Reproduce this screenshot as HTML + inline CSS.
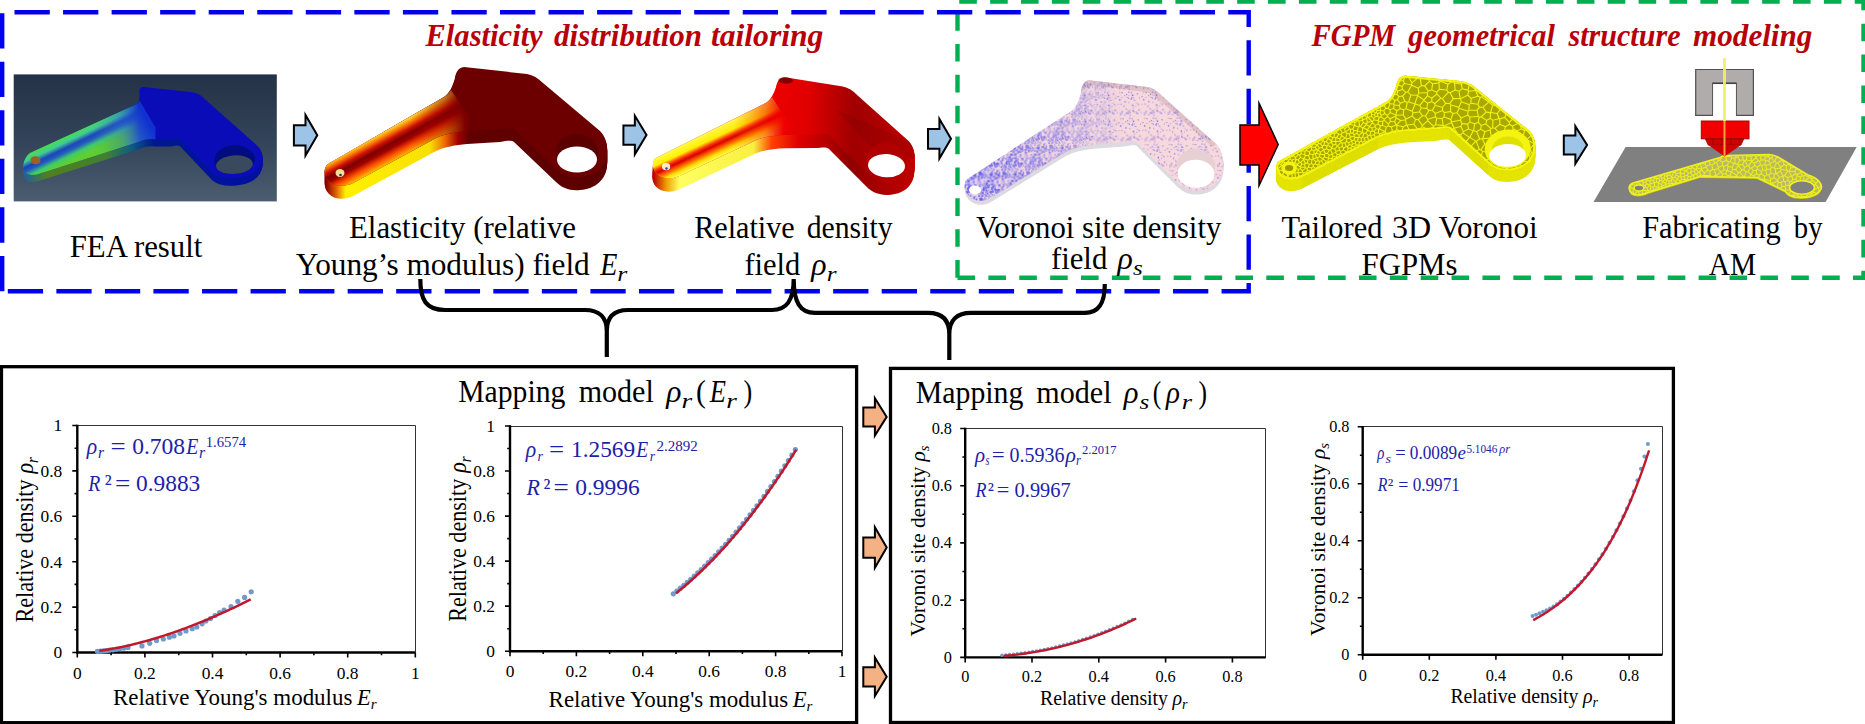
<!DOCTYPE html>
<html><head><meta charset="utf-8"><title>FGPM workflow</title>
<style>
html,body{margin:0;padding:0;background:#fff;}
body{width:1865px;height:724px;overflow:hidden;}
svg{display:block;font-family:'Liberation Serif','Times New Roman',serif;}
</style></head><body>
<svg width="1865" height="724" viewBox="0 0 1865 724">
<rect width="1865" height="724" fill="#fff"/>
<path d="M957.5,277.8 H1863.5 V1.5 H957.5 Z" fill="none" stroke="#00b050" stroke-width="4.4" stroke-dasharray="17.6 13.28"/>
<path d="M2.2,291.2 V12.2 H1248.7 V291.2 Z" fill="none" stroke="#0000f0" stroke-width="4.4" stroke-dasharray="35.3 13.25"/>
<text x="425.47" y="45.90" font-size="31.5" fill="#b80008" font-weight="bold" font-style="italic" textLength="117.24" lengthAdjust="spacingAndGlyphs">Elasticity</text>
<text x="554.10" y="45.90" font-size="31.5" fill="#b80008" font-weight="bold" font-style="italic" textLength="147.89" lengthAdjust="spacingAndGlyphs">distribution</text>
<text x="710.90" y="45.90" font-size="31.5" fill="#b80008" font-weight="bold" font-style="italic" textLength="112.55" lengthAdjust="spacingAndGlyphs">tailoring</text>
<text x="1311.52" y="46.20" font-size="31.5" fill="#b80008" font-weight="bold" font-style="italic" textLength="83.77" lengthAdjust="spacingAndGlyphs">FGPM</text>
<text x="1408.26" y="46.20" font-size="31.5" fill="#b80008" font-weight="bold" font-style="italic" textLength="146.60" lengthAdjust="spacingAndGlyphs">geometrical</text>
<text x="1568.55" y="46.20" font-size="31.5" fill="#b80008" font-weight="bold" font-style="italic" textLength="111.93" lengthAdjust="spacingAndGlyphs">structure</text>
<text x="1693.10" y="46.20" font-size="31.5" fill="#b80008" font-weight="bold" font-style="italic" textLength="119.24" lengthAdjust="spacingAndGlyphs">modeling</text>
<defs>
<path id="bkTop" d="M328,164 L444,97 C450,93 453,85 455,78 C456,72 458,68 464,67 L527,74 C533,75 538,78 543,83 L600,131 C606,137 608,146 607,153 C606,166 596,176 580,177 C570,178 562,175 556,169 L514,129 C511,127 507,128 500,129 L467,131 C455,132 445,134 436,138 L353,183 C345,187 335,187 329,181 C324,176 323,168 328,164 Z"/>
<path id="bkArm" d="M328,164 L444,97 C447,95 449,93 451,90 L470,118 L467,131 C455,132 445,134 436,138 L353,183 C345,187 335,187 329,181 C324,176 323,168 328,164 Z"/>
<path id="bkBlock" d="M451,90 C453,85 455,78 455,78 C456,72 458,68 464,67 L527,74 C533,75 538,78 543,83 L600,131 C606,137 608,146 607,153 C606,166 596,176 580,177 C570,178 562,175 556,169 L514,129 C511,127 507,128 500,129 L467,131 L470,118 Z"/>
<clipPath id="clipTop"><use href="#bkTop"/></clipPath>
<clipPath id="clipSee"><ellipse cx="577" cy="159.5" rx="20" ry="13"/></clipPath>
<linearGradient id="r1side" gradientUnits="userSpaceOnUse" x1="326" y1="0" x2="607" y2="0"><stop offset="0" stop-color="#8a0000"/><stop offset="0.036" stop-color="#e06000"/><stop offset="0.07" stop-color="#fff000"/><stop offset="0.37" stop-color="#f8e000"/><stop offset="0.42" stop-color="#f07000"/><stop offset="0.47" stop-color="#a00000"/><stop offset="0.51" stop-color="#620000"/><stop offset="1" stop-color="#5a0000"/></linearGradient>
<linearGradient id="r1arm" gradientUnits="userSpaceOnUse" x1="330" y1="178" x2="470" y2="105"><stop offset="0" stop-color="#d84000"/><stop offset="0.15" stop-color="#e86000"/><stop offset="0.5" stop-color="#c01000"/><stop offset="0.8" stop-color="#900000"/><stop offset="1" stop-color="#700000"/></linearGradient>
<linearGradient id="r1cross" gradientUnits="userSpaceOnUse" x1="386" y1="130.5" x2="400.5" y2="157.2"><stop offset="0" stop-color="#ffe040"/><stop offset="0.12" stop-color="#ff9000"/><stop offset="0.3" stop-color="#d01000"/><stop offset="0.45" stop-color="#780000"/><stop offset="0.6" stop-color="#a00000"/><stop offset="0.8" stop-color="#ff5000"/><stop offset="1" stop-color="#ffc000"/></linearGradient>
<linearGradient id="r1fade" gradientUnits="userSpaceOnUse" x1="330" y1="0" x2="465" y2="0"><stop offset="0" stop-color="#fff" stop-opacity="1"/><stop offset="0.6" stop-color="#fff" stop-opacity="0.95"/><stop offset="0.85" stop-color="#fff" stop-opacity="0.5"/><stop offset="1" stop-color="#fff" stop-opacity="0"/></linearGradient>
<mask id="r1mask"><rect x="300" y="50" width="200" height="160" fill="url(#r1fade)"/></mask>
<linearGradient id="r2side" gradientUnits="userSpaceOnUse" x1="326" y1="0" x2="607" y2="0"><stop offset="0" stop-color="#c00000"/><stop offset="0.05" stop-color="#f0a000"/><stop offset="0.1" stop-color="#ffff60"/><stop offset="0.38" stop-color="#f8f040"/><stop offset="0.45" stop-color="#ff4000"/><stop offset="0.55" stop-color="#e00000"/><stop offset="0.75" stop-color="#900000"/><stop offset="1" stop-color="#c00000"/></linearGradient>
<linearGradient id="r2top" gradientUnits="userSpaceOnUse" x1="440" y1="0" x2="607" y2="0"><stop offset="0" stop-color="#f00000"/><stop offset="0.3" stop-color="#e00000"/><stop offset="0.6" stop-color="#a00000"/><stop offset="1" stop-color="#c00000"/></linearGradient>
<linearGradient id="r2arm" gradientUnits="userSpaceOnUse" x1="330" y1="178" x2="470" y2="105"><stop offset="0" stop-color="#ffe000"/><stop offset="0.5" stop-color="#ff8000"/><stop offset="0.85" stop-color="#f00000"/><stop offset="1" stop-color="#f00000"/></linearGradient>
<linearGradient id="r2cross" gradientUnits="userSpaceOnUse" x1="386" y1="130.5" x2="400.5" y2="157.2"><stop offset="0" stop-color="#ffff50" stop-opacity="1"/><stop offset="0.3" stop-color="#fff000" stop-opacity="1"/><stop offset="0.45" stop-color="#ff3000" stop-opacity="1"/><stop offset="0.55" stop-color="#d00000" stop-opacity="1"/><stop offset="0.68" stop-color="#ff5000" stop-opacity="1"/><stop offset="0.85" stop-color="#ffe000" stop-opacity="1"/><stop offset="1" stop-color="#ffff60" stop-opacity="1"/></linearGradient>
<linearGradient id="feabg" x1="0" y1="0" x2="0" y2="1"><stop offset="0" stop-color="#233246"/><stop offset="0.55" stop-color="#34445a"/><stop offset="1" stop-color="#4d5d70"/></linearGradient>
<linearGradient id="feaarm" gradientUnits="userSpaceOnUse" x1="330" y1="178" x2="470" y2="105"><stop offset="0" stop-color="#30a040"/><stop offset="0.5" stop-color="#40b050"/><stop offset="0.8" stop-color="#3070c0"/><stop offset="1" stop-color="#1030d0"/></linearGradient>
<linearGradient id="feacross" gradientUnits="userSpaceOnUse" x1="386" y1="130.5" x2="400.5" y2="157.2"><stop offset="0" stop-color="#50e040" stop-opacity="1"/><stop offset="0.25" stop-color="#40d0a0" stop-opacity="0.9"/><stop offset="0.45" stop-color="#1838c8" stop-opacity="0.9"/><stop offset="0.6" stop-color="#2050d0" stop-opacity="0.9"/><stop offset="0.8" stop-color="#40d070" stop-opacity="0.9"/><stop offset="1" stop-color="#60d030" stop-opacity="1"/></linearGradient>
<linearGradient id="feaside" gradientUnits="userSpaceOnUse" x1="326" y1="0" x2="607" y2="0"><stop offset="0" stop-color="#2060a0"/><stop offset="0.1" stop-color="#508020"/><stop offset="0.35" stop-color="#408030"/><stop offset="0.45" stop-color="#106080"/><stop offset="0.55" stop-color="#001890"/><stop offset="1" stop-color="#0010a0"/></linearGradient>
<linearGradient id="vtop" gradientUnits="userSpaceOnUse" x1="330" y1="0" x2="607" y2="0"><stop offset="0" stop-color="#b8b0f0"/><stop offset="0.3" stop-color="#e8d0e8"/><stop offset="1" stop-color="#f6dcdc"/></linearGradient>
<pattern id="vdA" patternUnits="userSpaceOnUse" width="26" height="26"><rect x="11.8" y="14.6" width="2.4" height="2.4" fill="#7070f0" fill-opacity="0.57"/><rect x="4.9" y="20.9" width="2.4" height="2.4" fill="#3838e0" fill-opacity="0.68"/><rect x="2.4" y="7.9" width="1.3" height="1.3" fill="#7070f0" fill-opacity="0.62"/><rect x="16.5" y="15.5" width="2.4" height="2.4" fill="#7070f0" fill-opacity="0.88"/><rect x="19.2" y="16.9" width="1.3" height="1.3" fill="#3838e0" fill-opacity="0.80"/><rect x="1.5" y="4.9" width="1.6" height="1.6" fill="#5050e8" fill-opacity="0.66"/><rect x="8.5" y="15.4" width="1.6" height="1.6" fill="#7070f0" fill-opacity="0.61"/><rect x="7.6" y="0.1" width="1.3" height="1.3" fill="#5050e8" fill-opacity="0.57"/><rect x="10.6" y="14.3" width="1.3" height="1.3" fill="#5050e8" fill-opacity="0.72"/><rect x="19.7" y="13.3" width="1.3" height="1.3" fill="#3838e0" fill-opacity="0.34"/><rect x="10.4" y="22.0" width="2.4" height="2.4" fill="#3838e0" fill-opacity="0.34"/><rect x="22.0" y="0.0" width="1.6" height="1.6" fill="#3838e0" fill-opacity="0.86"/><rect x="12.2" y="25.5" width="2.4" height="2.4" fill="#7070f0" fill-opacity="0.55"/><rect x="16.4" y="20.2" width="2.0" height="2.0" fill="#5050e8" fill-opacity="0.50"/><rect x="8.6" y="25.1" width="1.3" height="1.3" fill="#7070f0" fill-opacity="0.38"/><rect x="2.6" y="1.6" width="2.4" height="2.4" fill="#7070f0" fill-opacity="0.41"/><rect x="4.9" y="13.2" width="1.6" height="1.6" fill="#5050e8" fill-opacity="0.55"/><rect x="3.0" y="10.9" width="1.6" height="1.6" fill="#7070f0" fill-opacity="0.30"/><rect x="7.9" y="23.0" width="1.6" height="1.6" fill="#7070f0" fill-opacity="0.41"/><rect x="16.7" y="2.6" width="1.6" height="1.6" fill="#5050e8" fill-opacity="0.43"/><rect x="0.2" y="15.9" width="2.0" height="2.0" fill="#3838e0" fill-opacity="0.53"/><rect x="2.3" y="15.2" width="1.6" height="1.6" fill="#5050e8" fill-opacity="0.31"/><rect x="9.7" y="11.8" width="2.4" height="2.4" fill="#3838e0" fill-opacity="0.80"/><rect x="22.5" y="4.8" width="1.6" height="1.6" fill="#3838e0" fill-opacity="0.49"/><rect x="21.3" y="6.5" width="1.6" height="1.6" fill="#7070f0" fill-opacity="0.40"/><rect x="24.5" y="5.1" width="2.4" height="2.4" fill="#7070f0" fill-opacity="0.83"/><rect x="2.0" y="1.2" width="1.3" height="1.3" fill="#5050e8" fill-opacity="0.32"/><rect x="6.2" y="18.3" width="2.0" height="2.0" fill="#7070f0" fill-opacity="0.55"/><rect x="12.8" y="13.5" width="1.3" height="1.3" fill="#5050e8" fill-opacity="0.38"/><rect x="14.5" y="22.2" width="1.3" height="1.3" fill="#3838e0" fill-opacity="0.47"/><rect x="19.5" y="1.8" width="2.4" height="2.4" fill="#3838e0" fill-opacity="0.57"/><rect x="1.2" y="7.3" width="1.6" height="1.6" fill="#3838e0" fill-opacity="0.36"/><rect x="23.2" y="25.5" width="1.6" height="1.6" fill="#3838e0" fill-opacity="0.65"/><rect x="12.3" y="9.3" width="2.0" height="2.0" fill="#3838e0" fill-opacity="0.88"/><rect x="15.6" y="1.9" width="1.3" height="1.3" fill="#5050e8" fill-opacity="0.74"/><rect x="3.6" y="1.9" width="2.4" height="2.4" fill="#7070f0" fill-opacity="0.63"/><rect x="1.2" y="24.3" width="1.6" height="1.6" fill="#5050e8" fill-opacity="0.78"/><rect x="9.1" y="17.8" width="1.3" height="1.3" fill="#5050e8" fill-opacity="0.82"/><rect x="24.6" y="0.8" width="2.4" height="2.4" fill="#7070f0" fill-opacity="0.64"/><rect x="17.2" y="9.9" width="1.3" height="1.3" fill="#3838e0" fill-opacity="0.67"/><rect x="2.4" y="3.0" width="2.0" height="2.0" fill="#7070f0" fill-opacity="0.83"/><rect x="8.6" y="24.3" width="2.4" height="2.4" fill="#7070f0" fill-opacity="0.56"/><rect x="2.2" y="19.5" width="1.3" height="1.3" fill="#3838e0" fill-opacity="0.49"/><rect x="12.5" y="6.0" width="1.3" height="1.3" fill="#7070f0" fill-opacity="0.60"/><rect x="17.2" y="12.6" width="1.3" height="1.3" fill="#3838e0" fill-opacity="0.52"/><rect x="17.6" y="5.3" width="1.6" height="1.6" fill="#5050e8" fill-opacity="0.75"/><rect x="17.2" y="11.5" width="1.6" height="1.6" fill="#7070f0" fill-opacity="0.50"/><rect x="6.5" y="16.5" width="1.6" height="1.6" fill="#5050e8" fill-opacity="0.83"/><rect x="5.7" y="23.9" width="1.6" height="1.6" fill="#5050e8" fill-opacity="0.38"/><rect x="9.1" y="23.3" width="1.3" height="1.3" fill="#5050e8" fill-opacity="0.73"/><rect x="21.4" y="2.9" width="2.4" height="2.4" fill="#3838e0" fill-opacity="0.47"/><rect x="21.6" y="9.9" width="2.4" height="2.4" fill="#7070f0" fill-opacity="0.70"/><rect x="21.8" y="25.5" width="2.4" height="2.4" fill="#3838e0" fill-opacity="0.49"/><rect x="7.2" y="15.8" width="2.0" height="2.0" fill="#5050e8" fill-opacity="0.64"/><rect x="16.9" y="14.7" width="1.6" height="1.6" fill="#3838e0" fill-opacity="0.54"/><rect x="0.6" y="21.6" width="1.6" height="1.6" fill="#3838e0" fill-opacity="0.77"/><rect x="25.6" y="3.0" width="1.3" height="1.3" fill="#7070f0" fill-opacity="0.68"/><rect x="16.6" y="9.6" width="1.3" height="1.3" fill="#3838e0" fill-opacity="0.71"/><rect x="21.4" y="6.7" width="1.3" height="1.3" fill="#7070f0" fill-opacity="0.75"/><rect x="18.6" y="4.7" width="2.0" height="2.0" fill="#7070f0" fill-opacity="0.77"/><rect x="18.1" y="13.5" width="1.6" height="1.6" fill="#7070f0" fill-opacity="0.54"/><rect x="23.6" y="2.3" width="2.4" height="2.4" fill="#5050e8" fill-opacity="0.38"/><rect x="5.1" y="23.1" width="1.3" height="1.3" fill="#7070f0" fill-opacity="0.53"/><rect x="17.0" y="13.1" width="2.0" height="2.0" fill="#7070f0" fill-opacity="0.58"/><rect x="25.5" y="2.6" width="1.3" height="1.3" fill="#5050e8" fill-opacity="0.43"/><rect x="25.5" y="25.4" width="2.0" height="2.0" fill="#7070f0" fill-opacity="0.46"/><rect x="22.3" y="9.1" width="1.3" height="1.3" fill="#5050e8" fill-opacity="0.32"/><rect x="14.3" y="20.0" width="2.4" height="2.4" fill="#3838e0" fill-opacity="0.85"/><rect x="21.0" y="1.7" width="1.3" height="1.3" fill="#5050e8" fill-opacity="0.40"/><rect x="17.9" y="23.8" width="2.4" height="2.4" fill="#7070f0" fill-opacity="0.39"/><rect x="23.4" y="13.5" width="2.4" height="2.4" fill="#5050e8" fill-opacity="0.87"/><rect x="15.1" y="17.9" width="1.6" height="1.6" fill="#7070f0" fill-opacity="0.56"/><rect x="7.5" y="18.9" width="1.6" height="1.6" fill="#7070f0" fill-opacity="0.61"/><rect x="6.7" y="17.5" width="1.6" height="1.6" fill="#3838e0" fill-opacity="0.48"/><rect x="25.2" y="13.6" width="2.4" height="2.4" fill="#7070f0" fill-opacity="0.42"/><rect x="3.0" y="0.1" width="2.4" height="2.4" fill="#3838e0" fill-opacity="0.32"/><rect x="13.4" y="10.4" width="1.3" height="1.3" fill="#7070f0" fill-opacity="0.59"/><rect x="4.3" y="24.2" width="2.4" height="2.4" fill="#5050e8" fill-opacity="0.55"/><rect x="7.0" y="12.3" width="1.6" height="1.6" fill="#5050e8" fill-opacity="0.50"/><rect x="13.6" y="2.8" width="2.4" height="2.4" fill="#5050e8" fill-opacity="0.67"/><rect x="3.4" y="20.3" width="1.3" height="1.3" fill="#3838e0" fill-opacity="0.32"/><rect x="5.9" y="17.9" width="2.0" height="2.0" fill="#3838e0" fill-opacity="0.73"/><rect x="16.1" y="2.7" width="1.3" height="1.3" fill="#7070f0" fill-opacity="0.81"/><rect x="6.5" y="5.1" width="2.4" height="2.4" fill="#7070f0" fill-opacity="0.31"/><rect x="10.7" y="13.8" width="1.6" height="1.6" fill="#7070f0" fill-opacity="0.62"/><rect x="13.9" y="5.7" width="1.6" height="1.6" fill="#7070f0" fill-opacity="0.81"/><rect x="15.3" y="3.5" width="2.0" height="2.0" fill="#5050e8" fill-opacity="0.84"/><rect x="15.7" y="23.2" width="1.6" height="1.6" fill="#3838e0" fill-opacity="0.43"/><rect x="23.1" y="3.5" width="1.6" height="1.6" fill="#3838e0" fill-opacity="0.38"/><rect x="6.7" y="2.5" width="2.4" height="2.4" fill="#7070f0" fill-opacity="0.63"/><rect x="3.3" y="10.5" width="1.3" height="1.3" fill="#7070f0" fill-opacity="0.36"/><rect x="17.7" y="23.7" width="2.0" height="2.0" fill="#7070f0" fill-opacity="0.37"/><rect x="16.5" y="8.9" width="1.6" height="1.6" fill="#5050e8" fill-opacity="0.78"/><rect x="2.8" y="1.0" width="2.4" height="2.4" fill="#3838e0" fill-opacity="0.39"/><rect x="3.0" y="4.5" width="1.6" height="1.6" fill="#7070f0" fill-opacity="0.89"/><rect x="2.5" y="1.6" width="2.4" height="2.4" fill="#3838e0" fill-opacity="0.35"/><rect x="8.5" y="12.1" width="2.0" height="2.0" fill="#7070f0" fill-opacity="0.56"/><rect x="9.7" y="16.5" width="1.3" height="1.3" fill="#3838e0" fill-opacity="0.81"/><rect x="10.6" y="9.3" width="2.0" height="2.0" fill="#3838e0" fill-opacity="0.54"/><rect x="15.7" y="2.5" width="1.3" height="1.3" fill="#3838e0" fill-opacity="0.49"/><rect x="20.8" y="18.3" width="2.4" height="2.4" fill="#3838e0" fill-opacity="0.64"/><rect x="13.1" y="25.5" width="2.0" height="2.0" fill="#3838e0" fill-opacity="0.47"/><rect x="19.4" y="20.2" width="2.4" height="2.4" fill="#5050e8" fill-opacity="0.38"/><rect x="22.9" y="18.1" width="2.4" height="2.4" fill="#5050e8" fill-opacity="0.76"/><rect x="5.4" y="4.8" width="2.0" height="2.0" fill="#3838e0" fill-opacity="0.48"/><rect x="0.3" y="9.2" width="1.3" height="1.3" fill="#7070f0" fill-opacity="0.44"/><rect x="7.8" y="5.6" width="2.4" height="2.4" fill="#7070f0" fill-opacity="0.64"/><rect x="2.0" y="13.4" width="2.4" height="2.4" fill="#7070f0" fill-opacity="0.69"/><rect x="3.1" y="10.3" width="1.3" height="1.3" fill="#3838e0" fill-opacity="0.37"/><rect x="19.2" y="6.7" width="2.4" height="2.4" fill="#3838e0" fill-opacity="0.60"/><rect x="16.8" y="0.3" width="2.0" height="2.0" fill="#5050e8" fill-opacity="0.45"/><rect x="14.3" y="13.2" width="1.3" height="1.3" fill="#7070f0" fill-opacity="0.68"/><rect x="2.0" y="15.5" width="1.3" height="1.3" fill="#3838e0" fill-opacity="0.53"/><rect x="10.0" y="25.2" width="2.4" height="2.4" fill="#7070f0" fill-opacity="0.63"/><rect x="1.5" y="24.6" width="2.4" height="2.4" fill="#5050e8" fill-opacity="0.47"/><rect x="15.5" y="9.5" width="2.0" height="2.0" fill="#5050e8" fill-opacity="0.59"/><rect x="14.6" y="7.4" width="2.0" height="2.0" fill="#3838e0" fill-opacity="0.32"/><rect x="15.2" y="16.5" width="2.4" height="2.4" fill="#5050e8" fill-opacity="0.75"/><rect x="1.4" y="8.2" width="2.4" height="2.4" fill="#7070f0" fill-opacity="0.33"/><rect x="24.6" y="1.9" width="1.6" height="1.6" fill="#5050e8" fill-opacity="0.56"/><rect x="6.5" y="19.6" width="1.3" height="1.3" fill="#7070f0" fill-opacity="0.61"/><rect x="23.6" y="3.8" width="1.6" height="1.6" fill="#3838e0" fill-opacity="0.66"/><rect x="1.3" y="10.8" width="1.3" height="1.3" fill="#3838e0" fill-opacity="0.42"/><rect x="9.3" y="4.0" width="2.0" height="2.0" fill="#7070f0" fill-opacity="0.57"/><rect x="10.8" y="15.6" width="2.4" height="2.4" fill="#7070f0" fill-opacity="0.52"/><rect x="13.8" y="25.9" width="2.0" height="2.0" fill="#3838e0" fill-opacity="0.74"/><rect x="12.5" y="13.1" width="2.0" height="2.0" fill="#7070f0" fill-opacity="0.77"/><rect x="22.0" y="7.1" width="1.6" height="1.6" fill="#3838e0" fill-opacity="0.68"/><rect x="4.9" y="6.5" width="1.6" height="1.6" fill="#3838e0" fill-opacity="0.83"/><rect x="16.3" y="0.2" width="2.0" height="2.0" fill="#7070f0" fill-opacity="0.56"/><rect x="1.0" y="5.8" width="2.0" height="2.0" fill="#3838e0" fill-opacity="0.34"/><rect x="23.7" y="4.2" width="1.6" height="1.6" fill="#5050e8" fill-opacity="0.68"/><rect x="12.6" y="9.2" width="2.0" height="2.0" fill="#7070f0" fill-opacity="0.51"/><rect x="3.5" y="22.6" width="1.3" height="1.3" fill="#7070f0" fill-opacity="0.57"/><rect x="21.8" y="20.0" width="2.4" height="2.4" fill="#5050e8" fill-opacity="0.55"/><rect x="10.1" y="3.9" width="1.6" height="1.6" fill="#7070f0" fill-opacity="0.69"/><rect x="8.5" y="14.3" width="1.6" height="1.6" fill="#5050e8" fill-opacity="0.56"/><rect x="15.1" y="12.0" width="2.0" height="2.0" fill="#3838e0" fill-opacity="0.35"/><rect x="11.2" y="14.8" width="2.4" height="2.4" fill="#3838e0" fill-opacity="0.48"/><rect x="2.0" y="5.5" width="1.3" height="1.3" fill="#5050e8" fill-opacity="0.72"/><rect x="18.8" y="18.0" width="2.0" height="2.0" fill="#3838e0" fill-opacity="0.83"/><rect x="9.3" y="18.9" width="2.0" height="2.0" fill="#5050e8" fill-opacity="0.84"/><rect x="18.4" y="14.8" width="2.0" height="2.0" fill="#5050e8" fill-opacity="0.56"/><rect x="11.9" y="5.8" width="1.6" height="1.6" fill="#5050e8" fill-opacity="0.35"/><rect x="0.6" y="17.6" width="2.4" height="2.4" fill="#7070f0" fill-opacity="0.78"/><rect x="14.7" y="20.7" width="1.6" height="1.6" fill="#7070f0" fill-opacity="0.80"/><rect x="4.6" y="2.3" width="2.4" height="2.4" fill="#5050e8" fill-opacity="0.83"/><rect x="21.1" y="5.8" width="1.3" height="1.3" fill="#7070f0" fill-opacity="0.63"/><rect x="7.7" y="0.6" width="2.4" height="2.4" fill="#7070f0" fill-opacity="0.34"/><rect x="7.9" y="14.2" width="2.0" height="2.0" fill="#7070f0" fill-opacity="0.35"/></pattern>
<pattern id="vdB" patternUnits="userSpaceOnUse" width="26" height="26"><rect x="2.7" y="8.2" width="1.0" height="1.0" fill="#5050e0" fill-opacity="0.68"/><rect x="2.5" y="21.2" width="1.2" height="1.2" fill="#5050e0" fill-opacity="0.45"/><rect x="12.7" y="23.6" width="1.2" height="1.2" fill="#7070f0" fill-opacity="0.76"/><rect x="9.1" y="21.0" width="1.2" height="1.2" fill="#7070f0" fill-opacity="0.70"/><rect x="12.7" y="20.9" width="1.0" height="1.0" fill="#5050e0" fill-opacity="0.72"/><rect x="10.7" y="21.5" width="1.5" height="1.5" fill="#5050e0" fill-opacity="0.51"/><rect x="21.0" y="21.7" width="1.2" height="1.2" fill="#5050e0" fill-opacity="0.87"/><rect x="13.6" y="18.5" width="1.0" height="1.0" fill="#7070f0" fill-opacity="0.55"/><rect x="23.8" y="6.4" width="1.0" height="1.0" fill="#7070f0" fill-opacity="0.89"/><rect x="17.8" y="8.3" width="1.2" height="1.2" fill="#7070f0" fill-opacity="0.55"/><rect x="7.1" y="23.0" width="1.2" height="1.2" fill="#5050e0" fill-opacity="0.49"/><rect x="7.9" y="4.0" width="1.0" height="1.0" fill="#7070f0" fill-opacity="0.85"/><rect x="0.4" y="12.5" width="1.0" height="1.0" fill="#5050e0" fill-opacity="0.49"/><rect x="4.8" y="5.7" width="1.0" height="1.0" fill="#7070f0" fill-opacity="0.66"/><rect x="15.5" y="5.8" width="1.0" height="1.0" fill="#7070f0" fill-opacity="0.84"/><rect x="4.5" y="19.7" width="1.2" height="1.2" fill="#7070f0" fill-opacity="0.68"/><rect x="22.2" y="12.6" width="1.2" height="1.2" fill="#7070f0" fill-opacity="0.85"/><rect x="17.2" y="20.1" width="1.0" height="1.0" fill="#5050e0" fill-opacity="0.59"/><rect x="10.4" y="5.7" width="1.0" height="1.0" fill="#7070f0" fill-opacity="0.78"/><rect x="25.4" y="20.7" width="1.2" height="1.2" fill="#5050e0" fill-opacity="0.77"/><rect x="17.1" y="6.2" width="1.0" height="1.0" fill="#7070f0" fill-opacity="0.82"/><rect x="11.7" y="6.4" width="1.2" height="1.2" fill="#5050e0" fill-opacity="0.66"/><rect x="10.8" y="20.1" width="1.0" height="1.0" fill="#5050e0" fill-opacity="0.46"/><rect x="16.6" y="25.8" width="1.2" height="1.2" fill="#5050e0" fill-opacity="0.61"/><rect x="3.9" y="20.0" width="1.0" height="1.0" fill="#5050e0" fill-opacity="0.42"/><rect x="21.4" y="2.1" width="1.2" height="1.2" fill="#5050e0" fill-opacity="0.67"/><rect x="23.1" y="18.0" width="1.0" height="1.0" fill="#7070f0" fill-opacity="0.87"/><rect x="0.5" y="4.9" width="1.0" height="1.0" fill="#5050e0" fill-opacity="0.85"/><rect x="20.3" y="11.4" width="1.0" height="1.0" fill="#7070f0" fill-opacity="0.63"/><rect x="4.1" y="21.6" width="1.2" height="1.2" fill="#7070f0" fill-opacity="0.49"/><rect x="2.0" y="7.9" width="1.2" height="1.2" fill="#5050e0" fill-opacity="0.70"/><rect x="9.4" y="17.9" width="1.0" height="1.0" fill="#7070f0" fill-opacity="0.70"/><rect x="19.4" y="20.4" width="1.0" height="1.0" fill="#5050e0" fill-opacity="0.69"/><rect x="22.5" y="18.5" width="1.2" height="1.2" fill="#5050e0" fill-opacity="0.44"/><rect x="11.9" y="0.3" width="1.5" height="1.5" fill="#5050e0" fill-opacity="0.42"/><rect x="7.6" y="9.8" width="1.5" height="1.5" fill="#7070f0" fill-opacity="0.75"/><rect x="19.6" y="14.4" width="1.0" height="1.0" fill="#5050e0" fill-opacity="0.45"/><rect x="9.8" y="2.8" width="1.2" height="1.2" fill="#7070f0" fill-opacity="0.87"/><rect x="18.8" y="8.6" width="1.2" height="1.2" fill="#5050e0" fill-opacity="0.36"/><rect x="16.2" y="3.4" width="1.5" height="1.5" fill="#5050e0" fill-opacity="0.72"/><rect x="5.0" y="0.9" width="1.2" height="1.2" fill="#5050e0" fill-opacity="0.66"/><rect x="2.6" y="0.8" width="1.0" height="1.0" fill="#5050e0" fill-opacity="0.56"/><rect x="8.9" y="21.4" width="1.5" height="1.5" fill="#5050e0" fill-opacity="0.38"/><rect x="19.9" y="21.3" width="1.2" height="1.2" fill="#7070f0" fill-opacity="0.59"/><rect x="16.2" y="18.9" width="1.5" height="1.5" fill="#5050e0" fill-opacity="0.72"/><rect x="17.2" y="15.8" width="1.0" height="1.0" fill="#5050e0" fill-opacity="0.46"/><rect x="8.9" y="16.9" width="1.0" height="1.0" fill="#5050e0" fill-opacity="0.63"/><rect x="13.2" y="20.5" width="1.0" height="1.0" fill="#5050e0" fill-opacity="0.67"/><rect x="6.6" y="14.0" width="1.2" height="1.2" fill="#7070f0" fill-opacity="0.63"/><rect x="15.9" y="13.3" width="1.5" height="1.5" fill="#5050e0" fill-opacity="0.73"/><rect x="14.8" y="0.7" width="1.5" height="1.5" fill="#5050e0" fill-opacity="0.42"/><rect x="3.5" y="12.4" width="1.2" height="1.2" fill="#7070f0" fill-opacity="0.72"/><rect x="2.4" y="22.7" width="1.2" height="1.2" fill="#5050e0" fill-opacity="0.58"/><rect x="11.8" y="19.0" width="1.0" height="1.0" fill="#5050e0" fill-opacity="0.84"/><rect x="14.6" y="6.9" width="1.5" height="1.5" fill="#7070f0" fill-opacity="0.90"/><rect x="15.6" y="3.2" width="1.0" height="1.0" fill="#7070f0" fill-opacity="0.47"/><rect x="6.3" y="14.9" width="1.0" height="1.0" fill="#5050e0" fill-opacity="0.41"/><rect x="11.8" y="10.5" width="1.5" height="1.5" fill="#7070f0" fill-opacity="0.38"/><rect x="16.0" y="16.6" width="1.0" height="1.0" fill="#7070f0" fill-opacity="0.40"/><rect x="12.2" y="3.7" width="1.2" height="1.2" fill="#7070f0" fill-opacity="0.37"/></pattern>
<linearGradient id="vfade" gradientUnits="userSpaceOnUse" x1="330" y1="0" x2="500" y2="0"><stop offset="0" stop-color="#fff" stop-opacity="1"/><stop offset="0.6" stop-color="#fff" stop-opacity="0.55"/><stop offset="1" stop-color="#fff" stop-opacity="0"/></linearGradient>
<mask id="vmask"><rect x="300" y="50" width="330" height="160" fill="url(#vfade)"/></mask>
<linearGradient id="vtop2" gradientUnits="userSpaceOnUse" x1="330" y1="0" x2="520" y2="0"><stop offset="0" stop-color="#e4d0ec"/><stop offset="0.45" stop-color="#f2d6e0"/><stop offset="1" stop-color="#f7d8dc"/></linearGradient>
</defs>
<rect x="13.7" y="74.4" width="263.1" height="127" fill="url(#feabg)"/><g transform="matrix(0.8463,0.0338,0.0256,0.8009,-256.8,14.13)"><defs><path id="bkTopF" d="M 334.07,159.29 L 462.28,92.70 C 465.49,90.38 465.79,84.24 465.84,78.99 C 465.60,74.29 466.59,71.26 471.21,71.13 L 528.12,75.20 C 534.06,75.81 538.95,78.63 543.73,83.83 L 601.89,137.63 C 607.92,142.62 609.82,150.00 608.64,155.95 C 606.64,168.12 595.07,178.39 577.33,180.54 C 564.78,182.71 555.12,180.65 548.52,175.21 L 512.17,134.80 C 509.95,132.69 506.90,133.89 502.00,135.11 L 482.95,136.03 C 476.72,135.35 471.07,136.06 464.64,139.42 L 347.04,183.59 C 337.56,188.01 328.67,187.77 326.35,180.50 C 324.29,174.87 327.29,164.99 334.07,159.29 Z"/></defs><use href="#bkTopF" y="9" fill="url(#feaside)"/><use href="#bkTopF" y="8" fill="url(#feaside)"/><use href="#bkTopF" y="7" fill="url(#feaside)"/><use href="#bkTopF" y="6" fill="url(#feaside)"/><use href="#bkTopF" y="5" fill="url(#feaside)"/><use href="#bkTopF" y="4" fill="url(#feaside)"/><use href="#bkTopF" y="3" fill="url(#feaside)"/><use href="#bkTopF" y="2" fill="url(#feaside)"/><use href="#bkTopF" y="1" fill="url(#feaside)"/><use href="#bkTopF" fill="#0a0cb8"/><path d="M 334.07,159.29 L 462.28,92.70 C 463.88,91.46 464.79,90.12 465.48,87.97 L 483.58,121.35 L 482.95,136.03 C 476.72,135.35 471.07,136.06 464.64,139.42 L 347.04,183.59 C 337.56,188.01 328.67,187.77 326.35,180.50 C 324.29,174.87 327.29,164.99 334.07,159.29 Z" fill="url(#feaarm)"/><g mask="url(#r1mask)"><path d="M 334.07,159.29 L 462.28,92.70 C 463.88,91.46 464.79,90.12 465.48,87.97 L 483.58,121.35 L 482.95,136.03 C 476.72,135.35 471.07,136.06 464.64,139.42 L 347.04,183.59 C 337.56,188.01 328.67,187.77 326.35,180.50 C 324.29,174.87 327.29,164.99 334.07,159.29 Z" fill="url(#feacross)"/></g><path d="M 600.16,155.35 C 599.46,164.41 588.72,172.69 575.64,173.59 C 560.60,175.02 550.15,167.83 552.21,157.51 C 553.56,147.31 565.16,139.00 578.32,139.25 C 590.59,139.81 600.19,146.98 600.16,155.35 Z" fill="#000c80"/><path d="M 597.32,162.20 C 596.46,168.53 586.91,174.29 575.23,175.14 C 562.10,176.38 552.31,171.92 553.87,165.02 C 555.18,158.20 566.29,152.21 578.65,151.76 C 589.67,151.63 597.75,156.19 597.32,162.20 Z" fill="#3a4a5e"/><ellipse cx="340.3" cy="168.1" rx="6" ry="5" fill="#a06020"/></g>
<g><use href="#bkTop" y="13" fill="url(#r1side)"/><use href="#bkTop" y="12" fill="url(#r1side)"/><use href="#bkTop" y="11" fill="url(#r1side)"/><use href="#bkTop" y="10" fill="url(#r1side)"/><use href="#bkTop" y="9" fill="url(#r1side)"/><use href="#bkTop" y="8" fill="url(#r1side)"/><use href="#bkTop" y="7" fill="url(#r1side)"/><use href="#bkTop" y="6" fill="url(#r1side)"/><use href="#bkTop" y="5" fill="url(#r1side)"/><use href="#bkTop" y="4" fill="url(#r1side)"/><use href="#bkTop" y="3" fill="url(#r1side)"/><use href="#bkTop" y="2" fill="url(#r1side)"/><use href="#bkTop" y="1" fill="url(#r1side)"/><use href="#bkTop" fill="#6c0000"/><use href="#bkArm" fill="url(#r1arm)"/><g mask="url(#r1mask)"><use href="#bkArm" fill="url(#r1cross)"/></g><ellipse cx="577" cy="152" rx="21" ry="18" fill="#5a0000"/><ellipse cx="577" cy="159.5" rx="20" ry="13" fill="#fff"/><ellipse cx="340" cy="173" rx="4.5" ry="4" fill="#fff8a0" opacity="0.9"/><circle cx="340.5" cy="175" r="1.3" fill="#203080"/></g>
<g transform="matrix(0.9245,0.0465,-0.0298,0.8979,357.83,-4.45)"><g><use href="#bkTop" y="15" fill="url(#r2side)"/><use href="#bkTop" y="14" fill="url(#r2side)"/><use href="#bkTop" y="13" fill="url(#r2side)"/><use href="#bkTop" y="12" fill="url(#r2side)"/><use href="#bkTop" y="11" fill="url(#r2side)"/><use href="#bkTop" y="10" fill="url(#r2side)"/><use href="#bkTop" y="9" fill="url(#r2side)"/><use href="#bkTop" y="8" fill="url(#r2side)"/><use href="#bkTop" y="7" fill="url(#r2side)"/><use href="#bkTop" y="6" fill="url(#r2side)"/><use href="#bkTop" y="5" fill="url(#r2side)"/><use href="#bkTop" y="4" fill="url(#r2side)"/><use href="#bkTop" y="3" fill="url(#r2side)"/><use href="#bkTop" y="2" fill="url(#r2side)"/><use href="#bkTop" y="1" fill="url(#r2side)"/><use href="#bkTop" fill="url(#r2top)"/><use href="#bkArm" fill="url(#r2arm)"/><g mask="url(#r1mask)"><use href="#bkArm" fill="url(#r2cross)"/></g><ellipse cx="465" cy="70.5" rx="8" ry="3.5" fill="#300000" opacity="0.55"/><path d="M520,100 L600,131 C606,137 607,146 606,150 L560,140 Z" fill="#700000" opacity="0.2"/><ellipse cx="577" cy="152" rx="21" ry="18" fill="#b00000"/><ellipse cx="577" cy="159.5" rx="20" ry="13" fill="#fff"/><ellipse cx="339" cy="173" rx="4.5" ry="4" fill="#fffff0" opacity="0.9"/><circle cx="339.5" cy="175" r="1.4" fill="#2040c0"/></g></g>
<g transform="matrix(0.9186,-0.0065,0.0333,1.0069,660.62,15.90)"><use href="#bkTop" y="4" fill="#dcdae0"/><use href="#bkTop" y="3" fill="#dcdae0"/><use href="#bkTop" y="2" fill="#dcdae0"/><use href="#bkTop" y="1" fill="#dcdae0"/><use href="#bkTop" fill="url(#vtop2)"/><path d="M455,78 C456,72 458,68 464,67 L527,74 C533,75 538,78 543,83 L600,131 L596,134 L540,87 C535,83 530,80 525,79 L466,72 Z" fill="#e2c2c4"/><use href="#bkTop" fill="url(#vdB)"/><g mask="url(#vmask)"><use href="#bkTop" fill="url(#vdA)"/></g><ellipse cx="577" cy="153" rx="21" ry="17" fill="#e6d0d4"/><ellipse cx="577" cy="160.5" rx="20" ry="14" fill="#fff"/><ellipse cx="336" cy="175" rx="6.5" ry="4.5" fill="#fff"/></g>
<g transform="matrix(0.9176,-0.0073,-0.0092,0.8712,979.60,20.58)"><use href="#bkTop" y="13" fill="#e4e400"/><use href="#bkTop" y="12" fill="#e4e400"/><use href="#bkTop" y="11" fill="#e4e400"/><use href="#bkTop" y="10" fill="#e4e400"/><use href="#bkTop" y="9" fill="#e4e400"/><use href="#bkTop" y="8" fill="#e4e400"/><use href="#bkTop" y="7" fill="#e4e400"/><use href="#bkTop" y="6" fill="#e4e400"/><use href="#bkTop" y="5" fill="#e4e400"/><use href="#bkTop" y="4" fill="#e4e400"/><use href="#bkTop" y="3" fill="#e4e400"/><use href="#bkTop" y="2" fill="#e4e400"/><use href="#bkTop" y="1" fill="#e4e400"/><path d="M436,151 L353,196 L353,183 L436,138 Z M514,142 L556,182 L556,169 L514,129 Z" fill="#d8d800" opacity="0.5"/><use href="#bkTop" fill="#f4f410"/><g clip-path="url(#clipTop)"><path d="M386.1,131.6 387.9,132.7 390.0,131.6 390.0,130.3 387.4,129.3ZM426.7,135.8 425.1,136.2 424.8,136.9 425.8,140.4 428.2,139.9 428.4,139.5ZM499.6,64.9 498.0,67.8 502.2,74.0 503.2,73.7 506.9,66.0ZM324.0,170.3 324.1,167.8 323.3,167.0 320.2,168.2 321.0,170.4ZM394.2,92.7 396.8,91.0 394.7,88.1 393.1,88.4 392.0,91.2ZM608.3,116.2 605.6,121.7 611.4,126.3 611.4,115.0ZM561.2,119.5 561.0,127.4 562.7,127.6 567.7,123.6 567.4,118.0ZM509.5,83.3 510.5,77.7 503.6,74.8 502.3,75.2 501.9,75.8 502.5,82.6ZM509.1,170.7 506.0,168.5 498.5,173.3 498.4,173.8 501.5,176.3 507.6,175.4ZM465.5,158.6 466.2,160.3 470.2,161.8 475.3,160.0 477.3,156.3 469.9,151.7ZM515.2,74.2 516.5,74.2 519.8,68.9 519.6,68.0 515.0,64.7 510.6,66.0ZM539.7,131.6 536.4,138.4 542.5,142.4 545.7,140.2 542.5,132.3ZM406.1,66.3 407.9,64.0 407.5,62.7 406.8,62.5 404.5,64.1 404.4,65.5ZM568.9,123.5 574.2,125.9 578.0,123.5 577.9,121.8 573.3,116.8 568.6,118.1ZM525.0,178.2 525.4,178.8 532.6,178.3 535.1,175.2 531.3,169.8 526.4,172.2ZM431.5,164.2 434.4,166.8 435.0,166.2 435.6,162.7 433.6,161.7 432.3,162.1ZM450.4,180.1 447.7,179.6 446.4,181.8 448.1,185.1 451.6,182.6ZM574.2,77.5 580.2,77.2 580.1,68.6 572.3,70.6ZM355.3,89.0 356.8,90.1 359.9,88.6 357.8,85.9ZM600.7,122.6 604.4,121.4 607.1,116.0 599.7,111.3 596.9,114.3 596.2,118.9ZM503.8,93.9 497.7,99.6 498.0,101.1 505.3,103.1 508.2,99.3 504.9,94.2ZM463.8,106.8 463.5,112.1 465.9,116.1 472.0,113.1 472.8,109.9 472.1,108.5 465.7,105.8ZM420.7,137.7 423.7,136.4 424.0,135.7 422.0,133.5 420.5,133.5 419.5,137.3ZM484.8,178.7 491.1,183.4 491.5,183.2 494.9,175.4 487.3,173.1ZM512.6,182.2 517.7,186.1 524.2,180.4 524.5,179.6 524.0,178.8 517.9,176.5ZM571.9,183.6 567.8,183.4 564.8,186.7 564.6,189.4 573.0,189.4ZM512.1,86.1 513.4,86.6 518.5,83.8 517.8,76.6 516.6,75.4 515.1,75.4 511.7,77.6 510.6,83.8ZM586.8,131.9 583.1,129.9 580.7,133.8 582.5,137.0 586.9,137.2ZM525.2,93.2 532.4,89.7 533.1,85.7 532.6,85.0 526.8,83.3 523.9,85.7ZM559.8,138.6 565.4,137.2 567.0,133.7 562.6,128.8 560.5,128.5 559.0,129.1 558.3,130.2ZM402.3,69.9 403.7,66.5 403.6,66.4 401.0,66.7 400.1,68.8ZM345.8,162.2 342.6,163.3 343.5,165.9 344.8,165.6ZM442.6,80.3 440.5,77.3 437.3,79.1 438.4,81.7 442.2,81.4ZM403.9,162.2 405.6,161.6 406.1,158.7 404.9,157.7 402.5,159.8 403.0,161.6ZM570.5,68.7 571.7,69.6 580.4,67.3 580.7,66.7 578.4,60.6 573.5,60.6ZM526.3,98.4 523.9,103.8 524.2,104.8 533.2,107.6 533.6,107.1 534.0,101.3ZM580.2,184.5 573.2,183.9 574.2,189.4 583.3,189.4ZM469.5,187.6 463.6,185.6 461.7,189.4 469.9,189.4ZM407.4,72.1 410.3,70.9 410.8,68.7 407.8,68.6ZM498.7,64.2 497.4,60.6 491.7,60.6 490.8,68.6 496.9,67.3ZM376.3,110.8 373.8,113.4 376.3,115.5 376.9,115.4 378.6,111.6ZM501.3,83.0 500.8,76.3 495.0,77.3 494.2,83.5 498.8,85.6ZM328.7,173.9 332.3,174.4 332.8,173.2 332.0,170.9 330.7,170.4 327.8,172.6ZM411.9,182.3 410.3,182.4 408.4,185.7 410.2,186.5 412.3,185.3 413.0,183.6ZM586.9,109.4 586.8,107.4 580.0,104.5 576.7,110.2 584.3,113.4ZM453.3,130.2 455.4,128.6 455.3,124.3 450.5,126.2 451.7,129.7ZM504.2,141.0 512.2,139.3 513.0,138.2 511.3,133.8 507.3,131.6 505.4,132.7 503.7,140.3ZM476.7,139.8 477.6,143.8 481.7,146.7 485.0,143.9 485.4,137.1 484.6,136.7ZM600.0,123.5 595.4,119.9 591.1,121.5 590.8,122.1 592.1,128.9 595.2,130.3 599.0,128.9ZM442.4,153.8 444.3,156.5 448.0,155.4 448.3,154.3 446.6,151.4 445.2,150.9ZM390.1,97.9 387.4,97.6 386.0,98.9 388.2,100.8 390.2,98.8ZM604.7,122.5 601.1,123.7 600.2,129.2 602.3,131.3 611.4,130.1 611.4,127.8ZM483.0,60.6 476.5,60.6 476.4,65.0 480.0,68.0 481.5,67.6ZM437.8,134.3 437.8,135.2 442.7,138.7 445.1,134.9 443.0,132.1ZM322.0,140.0 324.9,141.9 325.1,138.7 323.9,138.2ZM504.7,117.3 499.8,117.0 498.8,123.2 505.7,123.9ZM517.3,110.5 520.9,109.6 523.0,105.2 522.8,104.3 515.0,101.8 514.9,108.5ZM519.9,156.9 525.5,160.8 530.2,157.2 530.0,153.8 525.5,151.9ZM323.3,66.0 322.0,67.8 322.8,69.1 326.7,68.8 325.7,66.4ZM392.2,122.0 393.1,118.9 391.3,117.2 390.0,117.8 389.2,120.0ZM489.1,104.7 490.9,106.6 494.1,106.4 496.9,101.5 496.5,99.8 493.9,97.8 489.7,99.3ZM425.9,98.6 424.1,98.0 422.8,99.7 422.9,100.7 424.1,102.0 426.8,101.2ZM405.9,106.8 405.1,109.6 407.6,111.3 408.3,109.8ZM541.9,66.7 547.4,67.9 549.8,65.7 550.9,60.6 542.4,60.6ZM482.5,150.5 479.9,155.4 485.2,159.1 489.6,156.2 489.3,153.3ZM406.9,88.6 408.8,91.3 410.6,89.4 410.1,87.3ZM548.8,92.2 555.4,96.8 559.4,91.1 558.0,88.8 552.1,86.9ZM372.7,114.0 371.8,116.7 373.2,118.7 375.3,116.2ZM527.6,74.3 526.9,71.3 520.7,69.8 517.6,74.7 518.7,75.8 525.6,76.7ZM414.5,104.9 413.3,102.3 411.8,102.1 410.8,104.4 412.6,106.3ZM564.5,80.0 568.2,86.1 571.9,86.3 573.3,78.4 564.9,79.5ZM416.0,143.3 415.6,145.7 418.7,146.3 418.4,143.3 417.4,142.7ZM382.7,77.9 385.7,77.3 384.9,73.8 382.3,75.1 381.9,76.6ZM471.1,88.7 477.8,89.1 478.8,87.1 478.3,81.9 471.9,79.0 468.2,85.8ZM552.9,171.5 556.3,172.1 561.0,165.8 560.2,164.6 557.1,163.9 551.5,166.0ZM370.0,96.3 371.5,98.2 372.0,98.3 373.2,97.2 373.0,94.1 370.3,95.5ZM550.1,140.7 552.4,145.8 558.8,147.4 559.8,146.3 558.9,140.0ZM557.5,109.7 559.5,102.2 555.7,99.0 550.4,104.3 553.5,109.1ZM358.0,98.7 357.2,95.4 354.4,96.3 353.5,98.0 357.4,99.5ZM422.5,115.4 422.8,115.0 419.1,112.0 418.1,114.1 419.1,116.6ZM439.1,113.9 442.1,116.1 445.0,113.7 445.0,112.9 442.6,111.2 439.4,113.0ZM593.8,81.7 593.7,77.7 590.9,75.3 582.7,79.0 582.8,79.5 588.7,84.2 592.6,83.3ZM321.7,184.7 322.2,183.5 321.8,181.1 319.3,179.8 318.6,179.8 318.6,184.4ZM593.7,93.0 594.6,91.5 592.5,84.5 589.0,85.3 586.8,90.2 589.7,93.6ZM537.8,162.8 532.2,168.5 536.2,174.7 538.2,174.5 541.8,171.9ZM507.9,130.5 511.7,132.7 517.7,127.7 515.1,122.1 507.9,125.7ZM405.2,105.6 405.9,104.2 405.2,103.1 401.1,103.5 400.6,104.0 400.5,104.9 401.3,105.8ZM387.6,69.9 386.1,67.6 383.8,67.9 383.5,69.7 385.8,71.4 387.1,70.9ZM551.0,65.8 557.3,70.1 558.2,69.7 559.4,64.6 554.7,60.6 552.1,60.6ZM583.2,155.9 584.6,156.1 587.6,148.9 586.6,146.3 579.8,146.4 578.4,150.3ZM589.1,180.0 592.4,178.7 592.9,173.9 590.8,171.2 588.2,171.3 585.4,177.1ZM318.7,156.2 320.9,158.3 323.1,157.7 323.3,156.2 320.3,155.3ZM367.0,97.6 366.6,99.9 368.9,100.3 370.4,98.7 369.1,97.1ZM436.8,183.8 440.7,184.0 441.9,181.5 440.3,179.0 439.8,179.1ZM394.7,173.5 393.1,170.2 391.3,169.6 390.1,172.0 391.2,174.7 393.4,174.8ZM455.2,159.8 457.1,164.5 461.3,166.2 465.1,160.7 464.5,159.1 457.2,158.0ZM420.1,87.6 422.4,87.8 423.5,85.7 422.8,83.6 420.2,83.9ZM472.5,169.1 477.6,169.7 478.5,168.9 479.1,165.8 475.5,161.2 471.0,162.8ZM365.8,162.3 368.1,164.2 369.9,163.5 369.4,161.0ZM588.0,170.1 590.8,170.0 593.0,167.0 591.4,159.7 587.4,159.2 585.0,167.6ZM330.4,94.7 332.3,97.3 333.5,97.1 334.9,94.7 332.5,93.0ZM394.8,128.1 396.9,131.4 399.1,130.7 398.6,127.7 397.6,127.0ZM444.5,125.2 446.0,124.2 446.1,122.7 442.0,118.7 441.2,119.5 440.9,123.7ZM335.8,77.1 335.7,76.1 332.8,74.6 332.1,75.9 333.2,77.9ZM353.4,66.8 352.1,68.6 354.9,70.3 356.6,68.0 356.1,66.6ZM601.4,174.2 602.4,175.5 606.1,175.9 610.6,172.5 606.6,167.4 601.9,166.7ZM345.3,126.0 345.4,124.3 344.9,123.4 343.0,123.5 341.5,126.1 341.7,126.7ZM420.0,146.7 423.8,143.6 423.7,143.1 421.6,142.4 419.6,143.3ZM375.7,101.9 373.6,101.5 372.4,104.1 374.9,104.4ZM353.3,129.8 352.8,134.0 355.0,134.3 356.1,133.5 356.7,132.2ZM339.6,82.3 340.0,85.9 341.0,85.9 343.6,84.4 343.6,83.6 342.1,81.7ZM552.4,109.6 549.3,104.8 546.1,104.5 543.9,107.7 545.2,114.3 545.8,114.8 547.5,114.5ZM445.5,111.8 447.9,109.2 447.7,106.4 446.2,105.1 444.1,105.1 442.2,107.2 443.2,110.1ZM464.9,157.4 469.1,150.8 469.0,149.4 465.5,146.5 460.4,148.9ZM444.3,150.1 443.1,148.0 440.8,147.8 439.7,150.6 441.8,152.4ZM455.5,89.1 450.9,89.3 449.9,92.0 453.9,94.8 455.7,94.2 457.1,91.0ZM478.1,155.4 478.6,155.1 481.6,149.6 481.2,147.8 477.0,144.9 470.2,149.4 470.3,150.5ZM341.0,115.7 341.2,114.3 337.8,114.1 337.3,115.5 338.2,116.7ZM443.3,171.4 441.6,173.3 442.0,176.5 445.8,175.6 445.9,175.2ZM599.1,110.2 599.2,108.5 596.6,104.1 590.1,104.8 588.0,107.2 588.1,109.2 596.2,113.2ZM575.9,163.0 578.3,167.3 583.9,167.3 586.3,158.8 584.7,157.4 583.0,157.1ZM393.3,122.4 395.2,122.2 397.1,119.1 396.6,118.6 394.3,119.2ZM355.6,167.3 356.0,166.9 354.4,163.7 352.3,165.8 353.1,167.0ZM510.7,170.9 510.3,171.0 508.8,175.8 512.1,180.9 517.1,175.6 516.5,173.8ZM534.2,129.6 529.0,132.3 528.8,133.1 535.3,137.8 538.5,131.4ZM346.7,134.7 347.0,138.4 347.9,139.3 350.1,138.5 350.6,135.5 347.7,134.2ZM318.6,77.4 318.6,80.2 320.5,80.7 321.3,79.3 320.6,77.6ZM344.3,71.5 343.4,73.3 346.2,75.5 346.6,75.3 345.8,72.0ZM573.1,86.4 579.1,86.8 581.6,79.8 581.4,79.0 580.6,78.4 574.5,78.7ZM352.0,170.8 355.7,170.7 355.4,168.5 353.2,168.2ZM519.7,168.3 515.4,164.5 511.7,170.0 516.8,172.6ZM601.7,136.9 601.5,132.2 599.4,130.1 595.7,131.4 594.0,139.8 597.3,141.2ZM546.8,128.9 547.3,125.0 544.4,122.1 541.3,123.5 540.3,130.5 542.8,131.2ZM538.1,175.7 536.2,175.9 533.6,179.0 535.5,185.2 542.6,183.9ZM333.9,103.4 335.7,104.6 338.4,102.3 338.3,101.2 337.7,100.6 335.9,100.4ZM480.2,166.1 479.8,168.9 486.6,171.8 487.9,166.5 485.1,164.2ZM391.5,81.6 388.7,80.8 387.2,82.8 388.3,85.6 390.0,85.4ZM390.1,141.5 393.9,141.3 393.4,139.6 390.4,138.2 390.1,138.2ZM544.0,114.1 542.8,108.1 534.5,107.9 534.0,108.6 533.7,112.7 535.5,114.6ZM427.8,111.5 427.3,110.0 425.9,109.3 424.8,109.9 424.5,114.2 427.3,112.9ZM537.5,75.3 535.4,76.5 533.7,84.4 534.0,84.9 541.0,84.2 542.7,81.3 542.0,78.1ZM465.0,145.4 464.9,143.4 462.4,140.7 456.9,142.0 459.1,148.0ZM346.6,155.0 345.7,154.9 344.6,155.9 344.5,158.1 345.7,159.2 348.1,156.9ZM587.4,130.8 590.9,129.0 589.7,122.9 582.6,126.3 583.4,128.7ZM376.2,137.8 377.6,137.0 377.5,134.1 375.6,133.1 374.7,133.3 374.2,135.0ZM403.0,153.4 404.6,154.3 407.0,152.7 405.7,150.4 403.7,150.4ZM441.9,168.5 437.2,170.8 437.5,172.2 440.7,172.4 442.8,170.2ZM493.3,96.8 493.1,93.5 489.3,91.2 485.7,95.4 489.3,98.1ZM381.7,65.0 383.7,62.9 381.7,61.2 380.1,63.4 380.4,64.9ZM455.3,111.8 462.4,111.6 462.6,106.9 459.5,105.7 456.4,107.6ZM370.3,108.4 370.6,105.2 366.9,105.6 366.6,107.9 366.9,108.5ZM413.4,163.9 414.2,163.8 415.1,162.1 413.2,158.9 411.1,160.0 411.2,162.5ZM361.3,186.8 359.8,186.7 357.7,188.8 357.7,189.4 362.2,189.4ZM462.1,134.7 461.3,134.0 457.2,135.7 457.2,140.6 462.0,139.6ZM453.7,167.2 453.9,170.4 456.6,171.5 461.1,170.2 461.0,167.3 456.7,165.6ZM459.2,149.2 456.1,151.0 455.9,151.5 457.5,156.9 463.8,157.8ZM569.0,107.3 565.8,111.5 568.1,117.0 573.0,115.6 574.9,110.8ZM386.3,155.5 389.0,154.2 389.3,153.3 388.0,151.1 385.5,150.6 384.7,151.6ZM571.9,87.5 568.1,87.3 564.5,91.4 567.1,95.1 572.2,94.7ZM374.5,149.5 372.0,150.0 370.8,151.5 373.0,153.3 375.9,151.5ZM565.5,176.6 568.0,182.2 571.8,182.4 575.2,173.9 567.0,172.9ZM408.2,112.9 407.9,113.6 408.3,116.2 412.3,115.9 412.5,114.2ZM537.0,74.3 537.3,69.3 535.4,67.9 529.3,68.9 528.1,70.9 528.8,74.0 534.7,75.5ZM347.3,168.6 345.2,166.7 343.5,167.2 342.8,168.2 346.0,170.2ZM493.0,145.3 485.7,144.8 482.4,147.7 482.7,149.3 489.7,152.2 494.2,148.1ZM322.4,104.0 321.3,102.1 318.6,101.7 318.6,105.3ZM381.8,136.0 379.9,134.1 378.7,134.2 378.8,136.9 380.8,137.8ZM478.7,80.8 481.6,78.5 480.1,69.2 472.5,75.7 472.1,77.6ZM398.3,148.7 400.4,147.7 399.2,144.3 397.2,144.5 397.4,147.8ZM349.4,177.1 352.9,176.4 352.9,175.7 351.0,173.5 349.7,174.2ZM588.3,67.8 581.7,67.4 581.3,68.0 581.4,77.5 582.1,78.0 590.4,74.2 589.9,69.5ZM547.7,153.6 546.2,153.3 541.5,155.2 539.7,160.7 547.1,162.1 549.0,155.0ZM402.8,148.3 403.5,149.2 405.8,149.2 406.7,147.6 406.5,147.0 404.5,146.4ZM510.4,169.7 514.7,163.5 514.5,161.6 508.3,160.0 505.5,162.6 506.5,167.4 509.9,169.8ZM398.5,158.2 395.1,156.3 394.6,156.9 395.7,160.4 396.5,160.5ZM597.6,142.4 597.0,149.6 601.3,151.3 605.2,146.8ZM525.9,150.7 530.4,152.7 533.9,149.6 530.8,144.2 527.7,143.9 524.8,146.1ZM482.5,79.4 479.5,81.8 480.0,86.6 488.3,86.3 489.1,84.9 485.5,79.6ZM368.7,174.5 369.9,178.5 370.4,178.9 372.9,177.6 373.0,176.0 372.0,174.2 369.6,173.5 369.0,173.8ZM417.1,151.8 414.4,151.4 414.0,151.7 414.6,155.7 416.4,155.5 417.8,153.5ZM497.8,131.4 495.5,127.2 491.1,129.3 490.5,135.5 494.5,137.5ZM410.9,85.1 411.3,84.9 411.5,82.2 409.9,81.0 408.1,82.3 408.0,83.0ZM338.1,155.8 339.7,154.4 339.9,151.1 337.7,151.1 336.4,154.4ZM397.9,110.8 396.3,107.8 394.0,109.6 395.3,111.4 397.7,111.2ZM462.6,90.7 465.0,96.3 467.0,97.2 468.1,96.9 470.2,89.5 467.2,86.5 465.8,86.6ZM413.7,113.5 417.1,113.5 418.2,111.1 414.5,110.8ZM420.8,171.9 421.3,171.9 423.7,169.6 423.6,168.4 422.0,168.1 420.2,169.5ZM353.3,95.8 351.7,93.5 351.0,93.4 349.1,95.3 349.3,96.0 351.5,97.5 352.4,97.5ZM370.7,85.1 371.2,85.9 374.5,85.7 372.5,82.6 371.1,82.9ZM438.8,156.2 438.6,157.3 439.7,158.7 443.0,158.1 443.4,157.3 441.6,154.7ZM557.4,162.8 560.2,163.4 562.7,157.1 558.5,152.8 554.0,155.6ZM436.4,83.7 434.4,83.5 433.6,84.4 434.3,87.1 436.6,87.6ZM475.7,138.9 476.0,130.6 470.4,130.9 469.1,133.7 471.5,137.8ZM379.2,95.0 379.6,91.6 379.2,90.9 374.4,92.0 374.4,92.5ZM549.5,176.1 555.7,180.2 557.9,177.2 556.2,173.3 552.6,172.7ZM499.3,186.9 500.0,189.4 507.3,189.4 508.7,184.8 502.4,183.5ZM524.5,94.4 517.5,94.5 514.1,99.5 514.8,100.5 523.0,103.1 525.4,97.6ZM497.7,157.6 498.7,153.7 495.7,149.2 495.0,148.9 490.5,153.1 490.8,156.2 493.1,158.1ZM320.1,162.0 320.2,159.2 318.6,157.7 318.6,162.6ZM467.0,123.2 473.9,122.4 475.7,117.7 472.4,114.3 466.2,117.4 465.9,118.0ZM376.9,128.7 375.0,127.2 373.5,127.7 373.7,131.5 374.4,132.2 375.3,132.0ZM329.4,122.2 328.0,122.3 327.0,125.3 329.0,128.1 329.7,128.1 331.1,124.4 330.3,122.6ZM490.2,184.2 484.0,179.5 482.4,180.0 479.7,185.7 481.0,189.4 487.3,189.4ZM329.9,107.5 332.8,109.2 335.4,106.3 335.2,105.7 333.1,104.3ZM473.7,183.4 478.7,184.9 481.2,179.7 477.6,177.2 472.5,178.8ZM413.8,171.1 410.7,171.6 410.7,172.9 413.4,174.9 415.2,173.1 414.6,171.6ZM574.0,141.0 573.2,134.1 572.7,133.6 568.1,134.2 566.5,137.6 569.7,142.5ZM585.6,156.6 587.2,158.0 591.7,158.6 592.6,158.1 594.1,151.4 588.6,149.6ZM350.2,68.6 350.8,68.3 352.4,66.1 351.7,64.8 348.8,64.3 348.2,65.1 348.4,67.0ZM364.3,127.1 366.2,126.3 366.8,124.6 364.7,122.8 363.2,125.5ZM519.3,128.2 523.1,134.5 525.4,134.5 527.5,133.0 527.9,132.0 525.4,126.5ZM439.5,145.3 440.7,146.6 443.1,146.8 445.1,143.6 442.7,140.3 440.0,142.1ZM409.6,121.1 407.4,118.2 405.3,119.4 405.3,122.0 409.3,122.9ZM424.6,129.0 427.6,130.5 428.7,129.8 428.3,127.3 426.4,126.3ZM493.5,84.5 490.2,85.4 489.3,87.0 489.7,90.0 493.6,92.5 498.6,88.3 498.4,86.8ZM320.2,88.6 320.6,88.1 320.2,85.5 318.6,85.7 318.6,89.1ZM543.9,80.9 550.9,82.6 553.7,77.8 547.9,74.5 543.2,78.0ZM455.9,84.9 452.5,81.1 452.0,81.1 450.0,86.4 450.8,88.1 455.3,88.0ZM381.6,80.9 378.0,81.3 378.3,84.4 381.8,83.2 382.1,82.6ZM326.5,76.7 327.5,76.5 327.0,72.7 323.9,74.0ZM335.9,66.3 337.5,65.0 335.8,60.6 334.5,60.6 333.6,62.4 335.2,66.2ZM448.6,115.6 454.0,113.1 454.1,112.5 448.7,110.2 446.2,112.8 446.2,113.6ZM520.8,67.8 520.9,68.6 527.2,70.1 528.2,68.3 525.8,60.6ZM436.8,114.1 437.9,113.7 438.3,112.6 437.1,110.2 435.5,110.8 435.6,113.2ZM322.7,185.3 326.4,189.4 327.9,189.4 327.7,184.1 323.2,184.2ZM380.4,71.2 382.1,73.9 385.0,72.3 382.7,70.6ZM460.5,79.9 456.8,78.4 453.6,80.6 456.8,84.0 461.0,82.5ZM535.8,99.0 536.0,94.1 532.8,90.8 525.7,94.3 526.5,97.2 534.5,100.2ZM547.7,115.7 546.1,116.0 545.1,121.1 548.1,124.1 552.5,122.8 553.1,119.3ZM590.3,103.5 596.4,102.9 597.3,100.4 593.7,94.2 589.9,94.8 588.4,97.5ZM393.7,96.3 393.6,93.7 391.2,92.1 390.1,92.5 390.9,97.0ZM417.8,71.0 418.9,75.1 421.3,72.6 421.2,71.8 420.0,70.8ZM366.4,62.9 366.3,65.2 368.6,67.1 369.8,66.6 370.2,64.2 369.6,63.3ZM334.9,147.0 335.7,145.8 334.7,143.5 333.8,143.5 332.3,145.3ZM599.0,66.3 595.1,60.6 591.5,60.6 589.3,67.1 590.6,68.6ZM408.9,140.2 409.6,137.6 409.0,136.9 406.0,137.6 405.4,138.4 407.2,140.8ZM591.6,74.3 594.4,76.7 598.6,74.9 600.4,68.0 599.9,67.3 591.1,69.7ZM402.5,170.2 403.0,171.8 404.5,172.3 407.2,169.2 406.0,168.5ZM351.6,112.8 354.4,111.4 354.6,110.5 353.4,108.8 350.2,109.2 349.4,111.2 349.7,111.8ZM417.2,150.6 419.2,147.7 415.0,146.8 414.7,146.9 414.8,150.3ZM535.5,150.4 534.9,150.4 531.2,153.6 531.4,157.2 537.9,161.2 538.4,160.8 540.3,155.0ZM437.7,88.3 440.2,92.4 441.5,92.7 442.7,91.1 442.2,87.5ZM398.1,79.7 394.6,81.6 396.6,84.4 398.7,84.1 400.2,81.2ZM526.3,135.4 528.0,142.8 530.9,143.0 534.6,138.7 528.0,134.1ZM532.5,112.5 532.8,108.8 524.0,106.0 522.0,110.1 526.2,115.4ZM389.0,171.3 390.2,168.6 386.3,168.7 385.5,170.4 385.9,171.2ZM417.7,109.8 417.5,105.6 415.4,105.7 413.1,107.4 414.4,109.6ZM339.3,109.5 337.4,112.2 337.7,112.9 341.6,113.1ZM482.1,68.6 481.3,69.0 482.8,78.2 485.6,78.4 490.2,73.7 489.5,69.9ZM344.6,144.9 344.9,144.2 340.9,141.9 340.6,142.1 340.0,145.3 341.3,146.7ZM389.0,69.0 390.6,64.5 387.3,65.7 387.1,66.9 388.5,69.2ZM361.7,141.6 360.1,144.5 362.7,146.9 364.9,144.1 364.8,142.9ZM388.0,186.3 388.3,185.3 386.6,183.9 384.3,185.1 384.2,187.0ZM380.8,133.3 382.8,135.3 384.5,132.1 382.4,131.0ZM443.0,159.3 439.9,159.9 439.2,161.8 441.7,164.8 444.0,162.5ZM500.1,161.6 497.9,158.8 493.4,159.3 492.5,164.7 496.0,166.4ZM369.0,68.2 368.1,70.1 370.1,72.3 372.8,72.0 372.9,69.4 370.3,67.7ZM555.7,77.1 561.6,79.8 563.4,79.4 564.0,78.7 564.1,72.3 558.8,70.7 557.8,71.3ZM374.2,176.3 374.2,177.7 378.0,177.3 378.5,175.2 377.4,174.5ZM342.9,122.3 344.8,122.2 345.5,120.2 345.3,119.1 343.0,118.6 341.5,120.9ZM384.5,169.7 385.3,168.1 384.6,166.2 382.7,165.9 382.1,169.1ZM495.3,139.4 494.0,144.7 495.3,147.7 496.1,148.0 503.2,144.6 503.4,141.8 502.7,140.9ZM446.9,73.6 448.0,78.1 449.6,78.5 451.3,72.8 449.4,71.3 448.6,71.4ZM418.9,126.0 422.3,122.6 422.3,122.4 419.6,121.3 417.0,124.9ZM340.6,129.9 336.8,130.4 336.5,132.3 337.8,134.0 339.3,133.8 341.2,130.9ZM381.2,108.4 382.9,104.1 382.1,103.1 380.8,103.2 379.4,105.7ZM608.1,98.6 607.3,105.2 611.4,108.1 611.4,97.2ZM443.9,67.7 442.8,67.9 442.1,72.5 446.0,72.8 447.5,70.9ZM496.2,175.4 492.8,183.4 498.5,186.0 501.6,182.7 500.8,177.3 497.6,174.7ZM593.6,178.8 597.7,182.0 601.3,176.1 600.4,174.9 594.1,174.4ZM608.1,181.8 611.4,182.6 611.4,173.4 607.0,176.8ZM404.8,182.6 405.8,180.3 404.6,179.8 401.5,181.1 401.5,181.6 402.9,182.8ZM476.4,143.9 475.6,140.1 471.3,139.0 466.1,143.4 466.2,145.5 469.6,148.4ZM331.6,157.7 331.8,155.1 330.1,154.6 328.4,156.6 328.7,158.9 329.0,159.1ZM401.5,116.8 401.5,115.5 399.1,114.6 397.3,116.6 397.4,117.7 398.8,118.6ZM421.2,154.9 418.7,154.3 417.4,156.1 418.7,158.0 421.7,157.1ZM348.8,97.1 347.1,98.6 347.9,100.1 349.1,100.1 350.5,98.3ZM440.3,73.3 440.8,72.7 441.6,67.7 437.7,68.7 437.2,70.0ZM361.6,156.8 360.6,157.9 362.0,161.6 363.7,162.1 364.4,161.8 364.1,157.3ZM524.5,181.7 518.4,187.1 518.9,189.4 528.2,189.4ZM425.9,81.5 428.8,82.6 429.6,79.4 426.9,79.4ZM401.0,122.0 403.1,123.0 404.1,122.2 404.1,119.3 402.1,117.8 399.7,119.5ZM404.3,88.6 403.5,91.8 407.3,93.7 408.1,92.4 405.6,88.9ZM353.8,128.7 357.4,131.2 358.7,130.5 357.7,127.6 356.5,126.9ZM334.3,85.4 331.9,85.5 331.3,88.1 332.5,88.9 335.6,87.3ZM601.6,159.6 602.3,165.5 606.6,166.2 609.6,161.3 605.8,157.8 603.3,157.7ZM607.7,69.1 611.4,67.1 611.4,60.6 604.9,60.6 600.9,66.7 601.4,67.4ZM374.0,62.8 374.8,60.6 371.3,60.6 370.6,62.7 371.1,63.4ZM332.2,132.9 335.4,132.0 335.6,130.0 335.4,129.7 331.0,129.3ZM343.9,99.4 344.8,102.2 345.5,102.6 346.9,100.7 345.9,99.0 344.7,98.9ZM389.0,164.1 390.7,166.5 392.3,164.7 392.1,162.5 391.0,162.0ZM332.9,116.2 331.9,114.0 328.4,114.6 330.5,117.1ZM391.4,75.6 390.5,75.6 388.2,78.3 388.9,79.6 391.9,80.4 392.2,76.4ZM462.2,167.1 462.4,170.5 468.8,172.4 471.3,169.5 469.7,162.8 466.0,161.5ZM476.0,99.3 480.4,100.6 484.5,95.6 478.6,91.2ZM579.1,121.7 579.2,123.5 581.9,125.3 589.7,121.6 589.9,121.2 584.6,115.9ZM437.8,127.8 442.8,130.3 443.9,126.3 440.2,124.7 438.6,125.0ZM367.3,84.9 369.6,84.7 370.0,82.7 368.5,81.6 366.4,82.2ZM473.9,110.4 473.2,113.4 476.7,116.9 479.1,117.1 483.1,113.3 480.2,109.5ZM419.8,120.1 422.5,121.2 423.2,120.1 422.4,116.7 419.1,117.8ZM604.3,84.8 604.8,84.5 605.6,79.3 599.1,76.0 594.9,77.8 595.0,81.4ZM408.6,127.9 409.6,129.1 412.5,129.2 413.4,125.7 410.2,124.7ZM556.5,181.2 556.6,182.6 564.0,185.7 566.8,182.6 564.4,177.3 558.9,177.8ZM489.9,129.3 483.7,126.6 482.2,128.0 485.1,135.6 486.1,136.1 489.3,135.3ZM346.8,143.9 346.1,144.3 345.8,145.3 347.1,148.5 348.2,148.7 350.3,145.8ZM428.7,167.3 430.0,169.7 430.9,169.7 433.1,167.4 430.6,165.0ZM408.1,94.7 408.0,95.8 409.9,97.8 413.0,96.5 413.6,95.1 413.5,94.6 409.0,93.3ZM412.3,108.4 409.4,110.1 408.7,111.8 412.6,112.9 413.4,110.2ZM400.2,75.0 399.0,78.8 400.4,79.9 402.8,76.1 400.7,74.9ZM393.2,186.0 391.6,184.5 389.5,185.5 389.1,186.8 389.9,189.4 393.0,189.4ZM342.9,90.1 340.8,87.1 339.6,87.1 338.3,88.0 339.0,91.1 341.0,92.3ZM374.1,71.6 377.3,72.0 379.1,70.8 378.5,69.5 374.9,68.8 374.1,69.4ZM568.7,143.2 565.5,138.4 560.0,139.8 561.0,145.9 567.1,146.3ZM399.1,186.3 401.3,187.1 402.0,186.7 402.1,183.7 400.8,182.7 398.7,184.5 398.5,185.2ZM338.3,96.0 340.1,95.2 340.7,93.6 338.5,92.2 336.1,94.4ZM456.8,94.6 459.7,97.8 463.7,96.4 461.6,91.2 458.2,91.5ZM359.4,175.5 358.8,176.7 359.7,179.7 362.8,177.3 362.8,177.0ZM371.7,188.0 370.6,187.3 368.0,188.5 367.8,189.4 371.4,189.4ZM517.7,139.4 513.9,138.9 513.1,140.0 513.1,148.8 514.5,149.2 520.6,144.9ZM357.8,67.8 359.6,69.0 362.0,67.3 360.2,64.9 357.4,65.8 357.2,66.1ZM376.3,168.7 374.0,164.9 372.6,165.3 372.0,168.0 375.3,169.3 375.9,169.2ZM428.5,71.6 427.9,73.3 430.2,75.7 432.0,73.7ZM434.3,187.2 431.7,187.3 430.5,189.4 433.6,189.4ZM358.3,76.7 359.1,78.1 360.6,78.6 363.5,76.7 363.8,75.8 363.1,74.5 360.0,73.7 359.4,74.1ZM423.6,180.5 424.1,177.2 419.2,178.1 421.4,180.7ZM597.6,185.7 588.3,188.5 587.6,189.4 597.8,189.4ZM605.4,85.6 604.7,85.9 602.1,90.1 605.0,96.8 607.5,97.5 611.4,95.9 611.4,89.0ZM421.5,181.9 420.7,183.1 421.2,184.9 423.4,184.8 424.2,183.8 424.1,182.1 423.8,181.6ZM411.7,62.8 410.3,61.1 408.6,62.4 409.1,63.6 410.7,64.1ZM549.2,139.8 551.4,132.4 547.4,130.0 543.7,132.1 546.9,139.8ZM443.9,131.2 446.1,134.2 450.6,130.0 449.3,126.3 446.6,125.2 445.1,126.3ZM561.9,80.9 559.1,88.2 560.4,90.5 563.4,90.7 567.1,86.6 563.4,80.6ZM366.7,96.5 368.8,95.9 369.1,95.1 366.9,91.9 365.6,95.4ZM379.4,65.5 376.1,66.0 375.5,67.7 378.5,68.3ZM324.3,171.4 320.9,171.6 320.0,172.8 321.4,174.6 323.4,174.5 324.9,172.3ZM554.0,185.5 546.1,186.5 546.1,189.4 554.4,189.4ZM547.2,73.5 547.0,69.0 541.4,67.8 538.5,69.4 538.2,74.3 542.5,77.0ZM361.5,136.2 360.0,136.8 359.3,138.6 361.4,140.5 362.6,138.2ZM567.0,171.7 575.3,172.7 577.3,168.0 574.8,163.4 573.8,163.0 565.4,167.7ZM397.4,73.6 396.0,75.9 397.9,78.4 399.0,74.7ZM454.5,123.3 453.0,120.6 449.1,120.1 447.3,122.7 447.2,124.1 449.8,125.2ZM471.8,177.8 477.1,176.1 477.1,170.9 472.2,170.3 469.7,173.2 470.9,177.2ZM446.2,135.5 443.6,139.5 446.2,143.0 449.8,143.6 451.4,141.7 449.8,137.6ZM564.7,166.8 572.9,162.1 569.5,155.5 563.8,157.5 561.2,164.0 562.1,165.4ZM335.2,169.2 333.2,170.7 333.8,172.5 337.3,172.1 337.2,170.2ZM426.5,89.4 427.7,86.8 424.5,86.4 423.6,88.1ZM404.8,123.2 403.7,124.4 405.0,127.4 405.5,127.7 407.5,127.4 409.2,124.1ZM434.9,109.8 437.0,108.9 437.7,107.2 434.6,107.3 433.9,109.1ZM343.5,102.3 342.7,99.7 339.5,101.2 339.6,102.3 341.2,103.4ZM400.8,60.7 398.7,63.2 400.8,65.5 403.2,65.2 403.3,64.0ZM458.5,179.8 460.4,179.9 461.4,171.3 457.1,172.6 455.6,176.4ZM399.8,84.6 401.4,86.9 404.0,87.4 404.4,85.6 401.7,82.1 401.2,81.9ZM340.6,64.6 342.3,65.7 344.4,63.8 343.4,60.6 342.4,60.6ZM419.2,61.9 422.6,62.4 422.9,60.6 418.8,60.6ZM544.9,186.2 544.3,185.3 543.5,185.0 535.5,186.4 534.0,189.4 544.9,189.4ZM455.2,113.0 455.7,115.1 460.2,117.9 464.9,117.4 465.0,117.0 462.6,112.8ZM323.0,181.0 323.3,183.0 328.0,182.9 328.7,182.0 328.8,180.7 327.3,179.4 325.1,179.3ZM404.5,176.7 405.1,178.7 406.5,179.3 407.8,176.7 407.6,176.1 405.5,175.3ZM497.9,110.1 505.1,107.3 504.9,104.3 497.8,102.3 495.2,107.0ZM539.2,175.2 544.0,183.9 544.4,184.1 548.3,176.4 542.5,172.9ZM446.5,98.0 443.6,97.8 442.8,101.5 444.2,103.9 446.0,103.9 447.7,99.4ZM375.8,170.4 373.1,173.8 373.9,175.1 376.7,173.5ZM564.6,71.2 567.5,68.9 563.7,64.0 560.6,64.8 559.5,69.7ZM373.2,92.7 373.2,92.1 369.9,90.3 367.7,91.0 370.0,94.3ZM395.1,152.6 397.4,151.5 397.6,149.6 396.6,148.7 393.9,149.4 394.2,152.0ZM384.0,116.4 383.1,115.6 380.8,117.8 382.7,119.8 384.1,118.7ZM368.6,156.2 368.0,156.5 369.4,159.7 369.8,159.9 371.4,158.9 371.7,157.2ZM433.7,128.5 431.9,130.9 432.6,132.1 435.2,132.0 435.6,129.0ZM449.2,70.2 450.4,67.2 448.0,63.3 444.9,67.0 448.5,70.3ZM395.5,178.8 398.9,178.1 399.4,176.1 399.1,175.3 396.9,174.0 395.7,174.2 394.3,175.5ZM517.5,93.3 524.0,93.2 522.7,85.9 519.2,84.8 514.3,87.5ZM563.5,186.8 556.2,183.7 555.1,185.0 555.6,189.4 563.4,189.4ZM417.4,189.4 421.1,189.4 419.6,187.5 418.4,187.8ZM347.4,128.4 348.5,130.0 352.1,129.4 352.6,128.6 351.2,127.0ZM581.3,126.4 578.6,124.6 574.8,126.9 573.6,132.8 574.0,133.2 579.7,133.2 582.2,129.1ZM319.6,149.2 321.3,150.0 322.9,147.7 321.0,146.0ZM392.7,149.2 391.5,148.3 389.2,150.7 390.2,152.5 393.0,151.9ZM351.2,134.4 351.6,134.2 351.8,130.6 348.7,131.2 348.3,133.2ZM411.2,152.0 409.8,153.2 410.4,154.8 413.4,155.9 412.8,152.0ZM370.7,112.4 370.2,109.6 367.0,109.7 366.6,111.2 367.6,113.1ZM331.5,122.5 332.2,123.9 335.9,124.5 336.5,124.0 336.8,121.5 334.4,120.8ZM377.7,127.7 379.9,124.5 376.4,123.0 375.8,126.3ZM365.5,71.5 364.2,73.9 364.8,75.2 367.5,75.4 369.1,73.0 367.2,70.9ZM434.6,70.2 436.1,69.6 436.5,68.4 434.9,66.6 433.1,68.6ZM400.0,102.9 400.4,99.8 397.6,98.5 397.2,98.6 397.0,100.6ZM443.0,96.1 443.4,96.6 446.5,96.8 448.7,92.4 443.6,91.9 442.4,93.5ZM375.6,86.5 374.9,90.6 378.9,89.7 377.3,86.2ZM349.0,151.4 348.1,149.9 346.8,149.6 345.0,151.4 346.0,153.7 346.7,153.8ZM534.3,86.1 533.6,89.9 536.8,93.2 543.2,90.9 540.9,85.4ZM449.2,185.9 451.5,189.4 455.4,189.4 453.5,183.6 452.5,183.5ZM363.6,147.6 367.0,148.0 368.3,146.1 365.7,145.0ZM428.5,171.8 426.5,172.1 426.0,174.7 428.6,174.1ZM533.7,123.5 534.7,128.5 539.1,130.3 540.1,123.5 535.8,121.6ZM516.0,119.9 524.7,118.1 525.3,116.3 521.1,110.8 517.6,111.6 515.3,117.9ZM432.0,68.0 434.3,65.5 434.3,64.8 433.0,63.9 430.5,65.0 430.2,68.0ZM365.9,142.7 366.1,143.9 369.2,145.1 370.2,144.0 369.7,142.1 367.6,141.3ZM378.6,156.4 378.0,157.3 378.0,159.2 381.2,160.3 382.0,157.8 380.3,156.4ZM429.3,64.9 427.7,63.7 426.8,64.1 426.0,68.0 428.0,69.1 429.0,68.3ZM364.3,184.5 362.5,186.4 363.4,189.4 366.5,189.4 366.8,188.2 364.9,184.6ZM358.5,139.4 356.7,139.8 356.9,143.3 358.1,144.1 359.0,144.0 360.6,141.3ZM321.9,69.8 321.0,68.4 318.6,68.5 318.6,72.3 321.7,72.5ZM494.3,93.5 494.5,96.9 497.0,98.6 502.8,93.2 499.2,89.3ZM401.7,148.8 401.2,148.7 398.8,149.8 398.6,151.6 400.9,153.4 401.9,153.2 402.5,150.0ZM472.2,107.2 474.8,100.0 468.6,97.9 467.6,98.3 466.4,104.7ZM599.8,75.1 606.1,78.2 607.2,70.2 601.4,68.6ZM383.4,113.1 383.6,114.5 384.8,115.5 386.9,114.8 387.0,112.8ZM323.1,63.4 323.5,64.8 325.8,65.2 327.8,62.7 326.8,60.6 325.5,60.6ZM419.0,83.7 417.6,83.0 415.6,86.2 415.8,86.6 418.9,87.3ZM514.9,160.5 518.7,156.8 514.3,150.4 512.5,149.9 508.9,151.1 508.1,152.6 508.7,158.8ZM346.2,178.4 346.5,182.7 347.2,183.2 349.2,180.6 348.5,178.2ZM494.3,138.7 489.8,136.5 486.6,137.2 486.2,143.6 492.9,144.1ZM607.1,79.0 606.0,84.6 611.4,87.6 611.4,78.6ZM424.6,188.9 424.2,189.4 427.8,189.4 427.3,188.8ZM355.8,125.9 355.8,123.9 351.8,123.5 351.9,126.0 353.3,127.6ZM321.8,118.8 319.3,120.5 321.3,123.7 323.8,120.3ZM319.8,154.3 321.1,151.3 318.6,150.2 318.6,154.9ZM334.5,148.4 331.3,146.1 330.9,146.1 330.1,148.0 330.5,148.8 333.3,149.2ZM407.2,96.8 404.3,98.4 406.0,102.2 408.8,98.4ZM345.6,187.2 346.6,184.2 345.7,183.6 342.4,183.8 343.3,186.6ZM333.4,185.8 329.4,183.0 328.9,183.7 329.1,189.4 329.7,189.4ZM340.6,147.7 339.1,146.2 336.7,146.5 335.7,148.4 337.5,149.9 340.3,149.8ZM595.7,114.3 587.7,110.4 585.1,114.3 585.2,114.8 590.8,120.3 595.0,118.7ZM434.9,122.2 435.1,119.0 431.1,118.4 429.8,119.7 430.0,120.6 432.8,123.1ZM408.2,157.7 409.3,155.3 408.6,153.6 407.9,153.5 405.3,155.3 405.5,156.6 407.0,157.9ZM393.6,104.0 391.6,105.2 391.2,106.7 392.1,108.7 393.0,108.8 395.7,106.7ZM376.3,105.2 378.4,105.1 379.6,102.8 377.7,101.4 377.0,101.9 376.0,104.9ZM337.8,91.3 337.2,88.2 336.6,88.1 333.1,90.0 333.0,92.0 335.4,93.4ZM344.8,83.6 344.8,84.4 346.3,85.3 348.4,83.3 348.4,82.1 346.9,81.8ZM383.4,90.8 384.7,88.5 383.6,87.9 380.2,89.6 380.5,90.9ZM349.1,157.6 346.3,160.3 347.0,161.7 348.4,162.0 350.6,160.0 349.9,157.8ZM355.7,161.1 359.5,162.6 360.8,161.8 359.5,158.4 357.1,158.5ZM558.4,110.9 558.3,116.7 560.7,118.4 566.5,116.8 564.7,111.9ZM340.3,174.7 341.7,177.4 342.3,177.7 344.7,177.3 344.3,174.2 341.5,173.9ZM389.4,91.4 390.8,91.0 391.9,88.1 390.3,86.6 388.2,86.8 387.0,88.2ZM435.4,123.3 433.2,124.2 432.9,125.3 433.9,127.3 436.2,127.9 437.4,124.8ZM588.8,94.4 585.8,90.9 581.7,90.8 580.3,94.1 582.1,97.7 587.4,96.9ZM376.5,181.6 377.7,181.6 378.7,179.3 378.1,178.5 375.1,178.8ZM408.2,145.6 407.6,146.5 407.8,147.2 409.7,147.8 411.3,146.0 410.8,145.2ZM433.3,104.6 434.5,106.1 437.2,106.0 436.8,104.0 434.7,102.9 433.4,103.8ZM489.5,68.7 490.5,60.6 484.2,60.6 482.7,67.5ZM575.5,109.7 579.1,103.7 574.0,101.1 569.2,105.3 569.4,106.1ZM364.7,102.2 366.6,104.4 369.5,103.9 368.6,101.5 366.0,101.0ZM351.6,98.7 350.1,100.8 351.2,103.0 352.7,103.1 352.6,98.9ZM414.1,96.9 415.7,99.3 417.0,99.5 417.8,98.6 417.5,96.4 414.6,95.8ZM444.5,157.7 444.0,158.7 445.1,162.2 448.7,162.7 450.5,159.8 448.3,156.6ZM463.1,76.1 462.2,73.6 457.3,73.9 457.3,77.3 460.9,78.8ZM369.0,172.4 369.8,169.2 367.6,168.3 365.9,169.0 365.9,170.4 368.6,172.6ZM426.6,108.3 427.8,108.9 429.6,107.6 429.7,106.6 428.0,105.5 426.7,106.5ZM423.9,62.2 426.3,63.0 427.2,62.6 427.5,60.6 424.1,60.6ZM483.0,125.6 483.2,124.7 479.0,118.3 476.8,118.2 475.0,122.8 478.7,127.7 481.2,127.3ZM397.0,69.8 395.1,67.9 392.8,70.1 393.6,71.5 396.6,71.7ZM540.7,122.4 544.0,120.9 545.0,115.6 544.5,115.2 535.9,115.8 536.2,120.5ZM611.4,141.6 607.0,146.6 610.8,151.7 611.4,151.7ZM563.4,91.9 560.4,91.7 556.2,97.8 560.4,101.4 564.0,101.0 566.2,95.8ZM377.3,151.9 378.7,155.2 380.1,155.2 381.9,152.1 379.4,151.1ZM357.6,152.7 356.8,153.3 356.6,156.7 357.1,157.3 359.6,157.2 360.7,155.9 360.5,154.4ZM398.2,91.1 400.5,93.2 402.3,91.8 403.0,88.6 401.2,88.1ZM364.1,177.3 365.1,178.5 368.5,178.3 367.6,175.3 364.2,176.5ZM403.5,70.2 406.2,71.6 406.6,68.2 405.9,67.5 404.8,67.1ZM487.8,113.7 489.9,116.7 497.2,114.2 497.1,111.1 494.2,107.6 491.0,107.8ZM507.4,124.6 514.9,120.9 514.2,118.3 507.5,115.5 505.8,116.9 507.0,124.3ZM549.4,103.6 555.0,98.0 547.9,93.0 547.0,93.2 544.6,100.5 546.1,103.3ZM320.3,84.2 320.8,83.5 320.3,81.9 318.6,81.5 318.6,84.5ZM377.8,182.8 376.4,182.8 375.2,184.0 375.8,186.7 376.6,187.2 378.4,186.1 378.8,184.1ZM450.3,136.5 454.2,134.4 453.0,131.3 451.4,130.9 447.3,134.8ZM318.6,119.5 320.9,118.0 319.2,114.8 318.6,114.5ZM457.7,66.2 463.8,68.9 466.8,67.0 467.3,65.5 465.3,60.6 462.2,60.6ZM406.2,141.5 404.5,139.1 402.0,139.7 401.9,142.0 403.6,142.9ZM495.2,126.0 495.3,125.6 489.5,119.9 484.4,124.8 484.3,125.5 490.5,128.3ZM417.6,69.9 419.7,69.6 420.2,67.3 418.1,66.3ZM321.0,67.2 322.3,65.2 321.9,63.7 318.6,62.4 318.6,67.3ZM335.3,177.8 333.6,177.5 332.6,179.1 335.7,181.8 337.1,180.9ZM523.0,135.7 518.8,139.0 521.8,144.6 524.0,145.2 526.9,143.1 525.1,135.7ZM406.2,76.9 409.6,77.4 410.2,76.7 407.0,73.4 405.4,75.8ZM435.2,176.3 435.9,176.1 436.5,172.9 436.3,172.5 433.4,173.1 432.8,175.1ZM542.3,144.0 536.6,149.8 541.1,154.1 545.4,152.3ZM570.5,154.7 574.2,161.8 575.1,162.2 582.0,156.4 577.6,151.1 571.0,153.4ZM425.6,125.4 423.0,123.6 420.2,126.5 423.8,128.1ZM456.6,189.4 460.3,189.4 462.7,184.8 462.3,182.6 460.7,181.1 458.4,181.0 454.7,183.4ZM377.4,145.7 380.0,146.3 380.7,145.8 381.0,144.5 378.9,142.7 377.9,142.7ZM427.5,134.8 431.0,134.2 431.6,132.8 430.8,131.4 429.5,130.8 428.1,131.5ZM545.8,93.0 543.9,91.9 537.2,94.3 537.0,98.8 543.6,99.9ZM377.6,155.8 376.3,152.7 373.5,154.4 373.4,156.0 377.1,156.5ZM432.0,126.2 429.5,127.3 429.9,129.7 431.0,130.2 432.8,127.7ZM318.8,134.5 322.7,134.8 323.7,133.2 322.5,130.9ZM341.3,184.2 340.1,184.2 339.1,186.8 340.9,187.7 342.1,186.8ZM607.8,183.0 605.9,185.5 607.5,189.4 611.4,189.4 611.4,183.8ZM382.5,164.6 384.9,165.0 386.0,163.8 385.3,162.0 382.3,162.1 381.9,164.0ZM376.3,161.8 379.6,164.0 380.8,163.8 381.1,161.5 377.6,160.3ZM332.8,150.4 330.6,150.0 329.9,152.7 330.3,153.4 332.4,154.0ZM419.3,176.7 423.7,176.0 421.2,173.1 420.5,173.0 418.8,174.3ZM467.1,85.3 471.0,78.2 464.1,76.8 461.7,79.7 462.3,82.6 465.6,85.5ZM385.3,142.7 386.8,145.3 389.0,144.9 389.1,142.5ZM498.3,172.0 505.3,167.5 504.3,162.9 501.1,162.2 496.9,167.3ZM420.9,69.9 421.8,70.7 424.7,68.4 422.3,67.1 421.4,67.4ZM479.2,170.0 478.3,170.6 478.3,176.3 482.1,178.8 483.6,178.4 486.0,172.9ZM447.7,60.6 442.0,60.6 441.3,64.9 442.2,66.6 443.8,66.5 447.5,62.0ZM341.9,93.1 344.5,94.1 345.7,93.5 345.8,91.7 344.8,90.7 344.0,90.8ZM455.6,73.0 452.4,73.2 450.7,79.0 451.8,79.9 452.6,79.9 456.1,77.4 456.1,73.5ZM382.6,174.9 383.6,176.6 385.8,175.9 384.9,173.4ZM594.7,93.6 598.2,99.5 603.8,97.0 601.1,90.8 595.7,92.1ZM439.4,141.1 441.8,139.5 437.3,136.3 436.2,137.5 438.3,140.7ZM354.0,89.3 351.9,88.0 350.3,88.8 349.9,90.4 351.1,92.2 351.8,92.3ZM342.8,178.8 343.1,182.4 345.2,182.4 345.0,178.4ZM387.9,164.6 387.0,164.6 385.8,165.8 386.3,167.5 389.9,167.4ZM324.9,94.9 324.1,97.6 325.8,98.4 326.7,98.0 327.5,95.9ZM433.2,93.5 431.1,91.2 428.7,92.5 430.1,94.8ZM364.0,128.6 361.4,131.1 362.8,133.2 364.2,133.1 365.4,131.0ZM414.3,135.5 412.4,133.6 410.1,134.8 409.9,136.1 410.5,136.9 414.0,137.1 414.3,137.0ZM361.6,93.8 363.0,95.1 364.5,95.0 365.5,92.2 362.4,92.1ZM431.2,182.2 430.6,183.8 431.7,186.1 434.8,185.9 435.4,185.4 435.6,184.0 433.0,182.2ZM455.8,142.4 452.4,142.4 450.7,144.4 451.1,146.2 455.6,149.9 458.0,148.3ZM430.1,150.6 425.2,150.3 424.7,150.8 424.6,151.6 428.2,154.3 429.0,154.2 430.3,151.0ZM426.8,125.1 428.9,126.3 431.8,125.0 432.0,124.0 429.5,121.8ZM341.4,138.3 341.3,136.6 339.4,135.0 337.9,135.2 337.4,136.9 340.7,139.2ZM373.5,68.3 374.2,67.8 375.0,65.5 374.1,64.0 371.3,64.6 371.0,66.8ZM456.6,128.5 460.7,130.6 462.3,126.3 456.6,124.9ZM361.6,62.0 365.4,61.9 365.4,60.6 361.1,60.6ZM426.6,146.1 425.8,149.2 429.4,149.3 428.3,146.1ZM592.6,159.5 594.1,166.5 601.1,165.8 600.5,159.9 593.2,159.1ZM407.5,142.0 408.3,144.4 410.6,144.0 410.8,142.6 409.3,141.4ZM499.8,63.7 507.7,64.9 507.5,60.6 498.7,60.6ZM360.2,111.0 358.2,110.2 355.7,110.8 355.5,111.7 356.7,113.6 358.4,114.1ZM347.6,68.0 344.0,68.9 344.5,70.3 346.2,70.8 348.6,68.9ZM388.8,101.9 391.1,104.1 392.7,103.1 390.7,100.0ZM412.7,177.7 412.8,175.9 410.2,174.0 408.8,175.8 408.9,176.4ZM413.9,73.7 417.6,75.0 416.5,71.1 415.9,71.1ZM498.9,130.9 504.7,131.7 506.7,130.6 506.7,125.6 506.2,125.2 498.3,124.3 496.5,125.7 496.4,126.3ZM391.1,175.9 389.4,177.5 389.4,178.1 392.3,181.2 394.5,179.5 393.2,175.9ZM341.7,168.7 340.3,168.5 338.4,170.1 338.6,172.4 339.7,173.6 340.8,172.9ZM433.7,62.8 434.9,63.8 436.2,63.2 437.1,60.6 433.4,60.6ZM332.9,117.6 330.8,118.3 330.2,121.2 330.7,121.5 333.6,119.8ZM443.8,189.4 450.1,189.4 447.9,186.3 444.0,188.9ZM405.5,85.7 405.2,87.4 406.0,87.7 410.0,86.0 407.4,84.0ZM346.6,188.0 347.2,189.4 350.6,189.4 351.3,186.2 347.7,184.7ZM415.7,80.3 417.8,81.9 419.6,77.6 418.5,76.4 415.7,79.3ZM414.7,165.1 414.5,170.2 415.0,170.4 417.2,168.6 416.1,165.9ZM355.9,77.4 353.6,80.3 354.7,81.7 355.6,81.9 358.0,78.5 357.3,77.3ZM409.7,99.3 406.8,103.1 407.0,103.7 409.7,103.9 410.8,101.5ZM608.4,70.1 607.5,77.7 611.4,77.4 611.4,68.4ZM360.5,62.6 359.9,60.6 356.5,60.6 357.4,64.5 360.0,63.7ZM444.0,170.0 446.8,174.3 449.5,173.1 449.8,172.3 447.5,169.2ZM400.5,94.6 398.6,97.6 401.1,98.8 403.2,97.9ZM346.2,128.2 345.6,127.2 341.8,127.9 341.5,129.2 342.8,130.6ZM395.5,142.0 395.8,142.7 396.7,143.3 399.4,143.1 400.7,142.0 400.8,139.4 399.8,138.7ZM389.4,111.0 391.0,109.1 390.2,107.4 387.3,107.6 386.9,108.4 388.3,111.2ZM509.2,98.7 513.0,98.9 516.4,93.9 513.1,87.7 511.9,87.3 506.0,93.7ZM387.2,158.6 389.8,159.3 390.7,157.1 389.3,155.4 386.4,156.7ZM515.9,63.8 520.0,66.8 524.1,60.6 517.3,60.6ZM419.6,183.6 416.4,183.7 418.3,186.6 419.5,186.3 420.1,185.4ZM327.1,114.5 325.7,114.5 322.9,118.1 324.8,119.6 325.1,119.7 327.2,115.0ZM391.3,160.8 392.7,161.4 394.5,160.6 393.5,157.4 391.8,157.6 390.9,159.9ZM341.2,95.6 342.6,98.5 343.9,97.9 343.9,95.2 341.7,94.3ZM581.2,183.9 584.7,189.4 586.0,189.4 587.4,187.7 588.3,180.9 584.5,177.9 582.9,178.5ZM424.9,142.8 425.0,143.5 426.4,144.9 428.5,144.9 429.7,143.8 428.2,141.2 425.7,141.6ZM326.9,122.0 324.9,120.8 322.7,124.1 324.1,125.2 325.9,124.9ZM330.9,128.1 335.2,128.4 335.4,125.7 332.1,125.1ZM400.3,130.3 403.8,127.6 402.8,125.4 399.8,127.7ZM414.7,87.2 414.5,86.6 411.9,85.9 411.2,86.5 411.7,89.1 413.9,89.6ZM470.4,138.2 468.1,134.4 463.3,135.0 463.2,139.9 465.5,142.3ZM345.5,134.8 342.5,136.6 342.6,137.9 345.8,138.0ZM572.2,95.9 567.2,96.3 565.2,101.4 568.6,104.3 573.2,100.2ZM378.0,129.1 376.5,132.2 378.2,133.1 379.7,132.9 381.0,130.8ZM586.7,145.1 589.5,140.6 587.3,138.4 582.4,138.2 578.7,143.2 579.7,145.2ZM326.7,91.1 326.3,91.2 324.8,93.3 324.9,93.7 328.3,94.9 329.3,94.4 329.4,94.1ZM319.9,170.9 318.6,168.1 318.6,172.3ZM410.4,170.4 413.4,170.0 413.5,165.1 409.4,169.4ZM542.0,84.8 544.5,90.9 546.7,92.1 547.6,91.9 551.2,86.1 550.7,83.8 543.6,82.1ZM610.8,152.9 606.9,157.1 610.6,160.6 611.4,160.5 611.4,152.9ZM593.9,173.2 600.2,173.7 600.5,167.3 593.9,167.7 591.9,170.6ZM326.6,102.3 327.1,102.5 330.0,100.6 327.2,99.1 326.4,99.5ZM322.7,93.5 320.3,94.6 320.9,96.6 323.0,97.3 323.8,94.2 323.6,93.7ZM392.6,72.1 391.7,70.6 389.5,70.1 388.7,70.4 388.2,71.3 390.6,74.4 391.3,74.4ZM341.9,182.7 341.6,178.7 341.4,178.6 338.2,181.5 339.9,183.1ZM506.8,114.5 506.9,110.0 505.5,108.4 498.3,111.2 498.4,114.4 499.6,115.8 505.0,116.1ZM527.4,122.1 532.9,122.7 535.1,120.6 534.7,115.5 532.9,113.6 526.5,116.6 525.8,118.5ZM361.7,104.5 362.8,107.3 365.4,107.4 365.7,105.3 363.8,103.1ZM482.7,105.0 481.1,108.7 484.2,112.8 486.8,113.1 489.9,107.3 488.2,105.5ZM491.8,165.7 489.1,166.7 487.8,172.0 495.7,174.4 497.2,173.6 497.4,172.9 495.7,167.6ZM405.3,173.1 405.7,174.1 408.0,174.9 409.5,172.9 409.5,171.3 408.2,169.9ZM327.0,70.0 323.1,70.2 322.9,72.9 327.1,71.4 327.3,70.9ZM498.1,187.2 491.9,184.4 491.4,184.6 488.7,189.4 498.7,189.4ZM376.2,140.4 377.5,141.6 378.8,141.5 380.3,138.8 378.2,138.0 376.5,139.0ZM419.2,91.3 420.6,93.5 422.1,93.7 422.1,88.9 420.1,88.8ZM429.6,159.4 429.7,155.9 429.2,155.4 428.3,155.5 426.1,158.2 426.8,159.5ZM429.1,86.2 431.6,88.0 433.1,87.3 432.5,84.7 429.7,84.5ZM396.7,85.6 395.7,87.4 397.6,90.0 400.3,87.4 398.8,85.3ZM558.6,138.8 557.2,130.9 552.6,132.5 550.6,139.5ZM403.5,165.9 401.3,167.0 401.0,168.6 401.9,169.2 405.0,167.6ZM395.4,123.4 393.1,123.6 392.8,125.6 393.2,126.9 394.0,127.2 397.0,125.9 396.9,124.6ZM522.4,168.0 525.9,171.1 531.0,168.5 525.7,163.1ZM520.7,167.6 521.2,167.5 525.0,161.9 519.3,157.9 515.7,161.4 515.9,163.3ZM478.9,68.6 475.6,65.9 468.3,66.1 467.9,67.3 472.1,74.5ZM521.5,145.7 515.5,150.0 519.4,155.7 524.7,151.0 523.6,146.3ZM387.1,126.4 387.7,128.1 390.4,129.2 392.1,127.2 391.8,126.3ZM370.9,126.3 370.6,125.2 369.1,124.3 368.0,124.8 367.4,126.4 369.1,127.4ZM376.3,121.9 378.2,117.8 377.1,116.6 376.4,116.7 373.8,119.9 374.6,121.2ZM429.9,182.2 425.3,182.5 425.4,183.7 427.4,184.8 429.5,183.5ZM339.0,183.8 337.4,182.4 336.0,182.9 334.6,185.6 337.1,187.0 337.9,186.6ZM345.5,173.8 345.9,177.2 348.2,177.0 348.5,174.2 346.3,173.0ZM409.3,79.9 409.3,78.6 406.3,78.2 406.0,80.2 407.5,81.3ZM328.2,178.6 329.5,179.7 331.4,178.8 332.7,176.8 332.3,175.6 328.9,175.2ZM433.2,160.5 434.0,158.2 433.1,156.8 430.9,156.4 430.8,159.7 432.0,161.0ZM408.9,132.5 409.7,133.6 412.0,132.5 412.4,130.4 409.7,130.3ZM372.4,145.0 371.1,144.8 370.2,145.8 372.0,148.7 374.3,148.3 374.4,147.5ZM454.9,150.8 450.6,147.4 447.8,150.9 449.2,153.5ZM383.5,179.3 386.0,180.3 388.2,177.6 386.6,176.9 383.8,177.8ZM385.8,94.5 385.1,94.4 382.6,96.5 384.0,98.4 384.8,98.3 386.5,96.8ZM372.9,157.1 372.6,159.0 375.5,160.9 376.8,159.4 376.8,157.7ZM507.7,109.1 513.7,108.2 513.8,101.2 513.0,100.1 509.2,99.9 506.1,104.0 506.3,107.4ZM363.5,171.4 364.7,170.4 364.7,168.9 363.3,167.9 361.5,168.4 360.7,171.1ZM370.0,182.8 366.1,184.4 367.7,187.3 370.0,186.2ZM401.3,80.7 402.0,80.9 404.8,80.0 405.2,77.6 404.3,76.4 404.0,76.5ZM425.3,162.0 425.8,160.2 425.0,158.7 423.1,158.3 422.5,162.0 424.7,162.5ZM435.1,152.8 431.3,151.7 430.1,154.6 430.6,155.1 433.1,155.6ZM333.1,163.9 335.1,166.1 337.6,164.3 337.7,163.4 334.9,162.4ZM343.1,117.4 345.5,117.9 346.3,116.7 346.3,116.1 343.1,113.5 342.4,113.9 342.1,116.0ZM443.9,85.0 448.9,85.7 450.9,80.7 449.8,79.7 447.6,79.2 443.8,80.7 443.2,82.1ZM358.3,95.0 359.1,98.2 361.3,98.4 362.1,95.9 360.7,94.6ZM534.4,185.8 532.5,179.5 525.6,180.0 525.4,180.7 529.5,189.4 532.6,189.4ZM386.8,181.2 387.2,182.8 389.1,184.3 391.2,183.3 391.5,182.2 388.8,179.2ZM347.1,163.0 346.0,165.9 347.9,167.3 349.6,165.5 348.2,163.1ZM553.1,154.8 558.0,151.7 558.3,148.6 552.3,147.0 548.7,153.0 550.0,154.2ZM351.5,160.8 349.4,162.7 350.7,165.0 351.3,165.1 354.0,162.4 354.2,161.8ZM514.3,117.1 516.4,111.3 514.1,109.4 508.1,110.3 508.0,114.4ZM330.3,82.2 331.7,84.4 334.0,84.2 334.2,82.5 332.4,81.2ZM435.9,182.8 438.6,178.7 436.4,177.2 435.6,177.4 434.0,181.4ZM411.4,150.8 413.1,150.8 413.6,150.5 413.5,147.1 412.2,146.7 410.6,148.6ZM396.7,97.5 397.3,97.3 399.5,93.9 397.4,92.0 394.8,93.7 394.9,96.4ZM428.4,62.7 430.0,63.9 432.5,62.8 432.2,60.6 428.7,60.6ZM551.3,146.2 549.0,141.1 546.7,141.0 543.3,143.3 546.6,152.1 547.7,152.4ZM320.1,139.5 320.8,139.4 323.0,137.4 322.6,136.0 318.6,135.7 318.6,138.7ZM377.5,168.6 380.9,169.1 381.6,165.4 381.1,164.9 379.9,165.2ZM573.0,182.7 580.1,183.3 581.7,178.3 576.2,174.8ZM424.0,115.4 423.5,116.1 424.3,119.5 427.9,119.0ZM327.9,159.8 325.4,160.1 324.7,162.3 327.9,162.7 328.7,162.0 328.4,160.2ZM398.4,163.3 401.8,161.6 401.3,160.1 399.3,159.1 397.4,161.2ZM395.9,132.1 393.6,128.3 392.9,128.1 391.2,130.1 391.2,131.7 393.1,133.2 395.2,133.2ZM324.4,175.2 325.4,178.1 327.1,178.2 327.8,174.6 326.6,173.1 326.0,172.9ZM551.8,83.4 552.4,85.7 558.1,87.5 560.7,80.7 554.9,78.1ZM342.2,131.6 340.4,134.3 341.9,135.6 344.2,133.9ZM528.5,75.1 526.5,77.5 527.2,82.2 532.6,83.7 534.1,76.6ZM429.1,96.0 427.4,92.8 423.7,94.9 424.3,96.8 426.4,97.5ZM477.6,90.3 471.3,89.9 469.3,96.9 474.9,98.8ZM442.2,165.9 442.6,167.5 443.7,168.9 447.3,168.0 448.9,165.1 448.5,163.9 444.9,163.4ZM353.2,177.5 349.8,178.2 350.3,180.2 352.1,180.8 353.8,179.6 353.7,178.1ZM356.5,188.7 353.9,185.9 352.9,186.0 352.5,186.2 351.8,189.4 356.5,189.4ZM350.0,152.2 347.7,154.4 349.2,156.4 350.2,156.6 351.3,155.5 351.5,152.5ZM499.7,152.9 507.1,151.9 507.7,150.7 503.6,145.7 497.0,148.9ZM355.0,179.6 357.3,181.4 358.7,180.4 357.7,177.4 354.9,178.2ZM410.4,123.4 414.1,124.7 414.5,124.5 414.1,119.1 413.7,118.8 410.8,121.3ZM560.7,147.1 559.5,148.4 559.2,151.8 563.5,156.3 569.3,154.3 569.9,152.9 567.1,147.5ZM420.8,147.6 424.1,149.7 424.5,149.4 425.5,145.7 424.4,144.6ZM431.9,109.7 430.2,108.6 428.5,109.8 428.9,110.9 431.1,111.0ZM379.9,142.0 381.7,143.6 384.1,142.4 384.3,141.9 381.3,139.5ZM373.0,134.7 373.6,133.0 372.9,132.4 369.9,132.0 368.7,135.7 371.1,136.0ZM440.3,118.7 441.5,117.6 441.5,117.1 438.3,114.8 437.2,115.2 436.3,118.7ZM368.5,128.4 366.7,127.4 365.1,128.1 366.4,130.4 368.6,130.5ZM414.8,118.1 418.0,117.4 417.1,114.7 413.7,114.7 413.5,116.4 414.0,117.7ZM434.7,145.7 438.4,145.0 438.8,142.1 437.9,141.8 434.0,142.9 433.5,143.9ZM356.7,114.9 355.1,117.9 357.0,119.0 359.3,116.8 358.3,115.3ZM415.8,69.9 416.4,69.9 416.9,66.0 415.9,65.9 413.5,68.0ZM581.8,66.2 588.2,66.6 590.3,60.6 579.7,60.6ZM366.5,138.3 363.7,138.7 362.8,140.6 365.2,141.7 366.8,140.3ZM387.3,133.7 385.5,132.7 384.0,135.6 386.6,136.8 387.2,136.5ZM372.9,120.8 369.9,121.4 369.7,123.3 371.0,124.1 373.5,121.6ZM548.2,162.6 549.6,164.6 550.8,165.0 556.2,163.0 552.8,155.9 550.1,155.5ZM406.9,112.9 407.1,112.4 404.3,110.6 403.0,111.0 403.2,113.6ZM418.9,131.5 420.2,132.3 421.9,132.3 423.5,129.3 419.4,127.4ZM552.2,131.4 557.3,129.6 557.8,128.7 552.8,124.0 548.5,125.2 548.0,129.0ZM453.4,101.2 452.8,104.4 455.9,106.5 458.8,104.8 457.9,102.0ZM397.2,107.0 398.8,110.0 400.5,109.4 400.5,106.6 399.7,105.8ZM443.1,104.4 441.8,102.2 439.7,102.2 438.0,103.8 438.6,106.4 441.3,106.5ZM381.9,145.9 384.9,148.3 385.9,146.0 384.4,143.6 382.1,144.7ZM354.6,71.8 354.5,71.4 350.9,69.6 351.3,73.9 352.8,73.8ZM319.8,96.9 319.1,94.7 318.6,94.5 318.6,97.9ZM432.8,102.7 434.1,101.9 434.4,99.3 431.7,99.2 430.9,101.4ZM352.1,167.6 351.1,166.3 350.6,166.2 348.5,168.5 351.1,170.0ZM331.6,140.7 332.2,138.5 329.4,138.4 329.8,141.0ZM329.9,161.8 332.4,163.0 334.2,161.5 334.0,160.1 332.1,158.7 329.6,160.2ZM400.3,169.5 399.1,169.9 397.8,173.1 399.5,174.1 401.8,172.1 401.3,170.2ZM385.9,182.9 385.6,181.4 383.4,180.6 382.5,183.1 383.8,184.0ZM587.2,106.3 589.2,104.0 587.3,98.1 582.1,98.9 580.3,103.3ZM430.3,176.0 429.1,175.2 425.5,176.1 425.1,176.5 425.3,177.0 429.5,178.3ZM402.8,71.2 401.6,74.0 403.8,75.3 404.3,75.2 406.0,72.8ZM327.6,133.4 328.4,134.2 331.0,133.1 329.7,129.3 329.3,129.3ZM319.7,113.7 322.5,112.3 322.2,110.0 318.6,109.9 318.6,113.2ZM384.2,93.6 383.4,92.0 380.7,92.1 380.4,95.3 381.6,95.7ZM433.2,72.8 433.8,71.1 432.0,69.2 429.8,69.2 428.7,70.1ZM476.4,160.5 479.9,165.0 484.6,163.1 484.6,160.1 479.0,156.3 478.5,156.5ZM382.2,160.9 385.3,160.8 386.1,159.1 385.3,157.6 383.1,158.1ZM422.5,95.0 420.4,94.7 418.7,96.1 418.9,98.3 422.0,98.9 423.2,97.1ZM386.1,83.4 383.1,83.3 382.9,83.8 384.1,86.8 385.7,87.6 387.2,86.1ZM345.5,63.5 347.4,64.2 348.0,63.5 347.9,60.6 344.6,60.6ZM463.5,182.6 463.8,184.4 469.9,186.4 472.5,183.7 471.2,178.8 470.4,178.3ZM438.2,82.9 437.6,83.5 437.8,87.1 442.3,86.3 442.8,85.4 442.1,82.6ZM343.3,157.9 343.4,156.1 340.4,155.3 339.0,156.7 340.4,158.8ZM504.5,73.8 511.1,76.6 514.1,74.6 509.2,66.1 508.5,65.9ZM322.4,129.6 323.2,126.0 321.3,124.9 320.6,125.7 320.8,128.4ZM410.0,162.3 409.9,160.0 408.4,158.9 407.3,159.0 406.8,161.7 408.5,162.7ZM407.7,168.0 408.4,168.7 412.3,164.6 410.5,163.4 408.8,163.8ZM414.0,175.9 413.9,177.6 417.7,177.9 418.2,177.3 417.6,174.5 416.1,173.9ZM412.6,186.5 410.9,187.5 411.2,189.4 414.4,189.4ZM326.8,171.9 329.9,169.4 329.6,168.5 327.5,167.2 325.3,168.0 325.2,170.6 326.0,171.7ZM504.4,144.8 508.7,149.9 511.9,148.8 511.9,140.5 504.5,142.1ZM495.5,138.2 502.6,139.7 504.1,132.8 498.8,132.1ZM394.4,186.3 394.2,189.4 396.5,189.4 398.0,186.8 397.5,185.9ZM323.8,87.8 325.2,84.5 321.8,84.2 321.3,84.9 321.8,87.7ZM602.8,132.4 602.9,136.7 611.4,139.9 611.4,131.3ZM355.5,104.2 358.5,105.2 360.1,104.2 357.7,102.0ZM366.1,91.0 366.7,90.4 365.5,88.3 363.3,87.9 361.8,89.0 362.5,90.9ZM499.9,88.2 503.9,92.7 505.1,93.0 510.9,86.6 509.7,84.5 502.2,83.8 499.6,86.6ZM351.0,113.9 349.4,113.0 347.5,116.3 351.2,116.8ZM456.2,66.0 451.6,60.6 449.0,60.6 448.7,62.1 451.3,66.5ZM422.4,172.6 424.6,175.2 425.3,171.8 424.3,170.7ZM384.9,99.5 384.2,99.6 383.1,102.4 384.0,103.4 385.3,103.7 387.6,101.9ZM415.0,138.0 413.9,141.4 415.5,142.2 416.8,141.6 416.7,138.7ZM557.3,172.8 559.0,176.6 564.4,176.1 565.9,172.2 564.2,167.9 561.9,166.6ZM598.7,184.4 605.0,184.8 607.0,182.2 605.8,177.1 602.4,176.7 598.4,183.0ZM436.6,88.9 435.0,93.5 435.5,93.9 438.9,92.6ZM402.9,92.9 401.5,93.9 404.2,96.9 406.8,95.7 406.8,94.8ZM554.5,76.8 556.6,71.1 550.4,66.8 548.2,68.8 548.4,73.4ZM425.6,166.6 427.7,166.7 429.2,164.7 425.9,163.1 425.5,163.4ZM357.3,172.9 354.1,175.7 354.1,176.7 354.5,177.1 357.7,176.2 358.4,174.7 358.0,173.2ZM441.9,110.2 441.1,107.7 438.8,107.6 438.1,109.4 439.2,111.7ZM512.0,183.5 510.0,184.8 508.5,189.4 517.7,189.4 517.2,187.2ZM333.8,173.7 333.4,175.1 333.8,176.3 335.6,176.6 338.8,174.4 337.8,173.3ZM392.7,81.8 391.2,85.8 392.8,87.3 394.6,86.9 395.6,85.1 393.4,81.9ZM358.2,151.0 358.1,151.6 360.9,153.3 362.7,150.9 362.4,148.8ZM336.1,107.3 333.6,110.1 333.8,110.7 336.4,111.4 338.2,108.9ZM320.1,129.3 318.6,129.7 318.6,133.0 321.4,130.3ZM518.8,127.1 525.3,125.3 526.3,122.7 524.8,119.3 516.1,121.1ZM340.3,108.9 342.6,112.4 344.4,110.7 343.9,108.2 341.7,107.7ZM416.4,172.8 418.0,173.4 419.6,172.2 419.0,169.7 418.1,169.4 415.8,171.3ZM384.7,63.7 382.7,65.7 383.5,66.7 385.9,66.5 386.1,65.4ZM455.8,172.5 453.4,171.4 450.9,172.6 450.6,173.4 452.7,176.0 454.5,175.9ZM396.3,161.7 395.3,161.5 393.3,162.4 393.5,164.5 395.9,165.4 397.3,163.7ZM362.9,117.2 364.0,119.5 364.5,119.9 367.0,118.8 367.4,117.5 366.6,115.7 363.4,116.5ZM345.6,171.3 342.9,169.9 342.1,172.8 344.6,173.0 345.6,172.1ZM395.0,134.4 393.2,134.4 391.3,137.3 393.6,138.4 395.3,135.3ZM435.8,167.1 435.4,167.5 436.8,169.7 441.4,167.4 441.2,166.6ZM466.3,98.2 464.5,97.4 460.0,99.0 459.0,101.5 460.0,104.6 463.2,105.8 465.2,104.7ZM337.7,123.9 340.6,125.3 341.9,123.0 340.4,121.6 338.0,121.6ZM473.4,184.6 470.7,187.3 471.1,189.4 479.8,189.4 478.6,186.1ZM388.9,117.5 387.3,116.0 385.2,116.6 385.3,118.5 388.2,119.3ZM343.5,67.8 347.2,66.9 347.0,65.4 345.2,64.7 343.0,66.6ZM413.6,129.7 417.8,131.0 418.2,127.0 416.0,125.6 414.6,125.8ZM382.4,189.0 378.9,187.2 377.2,188.2 377.3,189.4 382.4,189.4ZM364.9,183.4 369.7,181.7 369.8,179.9 369.2,179.5 365.4,179.6ZM328.7,163.7 328.2,166.2 330.0,167.3 331.9,164.1 329.5,162.9ZM361.1,103.4 363.3,102.0 361.4,99.6 359.0,99.4 358.3,100.9ZM357.2,145.0 356.1,144.3 353.3,144.7 352.4,145.7 353.8,148.1 355.8,148.1ZM564.6,63.2 568.6,68.4 569.3,68.4 572.2,60.6 565.7,60.6ZM538.8,162.1 542.7,170.9 548.4,165.1 547.2,163.3 539.1,161.8ZM351.0,75.1 350.2,76.0 351.4,79.2 352.6,79.6 354.8,76.8 352.8,75.0ZM568.0,105.4 564.2,102.2 560.6,102.6 558.8,109.7 564.9,110.7 568.2,106.3ZM386.3,82.2 387.8,80.0 387.1,78.7 386.4,78.4 382.9,79.1 382.6,80.2 383.2,82.1ZM386.8,124.4 387.1,125.2 391.7,125.1 392.0,123.3 389.0,121.5ZM377.1,100.4 377.1,98.7 374.0,98.1 373.0,99.1 373.6,100.2 376.3,100.8ZM451.8,98.9 453.0,95.7 449.6,93.3 447.5,97.3 448.7,98.7ZM594.5,131.3 591.5,130.0 588.0,131.8 588.1,137.6 590.5,139.8 592.8,139.6ZM318.6,90.4 318.6,93.2 319.6,93.6 321.8,92.6 320.3,89.9ZM341.1,60.6 337.1,60.6 338.6,64.4 339.4,64.3ZM417.3,187.3 415.3,184.2 414.1,184.2 413.5,185.6 415.8,189.4ZM388.9,92.7 386.9,94.2 387.7,96.5 389.6,96.7ZM606.1,145.9 610.5,140.8 602.4,137.8 598.6,141.6ZM337.0,120.3 337.4,117.6 336.4,116.3 334.0,116.7 334.8,119.6ZM424.2,108.8 425.4,108.3 425.5,106.5 423.8,105.2 422.3,106.2 423.1,108.4ZM439.4,189.4 442.6,189.4 442.8,188.6 440.7,185.2 436.8,185.0 436.6,185.6ZM390.5,132.7 388.5,133.7 388.4,136.6 389.5,137.1 390.1,137.0 392.1,133.9ZM404.4,137.9 404.9,137.0 403.6,133.9 402.2,133.7 400.9,137.9 401.6,138.5ZM439.6,177.9 440.3,177.8 440.9,177.1 440.4,173.6 437.6,173.4 437.1,176.3ZM455.9,95.4 454.2,96.0 452.9,99.4 453.3,100.0 458.0,100.8 458.8,98.7ZM422.9,157.1 425.2,157.5 427.1,155.1 424.1,152.7 422.4,154.5ZM439.7,101.0 441.7,101.0 442.5,97.4 442.2,97.1 438.0,98.5ZM373.8,72.8 374.1,75.4 377.2,76.5 377.6,76.2 377.0,73.2ZM331.7,134.1 328.8,135.3 328.8,137.1 332.3,137.3ZM415.8,87.8 415.0,90.3 415.3,90.9 418.1,90.8 418.9,88.5ZM336.2,136.8 336.8,134.8 335.7,133.2 332.9,134.0 333.6,137.3 335.2,137.4ZM399.3,104.7 399.4,104.0 396.4,101.6 394.6,103.3 396.7,105.9ZM462.9,181.5 469.7,177.4 468.5,173.6 462.5,171.8 461.5,180.3ZM399.8,131.7 397.0,132.7 396.1,133.9 396.5,135.0 399.8,137.5 401.1,133.2ZM449.5,154.7 449.2,155.7 451.5,159.2 454.2,159.1 456.3,157.2 454.9,152.3ZM587.8,85.0 582.5,80.8 580.1,87.3 581.6,89.6 585.7,89.7ZM357.0,171.0 358.4,172.1 359.4,171.2 360.3,168.2 358.6,167.0 357.1,167.5 356.5,168.1ZM367.6,89.7 369.5,89.1 370.3,86.6 369.8,85.8 367.3,86.1 366.5,87.8ZM428.6,104.5 430.3,105.6 432.1,104.4 432.2,103.7 430.0,102.3 428.8,102.6ZM333.0,155.0 332.8,157.7 334.5,159.0 337.1,156.6 335.5,155.1ZM421.5,105.3 423.3,104.2 423.3,103.0 422.2,101.8 418.9,104.5ZM455.6,122.9 459.2,118.7 455.5,116.4 454.1,120.0ZM381.2,74.8 379.5,72.0 378.1,72.9 378.7,75.9 380.8,76.0ZM356.1,122.7 356.9,121.6 356.6,120.2 354.2,118.7 352.8,118.8 351.7,121.3 351.9,122.3ZM433.3,137.3 435.2,136.9 436.6,135.3 436.6,134.1 435.5,133.2 432.7,133.3 432.1,134.7ZM328.0,69.3 328.4,70.4 330.8,70.9 332.4,67.7 330.9,67.3ZM373.9,81.2 373.5,81.9 375.7,85.2 377.1,85.0 376.8,81.1ZM364.8,76.4 364.6,77.0 366.4,81.0 368.0,80.5 368.6,77.9 367.5,76.6ZM341.8,66.9 339.7,65.4 338.5,65.7 337.0,66.9 340.0,69.5 342.3,68.1ZM328.5,77.2 330.2,80.9 332.0,80.1 332.3,78.7 331.1,76.6ZM363.8,150.7 365.6,151.7 367.8,150.8 366.9,149.2 363.6,148.8ZM385.8,172.5 387.1,175.8 388.7,176.5 390.1,175.1 389.0,172.5ZM600.1,107.6 606.2,105.1 606.9,98.6 604.7,98.0 598.4,100.7 597.5,103.3ZM328.0,103.4 329.3,106.4 332.2,103.5 330.5,101.7ZM357.0,94.2 356.2,91.2 354.8,90.2 352.8,92.9 354.2,95.1ZM376.0,188.3 375.1,187.7 372.8,188.2 372.6,189.4 376.1,189.4ZM399.4,60.6 395.7,60.6 397.5,62.7ZM388.1,103.2 386.3,104.6 387.3,106.4 390.1,106.2 390.4,105.1ZM396.7,172.8 397.9,169.6 396.2,168.4 394.3,169.9 395.8,172.9ZM438.8,151.4 436.8,152.0 436.4,152.5 438.4,155.0 441.2,153.6ZM345.5,188.5 342.9,187.7 341.6,188.7 341.7,189.4 345.9,189.4ZM350.0,92.7 349.0,91.2 347.0,91.9 346.9,93.6 348.3,94.4ZM429.8,83.3 432.7,83.6 433.5,82.8 432.5,79.7 430.8,79.4ZM360.5,180.6 363.7,182.9 364.2,179.3 363.4,178.4ZM356.4,138.6 358.2,138.3 358.8,136.6 356.6,134.7 355.8,135.2ZM453.9,182.5 457.3,180.3 454.6,177.1 452.8,177.2 451.5,179.6 452.8,182.3ZM327.1,84.2 329.3,87.8 330.1,87.7 330.8,85.1 329.3,83.2ZM456.5,123.7 463.0,125.3 465.8,123.3 464.8,118.6 460.4,119.1ZM336.7,137.9 336.0,138.3 336.5,141.2 339.8,141.2 340.2,140.8 340.2,140.4ZM423.4,151.6 423.5,150.8 420.1,148.6 418.2,151.3 418.9,153.1 421.5,153.7ZM371.8,105.2 371.8,107.8 374.9,108.2 375.4,106.0 375.0,105.6ZM382.4,123.3 381.1,124.5 383.1,127.1 386.0,126.0 385.7,124.7ZM406.6,167.4 407.7,163.6 406.0,162.7 404.4,163.3 404.3,165.0ZM354.8,105.3 354.3,108.0 355.5,109.7 357.7,109.1 358.0,106.3ZM570.8,152.2 577.3,150.0 578.7,145.8 577.5,143.6 574.6,142.1 569.9,143.7 568.1,147.0ZM404.6,128.5 401.0,131.3 402.1,132.5 403.9,132.7 404.9,132.0 404.8,128.6ZM379.9,111.7 378.1,115.9 379.7,117.2 382.4,114.6 382.1,112.8 380.8,111.3ZM414.3,62.7 415.9,64.7 417.2,64.8 418.1,62.4 417.6,60.6 415.9,60.6ZM333.5,138.5 332.8,141.0 333.8,142.3 334.8,142.3 335.4,141.6 334.8,138.6ZM452.3,100.7 451.9,100.1 448.8,99.9 447.1,104.4 448.4,105.4 451.6,104.2ZM388.1,120.5 384.9,119.7 383.1,120.9 383.0,122.2 386.0,123.5ZM429.5,140.1 429.2,140.5 430.8,143.3 432.5,143.3 433.0,142.3 432.3,139.2ZM391.4,115.1 389.5,112.2 388.3,112.4 388.0,115.0 389.7,116.7 390.9,116.1ZM325.6,79.0 326.7,83.0 329.0,82.0 329.2,81.7 327.4,77.7 326.6,77.9ZM318.6,140.1 318.6,144.2 319.4,144.2 319.4,140.5ZM392.4,183.6 394.1,185.2 397.4,184.7 397.5,184.3 394.7,181.0 392.7,182.4ZM357.7,120.0 358.1,121.3 359.2,121.6 362.7,119.6 361.8,117.7 360.2,117.5ZM382.0,120.8 379.3,118.3 377.5,122.1 380.4,123.4 381.8,122.3ZM435.3,101.9 437.2,102.9 438.6,101.5 436.7,98.8 436.1,98.6 435.6,99.0ZM368.5,123.2 368.7,121.1 367.4,120.0 365.1,120.9 365.2,121.6 367.6,123.7ZM593.2,140.7 590.6,141.0 587.7,145.8 588.7,148.4 594.8,150.3 595.8,149.7 596.4,142.2ZM407.6,186.7 406.6,187.7 406.7,189.4 410.0,189.4 409.7,187.6ZM387.2,111.6 385.9,109.1 381.7,110.5 382.9,111.9ZM417.8,161.5 416.2,162.5 415.4,164.1 416.7,164.9 420.1,164.4 420.6,163.0ZM391.8,63.8 394.8,65.0 396.5,63.3 394.1,60.6 393.4,60.6ZM318.6,173.6 318.6,178.6 319.0,178.6 320.5,175.3 319.0,173.5ZM413.5,178.8 412.9,181.5 414.0,183.0 415.4,183.0 416.0,182.6 417.0,179.0ZM345.5,110.3 348.4,110.6 349.1,108.7 347.5,106.3 347.0,106.2 345.0,107.9ZM437.5,63.2 440.2,64.2 440.8,60.6 438.4,60.6ZM329.6,118.0 328.0,116.2 326.2,120.1 327.7,121.1 329.0,121.0ZM354.7,112.6 352.2,113.8 352.6,117.6 354.0,117.5 355.7,114.2ZM372.1,140.6 370.9,141.9 371.3,143.6 372.5,143.8 375.2,141.1ZM347.5,130.8 346.6,129.4 343.8,131.4 345.4,133.5 346.0,133.7 347.1,133.1ZM408.3,117.4 410.3,120.1 412.9,117.9 412.5,117.1ZM400.5,176.7 400.1,178.5 401.1,180.0 403.9,178.8 403.3,177.1ZM439.7,123.6 439.9,119.9 436.4,119.9 436.1,122.4 438.3,123.9ZM318.6,148.6 319.9,145.6 319.7,145.4 318.6,145.4ZM333.8,184.3 334.8,182.6 331.8,180.0 330.0,180.8 329.9,181.9ZM424.8,74.8 422.1,73.6 419.8,75.9 420.7,77.0 421.7,77.4 424.4,76.4ZM455.2,107.5 452.0,105.4 448.9,106.5 449.1,109.0 454.2,111.3ZM332.4,98.5 331.2,100.7 333.0,102.6 334.9,99.8 333.6,98.3ZM356.7,82.5 358.0,83.9 361.0,82.6 360.2,79.8 358.9,79.3ZM344.0,89.6 344.6,89.5 346.0,86.7 344.2,85.5 342.0,86.7ZM573.4,95.6 574.4,100.0 579.3,102.2 581.1,98.3 579.3,94.7ZM373.5,178.6 371.0,180.0 370.8,181.9 374.3,183.1 375.4,182.0ZM607.9,115.1 611.4,113.7 611.4,109.6 606.6,106.2 600.4,108.8 600.3,110.2ZM406.9,82.3 405.2,81.1 403.0,81.8 405.1,84.5 406.8,83.0ZM576.4,173.4 582.5,177.4 584.2,176.8 587.0,170.9 584.1,168.5 578.4,168.5ZM369.3,146.7 368.0,148.6 369.1,150.6 369.8,150.9 371.0,149.4ZM380.2,170.3 376.9,169.9 377.9,173.4 379.3,174.3 380.2,173.9ZM449.6,163.4 450.0,164.7 453.1,166.2 455.9,164.7 454.0,160.3 451.5,160.4ZM388.1,187.5 383.9,188.3 383.6,189.4 388.6,189.4ZM441.4,178.4 442.9,180.9 445.4,181.2 446.7,178.9 445.9,176.8 441.9,177.8ZM419.3,133.2 418.4,132.6 415.5,135.4 415.5,136.9 417.2,137.6 418.3,137.2ZM324.2,137.1 325.8,137.7 327.6,137.0 327.6,135.2 326.6,134.1 324.7,133.9 323.7,135.5ZM435.9,186.6 434.9,189.4 437.9,189.4ZM484.1,114.0 480.1,117.8 483.9,123.6 488.9,118.8 489.0,117.6 486.8,114.3ZM419.9,111.1 423.3,113.9 423.6,109.9 422.7,109.5ZM379.7,175.4 379.1,177.8 379.7,178.6 382.3,178.8 382.7,177.4 381.4,175.2ZM441.7,184.6 443.7,187.7 447.0,185.4 445.3,182.4 442.9,182.1ZM371.1,104.1 372.5,100.8 371.8,99.5 371.4,99.4 369.8,101.1ZM394.4,142.5 390.3,142.7 390.2,145.1 391.4,146.3 394.6,143.0ZM430.2,163.9 431.1,161.8 430.0,160.6 426.9,160.7 426.5,162.0ZM380.6,109.8 378.4,106.3 376.5,106.4 376.1,108.8 376.6,109.6 379.4,110.5ZM490.7,69.9 491.4,73.6 494.6,76.1 501.0,75.1 501.2,74.7 497.0,68.5ZM390.8,63.2 392.1,60.6 388.8,60.6ZM328.0,113.5 331.8,112.8 332.6,111.1 332.4,110.3 329.1,108.4 328.3,109.0ZM480.2,101.8 475.9,100.5 473.2,108.0 473.8,109.2 480.0,108.3 481.7,104.4ZM580.6,90.2 579.1,88.0 573.1,87.6 573.4,94.4 579.2,93.5ZM347.2,117.5 346.4,118.7 346.6,119.7 350.8,120.6 351.5,118.1ZM426.3,134.7 426.9,131.5 424.4,130.2 422.9,132.8 424.9,135.0ZM509.0,64.8 509.7,65.0 514.7,63.5 516.0,60.6 508.7,60.6ZM352.8,181.7 353.2,184.7 353.9,184.7 356.4,182.2 354.4,180.7ZM432.3,172.7 430.8,170.9 429.9,170.9 429.6,171.3 429.8,174.2 431.2,175.1 431.5,175.0ZM351.8,159.7 354.6,160.6 356.0,158.0 355.6,157.3 352.1,156.5 351.1,157.4ZM411.9,100.9 413.5,101.1 414.6,99.8 413.2,97.7 410.8,98.8ZM385.6,62.9 387.0,64.5 389.5,63.5 387.4,60.8ZM417.2,132.0 413.6,130.9 413.2,132.7 414.9,134.4ZM378.9,150.0 379.4,147.4 376.9,146.8 375.6,147.7 375.4,148.7 376.9,150.8ZM433.7,79.5 434.6,82.4 436.8,82.6 437.3,82.2 436.1,79.3 434.8,78.9ZM404.0,63.0 406.0,61.7 405.6,60.6 402.2,60.6ZM434.4,113.0 434.3,110.8 433.1,110.0 432.1,111.7 432.8,113.2ZM357.2,183.1 355.0,185.3 357.2,187.6 358.8,186.0ZM370.7,89.3 373.6,90.9 374.4,86.9 371.4,87.1ZM363.5,115.2 366.5,114.5 366.7,113.9 365.6,112.0 363.2,112.5ZM327.5,128.2 326.1,126.1 324.4,126.3 323.7,129.3ZM331.8,92.0 331.9,89.9 330.4,88.9 329.2,89.0 327.8,90.5 330.2,93.1ZM369.2,80.7 370.7,81.8 372.4,81.3 372.9,80.6 372.1,78.1 369.7,78.3ZM372.3,139.4 375.1,139.8 375.3,138.8 373.3,135.9 371.9,136.9ZM322.2,62.6 323.9,60.6 318.6,60.6 318.6,61.1ZM501.2,161.0 504.6,161.7 507.5,159.1 506.9,153.2 499.9,154.1 498.8,158.0ZM436.0,95.0 436.4,97.4 437.1,97.6 441.7,96.0 441.2,93.8 439.8,93.5ZM596.4,150.7 595.4,151.3 593.8,157.9 600.8,158.7 602.4,157.0 601.0,152.5ZM333.3,73.5 336.1,75.0 337.5,73.3 335.7,72.1ZM368.1,136.8 367.7,137.7 368.0,140.1 370.0,141.0 371.2,139.7 370.7,137.2ZM378.4,77.1 377.8,77.5 377.6,80.2 381.5,79.7 381.8,78.7 380.9,77.2ZM340.3,126.5 337.1,125.0 336.6,125.4 336.3,128.9 336.6,129.2 340.4,128.7 340.7,127.4ZM397.7,63.9 395.6,65.9 395.7,66.8 397.8,69.0 398.8,68.6 399.9,66.3ZM452.2,72.0 455.3,71.8 456.3,67.2 451.4,67.7 450.3,70.5ZM429.3,189.1 430.7,186.7 429.7,184.7 428.0,185.9 428.1,187.9ZM346.2,139.2 342.3,139.1 341.4,140.8 345.6,143.2 346.3,142.9 347.1,140.2ZM361.7,162.7 360.1,163.6 359.4,166.1 361.1,167.3 362.9,166.7 363.1,163.2ZM420.9,66.3 421.8,66.0 422.1,63.5 419.2,63.1 418.4,65.1ZM332.7,165.5 330.8,168.3 331.1,169.2 332.4,169.8 334.6,168.3 334.5,167.2ZM422.6,189.4 423.6,188.1 423.2,186.0 421.1,186.1 420.6,186.8ZM436.0,171.3 436.0,170.6 434.3,168.0 431.9,170.3 433.2,171.9ZM407.2,116.7 406.8,114.2 403.0,114.9 402.7,115.3 402.7,116.8 404.8,118.3ZM391.4,99.0 393.8,102.5 395.8,100.5 396.0,98.5 394.2,97.4 391.5,98.3ZM351.2,139.9 350.6,139.6 348.3,140.5 347.5,143.0 351.3,145.0 352.3,144.0ZM345.1,160.4 343.7,159.0 340.7,160.0 340.5,161.6 341.8,162.3 345.3,161.1ZM333.2,66.6 334.0,66.3 332.6,63.0 329.8,63.4 331.2,66.1ZM323.5,104.5 324.5,107.5 327.6,108.0 328.4,107.4 326.7,103.7 326.0,103.4ZM351.9,135.4 351.3,138.6 351.9,138.9 355.2,138.6 354.6,135.4 352.3,135.1ZM417.7,104.4 416.7,100.7 415.6,100.5 414.4,101.8 415.6,104.5ZM427.7,114.0 425.7,115.0 429.2,118.6 430.3,117.5 430.3,116.2ZM339.1,103.3 336.4,105.6 336.5,106.2 339.3,108.2 340.9,106.9 340.5,104.5ZM541.2,60.6 534.5,60.6 536.1,66.9 538.0,68.3 540.7,66.8ZM373.5,144.5 375.2,146.5 376.2,145.8 376.7,142.5 376.0,142.0ZM328.8,152.1 329.5,149.5 329.1,148.7 326.7,148.8 326.4,151.5ZM405.8,186.9 406.6,186.0 404.9,183.8 403.3,184.0 403.2,186.5ZM370.9,117.5 368.5,117.9 368.2,119.1 369.5,120.2 372.5,119.6ZM454.6,115.5 454.1,114.4 449.1,116.6 449.4,118.9 453.0,119.4ZM329.8,145.7 328.1,143.7 326.9,143.8 326.1,147.4 329.0,147.5ZM434.0,92.6 435.4,88.7 433.8,88.3 432.1,89.1 431.9,90.3ZM355.9,76.2 357.2,76.1 358.2,74.0 355.4,72.7 353.9,74.4ZM408.3,73.0 411.1,75.9 412.6,73.9 410.7,72.0ZM394.0,118.0 396.2,117.5 396.1,116.7 394.0,114.9 392.5,115.5 392.1,116.4ZM363.1,83.6 363.7,86.7 365.5,87.1 366.2,85.5 365.2,83.1ZM364.4,134.2 362.9,134.4 362.4,135.5 363.6,137.5 366.6,137.0 366.9,136.4ZM359.6,174.3 363.2,175.8 363.1,172.6 360.1,172.2 359.2,173.0ZM395.5,180.1 398.2,183.3 400.3,181.6 400.3,180.9 399.2,179.3ZM360.7,89.5 357.5,91.2 358.2,93.8 360.5,93.4 361.4,91.4ZM335.4,82.6 335.2,84.6 336.9,87.0 337.5,87.1 338.8,86.2 338.4,82.1 337.8,81.5ZM342.4,78.8 340.6,77.8 338.4,79.1 338.5,80.6 339.2,81.2 341.9,80.5ZM543.3,172.0 548.7,175.2 551.7,171.9 550.3,166.1 549.4,165.8ZM404.3,143.9 404.7,145.2 406.7,145.8 407.2,145.0 406.5,142.6ZM436.9,150.7 438.5,150.3 439.7,147.3 438.7,146.2 435.7,146.9ZM360.7,125.1 358.9,122.7 357.8,122.4 357.0,123.5 357.0,125.8 358.2,126.5ZM401.7,158.9 404.3,156.7 404.0,155.4 402.2,154.4 401.1,154.6 399.6,157.6 399.7,158.0ZM347.1,80.6 348.8,80.9 350.3,79.5 349.0,76.4 347.4,76.3 346.5,76.6 345.7,77.8ZM352.7,151.7 356.1,152.4 356.9,151.7 357.0,150.8 355.9,149.3 353.9,149.3ZM422.0,141.2 424.0,141.9 424.7,141.0 423.7,137.7 421.4,138.7ZM376.9,60.6 379.4,62.4 380.7,60.6ZM478.8,89.8 484.9,94.5 488.5,90.2 488.1,87.5 479.8,87.8ZM429.4,179.5 425.3,178.2 424.7,180.9 425.0,181.3 429.9,181.0ZM323.9,147.0 325.0,147.0 325.7,143.5 325.2,143.1 324.5,143.1 322.2,145.4ZM364.4,71.0 362.5,68.4 360.2,70.0 360.5,72.6 363.2,73.3ZM352.5,80.8 351.1,80.4 349.6,81.8 349.6,83.2 351.8,84.8 353.6,82.3ZM379.8,96.4 378.4,98.4 378.3,100.4 380.6,102.0 382.0,101.9 383.1,99.1 381.4,96.9ZM361.3,135.0 361.8,133.9 360.2,131.6 359.5,131.5 357.9,132.4 357.3,133.8 359.6,135.7ZM409.6,92.2 413.6,93.4 414.2,91.6 413.9,90.8 411.4,90.2ZM410.4,65.3 408.8,64.8 407.1,66.9 407.5,67.4 410.9,67.5ZM365.5,110.8 365.9,109.2 365.6,108.6 362.7,108.5 361.3,110.6 362.6,111.4ZM438.3,162.6 436.7,162.9 436.3,165.8 440.7,165.4ZM392.2,147.2 393.4,148.3 396.2,147.6 396.0,144.3 395.4,143.9ZM563.5,62.8 564.4,60.6 556.6,60.6 560.2,63.7ZM344.6,77.3 345.3,76.3 342.4,74.1 341.2,74.3 341.2,76.7 343.2,77.9ZM406.9,180.6 405.9,183.1 407.4,185.1 409.1,182.0ZM421.8,163.1 421.2,165.0 422.2,166.9 424.0,167.3 424.4,166.9 424.3,163.6ZM535.6,139.4 531.9,143.7 535.0,149.2 535.5,149.2 541.5,143.1ZM352.8,61.5 354.9,60.6 352.0,60.6ZM393.4,169.0 395.6,167.3 395.5,166.5 393.1,165.6 391.2,167.9 391.4,168.4ZM466.4,124.4 463.6,126.3 461.6,131.4 461.9,133.0 462.9,133.8 468.0,133.2 469.4,130.3ZM326.3,85.1 324.9,88.3 326.2,90.0 328.2,88.3ZM429.4,138.8 432.3,138.0 431.1,135.4 428.2,135.9ZM417.9,138.6 418.1,141.6 419.0,142.2 420.8,141.4 420.2,138.8 418.8,138.3ZM350.6,123.2 350.6,121.8 346.5,120.9 345.9,122.8 346.3,123.5ZM435.4,77.8 436.5,78.1 440.0,76.2 439.8,74.6 435.7,75.2ZM527.4,123.3 526.4,125.7 528.8,131.1 533.5,128.6 532.6,123.9ZM345.9,148.8 344.8,146.1 341.8,147.9 341.6,149.7 344.1,150.6ZM327.2,156.8 324.8,155.9 324.3,158.0 325.2,158.9 327.4,158.7ZM507.8,176.6 502.0,177.5 502.7,182.4 509.4,183.7 511.4,182.4ZM390.8,147.3 389.4,146.0 387.0,146.5 385.8,149.4 388.2,150.0ZM365.1,65.2 365.2,63.1 361.5,63.2 361.1,64.1 362.9,66.5ZM394.4,66.2 391.7,65.1 390.3,69.0 391.9,69.4 394.5,66.8ZM359.5,181.3 358.1,182.3 359.9,185.5 361.5,185.6 363.1,184.0ZM526.2,161.8 531.6,167.4 536.9,162.0 530.8,158.2ZM340.4,120.4 342.0,118.0 341.3,116.9 338.5,117.8 338.2,120.4ZM351.9,185.2 351.6,181.9 350.1,181.4 348.3,183.7ZM411.5,141.7 412.8,141.2 413.4,138.3 410.7,138.1 410.1,140.5ZM512.5,133.6 514.1,137.7 517.9,138.3 522.0,134.9 518.3,128.8ZM431.0,112.2 428.9,112.1 428.5,113.1 430.8,115.1 431.8,113.8ZM412.3,81.2 414.5,80.2 414.5,79.4 411.5,77.1 410.5,78.3 410.5,79.9ZM372.2,173.0 374.3,170.2 371.4,169.1 371.0,169.2 370.3,172.4ZM321.4,81.5 321.9,83.0 325.6,83.4 324.5,79.6 322.3,79.9ZM426.7,73.0 427.5,70.2 425.6,69.2 422.4,71.8 422.5,72.5 425.5,73.8ZM395.0,76.6 393.4,76.8 393.1,80.6 393.6,80.8 396.6,78.9ZM321.1,185.9 318.6,185.6 318.6,189.4 318.9,189.4ZM481.1,128.5 478.7,128.9 477.3,130.2 476.9,138.4 483.9,135.7ZM361.8,147.8 359.2,145.2 358.3,145.3 356.9,148.6 357.8,149.8ZM322.0,117.4 324.5,114.1 323.2,113.3 320.5,114.7ZM327.7,68.0 330.0,66.5 328.6,63.7 326.8,66.0ZM412.4,145.5 414.3,145.8 414.8,143.2 413.2,142.3 411.9,142.8 411.7,144.4ZM423.9,83.0 424.6,85.2 428.0,85.6 428.7,83.9 425.1,82.4ZM435.5,65.5 437.4,67.6 440.8,66.7 440.3,65.5 436.7,64.2 435.5,64.8ZM418.3,178.9 417.3,182.4 419.7,182.4 420.4,181.4ZM337.2,79.0 336.3,78.2 333.5,79.1 333.2,80.3 334.9,81.5 337.3,80.4ZM422.5,78.4 423.8,81.7 424.6,81.3 425.8,78.9 424.7,77.6ZM359.9,130.3 360.4,130.4 363.2,127.7 362.1,126.0 361.7,125.9 359.0,127.4ZM399.7,122.2 398.5,119.8 398.2,119.7 396.3,122.6 397.5,123.5ZM424.7,168.2 424.9,169.6 426.2,171.0 428.9,170.2 427.7,167.9 425.2,167.8ZM434.4,177.2 432.0,176.1 431.5,176.2 430.5,179.0 431.2,181.0 432.8,181.0ZM430.9,76.8 431.0,78.2 432.9,78.6 434.2,77.8 434.5,75.0 433.3,74.1ZM420.7,78.3 419.0,82.2 419.8,82.7 422.7,82.4 421.2,78.5ZM365.3,81.6 363.7,78.0 361.4,79.6 362.2,82.5ZM412.9,157.7 413.1,157.0 410.3,156.0 409.4,158.1 410.6,159.0ZM338.0,157.4 335.2,160.0 335.3,161.3 338.3,162.3 339.2,161.6 339.5,159.7ZM417.9,100.3 418.7,103.1 421.7,100.7 421.7,100.1 418.6,99.5ZM371.9,160.0 370.6,160.8 371.2,163.5 372.1,164.1 373.8,163.6 374.9,162.0ZM435.3,74.1 438.9,73.5 436.4,70.8 434.9,71.4 434.4,73.2ZM518.2,175.3 524.0,177.5 525.2,172.0 521.4,168.7 520.8,168.8 517.7,173.4ZM602.1,152.1 603.5,156.5 605.8,156.6 609.7,152.2 606.2,147.5ZM431.6,98.0 434.8,98.1 435.2,97.7 434.8,94.9 434.2,94.4 430.4,96.0ZM498.7,116.6 497.6,115.3 490.2,117.8 490.1,118.8 496.0,124.6 497.5,123.4ZM386.3,161.4 387.1,163.4 388.0,163.4 390.1,161.2 389.8,160.5 387.1,159.8ZM565.2,78.2 572.8,77.3 571.1,70.6 569.6,69.6 568.6,69.6 565.3,72.2ZM358.9,73.0 359.3,72.8 359.0,70.1 357.4,69.0 355.7,71.2 355.7,71.6ZM357.0,166.2 358.2,165.9 358.8,163.6 355.3,162.2ZM554.3,119.5 553.6,123.1 558.7,128.0 559.8,127.5 560.0,119.4 557.6,117.7ZM347.3,105.0 347.8,105.1 350.0,103.4 349.0,101.3 347.9,101.3 346.4,103.4ZM382.3,108.8 385.8,107.9 386.2,107.1 385.1,104.9 384.0,104.7ZM328.8,96.0 327.9,98.2 330.3,99.4 331.3,97.9 329.5,95.6ZM342.0,106.6 344.2,107.0 346.1,105.4 345.3,103.8 344.3,103.3 341.7,104.5ZM320.7,76.4 322.1,73.9 318.6,73.5 318.6,76.2ZM318.6,121.6 318.6,124.8 319.7,124.9 320.3,124.3ZM367.6,174.0 367.8,173.5 365.3,171.5 364.3,172.3 364.4,175.1ZM486.6,79.1 490.1,84.2 493.0,83.4 493.8,77.0 490.9,74.7ZM329.0,62.3 332.6,61.8 333.2,60.6 328.1,60.6ZM387.3,72.1 385.9,73.0 386.9,77.3 387.3,77.5 389.5,74.9ZM402.4,109.9 403.9,109.4 404.6,106.8 401.7,106.9 401.7,109.5ZM374.0,80.0 376.3,79.7 376.6,77.5 373.8,76.5 373.1,77.5ZM356.4,65.2 355.4,61.7 353.1,62.6 352.8,64.2 353.5,65.6ZM436.3,161.8 438.1,161.4 438.8,159.5 437.7,158.2 435.1,158.7 434.4,160.7ZM342.4,166.6 341.3,163.4 339.9,162.7 338.9,163.3 338.8,164.5 340.5,167.4 341.8,167.5ZM355.5,139.8 352.5,140.1 353.4,143.5 355.6,143.2ZM350.4,60.6 349.1,60.6 349.2,63.2 351.7,63.6 352.0,62.4ZM354.3,103.7 357.1,100.6 353.8,99.6 354.0,103.5ZM336.5,68.1 336.4,71.0 338.5,72.6 339.0,72.6 339.3,70.4ZM429.7,101.1 430.6,98.7 429.5,97.1 427.1,98.4 428.1,101.2ZM448.4,168.5 450.6,171.4 452.7,170.4 452.5,167.2 449.8,166.0ZM404.5,102.0 403.3,99.1 401.6,99.8 401.4,102.3ZM601.1,89.5 603.4,85.7 594.6,82.6 593.6,83.9 595.7,90.9ZM446.6,121.6 448.2,119.3 447.9,116.6 445.6,114.7 442.7,117.2 442.7,117.7ZM468.3,64.9 475.2,64.7 475.3,60.6 466.6,60.6ZM384.5,170.9 381.4,170.2 381.4,173.9 384.7,172.1ZM388.9,141.3 388.9,138.2 387.8,137.6 387.0,137.9 385.4,141.4ZM381.9,129.9 382.3,128.0 380.5,125.7 378.8,128.2ZM342.8,69.2 340.5,70.6 340.1,72.8 340.7,73.2 342.2,72.9 343.4,70.7ZM390.4,153.7 390.2,154.5 391.6,156.4 393.6,156.2 394.4,155.3 394.5,153.6 393.5,153.0ZM323.3,162.4 324.3,159.7 323.5,158.9 321.3,159.5 321.3,162.1 322.9,162.7ZM432.7,108.8 433.5,106.8 432.5,105.6 430.9,106.7 430.8,107.6ZM382.8,60.6 384.7,62.1 386.0,60.6ZM321.1,144.8 323.3,142.6 320.9,140.6 320.6,140.7 320.6,144.6ZM367.5,135.3 368.7,131.7 366.4,131.6 365.3,133.5ZM404.8,133.6 406.0,136.3 408.7,135.8 408.9,134.5 407.9,133.2 405.6,133.0ZM395.6,155.2 398.7,156.7 400.0,154.2 397.9,152.6 395.7,153.7ZM378.4,85.7 379.9,88.4 382.9,86.9 381.9,84.5ZM461.6,83.6 457.1,85.2 456.4,88.4 458.1,90.3 461.6,90.0 464.6,86.2ZM368.4,116.7 370.7,116.3 371.6,113.7 367.8,114.3 367.6,114.9ZM492.3,159.0 490.2,157.3 485.8,160.1 485.8,163.2 488.7,165.6 491.3,164.6ZM383.1,185.0 381.7,184.0 380.0,184.5 379.6,186.2 382.8,187.9ZM360.4,116.3 361.9,116.5 362.4,115.8 362.0,112.4 361.1,111.9 359.4,114.7ZM321.6,175.8 320.2,178.9 322.3,180.0 324.2,178.5 323.3,175.7ZM352.5,85.8 352.6,87.0 354.5,88.2 357.1,84.8 355.6,83.1 354.6,82.9ZM346.3,94.6 345.1,95.1 345.1,97.7 346.1,97.8 348.1,96.2 347.9,95.5ZM392.9,110.0 392.0,109.9 390.5,111.6 392.3,114.3 393.7,113.7 394.3,112.1ZM368.5,165.4 368.2,167.3 370.8,168.0 371.4,165.1 370.6,164.5ZM319.5,167.2 322.7,166.0 322.4,163.9 320.6,163.1 318.6,163.8 318.6,166.8ZM321.1,154.3 323.9,155.1 324.4,152.9 322.1,152.1ZM332.0,73.5 330.8,72.2 328.3,71.6 328.1,72.0 328.6,76.0 331.0,75.4ZM326.8,113.3 327.1,109.2 324.3,108.7 323.3,109.6 323.7,112.3 325.5,113.3ZM457.0,65.1 460.6,60.6 453.2,60.6ZM364.0,121.8 363.9,120.9 363.5,120.6 360.2,122.4 362.2,124.8ZM375.4,110.1 375.1,109.5 371.3,109.2 372.0,112.5 372.5,112.8ZM322.2,186.5 320.3,189.4 324.8,189.4ZM386.0,88.8 384.4,91.4 385.3,93.2 386.1,93.3 388.1,91.8ZM405.4,188.0 402.7,187.6 402.0,188.0 402.1,189.4 405.5,189.4ZM567.9,133.0 572.4,132.4 573.6,126.9 568.4,124.5 563.7,128.3ZM477.6,128.2 474.1,123.6 467.7,124.3 470.4,129.7 476.4,129.4ZM427.8,91.7 430.7,90.1 430.9,88.9 428.7,87.4 427.4,90.2ZM379.5,68.9 380.1,70.1 382.3,69.5 382.7,67.5 381.6,66.2 380.5,66.1ZM576.0,111.2 574.2,116.0 578.5,120.6 584.0,114.5ZM347.0,71.7 347.8,75.1 349.2,75.2 350.1,74.3 349.7,69.7ZM412.3,178.8 408.7,177.6 407.6,179.7 410.1,181.2 411.7,181.1ZM338.8,97.1 338.5,99.8 339.0,100.2 341.4,98.8 340.3,96.4ZM471.3,75.5 467.1,68.2 464.3,70.0 463.2,72.9 464.3,75.7 471.0,77.0ZM344.2,82.5 346.0,81.0 344.7,78.5 343.6,79.0 343.0,80.9ZM415.1,78.3 417.1,76.1 413.4,74.8 412.4,76.3ZM347.1,86.2 349.8,87.7 351.4,87.0 351.3,85.9 349.1,84.3ZM412.4,67.4 414.8,65.2 413.2,63.4 412.8,63.4 411.5,65.0ZM414.4,156.9 414.0,158.0 415.9,161.2 417.3,160.5 417.8,158.8 416.4,156.7ZM610.7,161.8 607.7,166.8 611.4,171.6 611.4,161.7ZM340.4,188.8 338.3,187.7 337.6,188.1 337.5,189.4 340.5,189.4ZM423.0,66.2 424.9,67.2 425.6,64.0 423.3,63.3ZM414.6,94.1 414.7,94.6 417.9,95.2 419.5,93.9 418.2,92.0 415.3,92.1ZM366.7,155.5 368.0,155.1 369.2,151.9 368.7,151.8 366.3,152.7ZM448.8,91.2 449.8,88.8 448.9,86.9 443.8,86.2 443.3,87.0 443.8,90.7ZM406.1,131.8 407.8,132.0 408.6,129.8 407.6,128.6 406.0,128.8ZM398.2,164.5 396.7,166.3 396.8,167.3 398.8,168.7 399.8,168.4 400.1,166.8ZM323.6,130.6 324.7,132.7 326.5,132.9 328.0,129.3ZM545.0,103.9 543.6,101.1 536.5,99.9 535.2,101.2 534.8,106.7 542.9,107.0ZM529.3,67.7 534.8,66.8 533.3,60.6 527.1,60.6ZM403.1,144.0 401.3,143.0 400.3,143.9 401.6,147.5 403.6,145.6ZM407.2,61.4 407.8,61.6 409.0,60.6 406.9,60.6ZM334.6,97.6 335.9,99.2 337.4,99.4 337.6,97.0 335.7,95.7ZM401.7,70.9 399.2,69.7 398.2,70.1 397.6,72.3 399.9,73.8 400.5,73.7ZM339.4,142.4 336.3,142.4 335.8,143.0 336.7,145.3 338.8,145.0ZM370.2,152.5 369.3,155.2 372.1,156.1 372.3,154.3ZM588.7,187.1 597.5,184.5 597.3,183.2 592.8,179.8 589.5,181.1ZM411.9,107.2 409.8,105.1 407.0,104.9 406.6,105.7 409.1,108.9ZM339.4,175.4 336.5,177.4 337.9,179.9 340.5,177.7ZM393.6,72.7 392.4,74.9 393.0,75.6 394.9,75.4 396.4,72.9ZM411.5,60.6 412.8,62.2 413.2,62.2 414.4,60.6ZM545.8,185.4 554.2,184.2 555.4,182.8 555.3,181.4 549.2,177.5 545.4,184.8ZM322.2,150.8 325.0,151.8 325.5,148.5 324.0,148.2ZM352.6,152.9 352.5,155.4 355.4,156.1 355.6,153.5ZM455.4,134.2 456.6,134.6 460.7,133.0 460.5,131.8 456.1,129.6 454.2,131.0ZM323.9,89.0 321.6,88.9 321.3,89.2 323.0,92.4 323.8,92.5 325.2,90.6ZM361.7,154.2 361.9,155.6 364.6,156.2 365.5,155.7 365.1,152.7 363.5,151.8ZM446.8,78.2 445.8,74.0 441.6,73.6 441.0,74.2 441.3,76.3 443.5,79.5ZM431.3,150.4 435.6,151.6 435.8,151.4 434.5,147.0ZM386.5,128.5 386.1,127.2 383.5,128.3 383.1,130.0 385.0,131.0ZM451.1,137.5 452.5,141.2 456.0,141.1 456.0,135.7 454.9,135.3ZM431.5,116.1 431.5,117.2 435.1,117.8 436.0,115.0 434.9,114.2 432.8,114.4ZM600.1,65.7 603.5,60.6 596.5,60.6ZM363.4,67.6 365.3,70.3 366.9,69.8 367.8,67.9 365.6,66.3ZM395.4,112.6 394.9,114.0 396.6,115.6 398.2,113.8 397.7,112.4ZM319.6,128.2 319.4,126.1 318.6,126.0 318.6,128.5ZM324.0,166.0 324.9,166.9 327.0,166.1 327.4,163.9 324.0,163.4 323.6,163.7ZM401.8,110.9 401.1,110.5 399.0,111.3 398.7,111.8 399.4,113.4 401.9,114.4ZM351.4,146.4 349.2,149.4 350.1,151.0 351.6,151.3 352.8,148.7ZM366.6,61.7 369.5,62.1 370.0,60.6 366.6,60.6ZM378.9,63.6 375.8,61.3 375.1,63.2 375.9,64.8 379.0,64.3ZM347.0,127.3 350.7,125.9 350.5,124.4 346.6,124.7 346.5,126.3ZM412.1,68.6 411.5,71.1 413.1,72.8 414.8,70.6ZM408.1,152.3 408.9,152.4 410.3,151.2 409.5,149.0 407.6,148.4 406.8,149.8ZM604.8,186.0 598.8,185.6 599.0,189.4 606.2,189.4ZM427.5,102.3 424.5,103.2 424.5,104.2 426.1,105.5 427.4,104.5ZM382.3,180.0 379.7,179.8 378.8,182.2 379.7,183.3 381.3,182.8ZM382.8,151.2 383.7,150.9 384.6,149.7 381.2,146.9 380.7,147.3 380.1,150.1ZM374.6,126.1 375.3,122.8 374.3,122.4 371.8,125.0 372.1,126.2 372.9,126.7ZM428.7,120.1 424.2,120.7 423.5,122.5 426.0,124.2 428.8,120.7ZM557.2,110.9 553.4,110.3 548.8,115.0 553.8,118.4 557.1,116.6ZM423.3,89.2 423.3,93.7 426.6,91.8 426.3,90.6ZM398.2,126.0 399.2,126.6 402.5,124.1 400.5,123.2 398.1,124.6ZM364.1,101.1 365.3,100.1 365.9,97.3 364.7,96.2 363.2,96.3 362.4,98.9ZM348.7,90.1 349.1,88.7 347.0,87.6 345.7,90.0 346.5,90.8ZM577.8,142.3 581.4,137.5 579.7,134.4 574.4,134.4 575.2,141.0ZM418.8,105.7 418.9,110.2 419.0,110.2 421.9,108.6 421.1,106.5ZM323.4,103.1 325.4,102.3 325.2,99.5 323.6,98.7 322.3,101.5ZM365.6,161.1 368.2,159.9 366.9,156.7 365.3,157.1ZM436.4,132.3 437.3,133.2 441.9,131.2 437.1,128.8ZM414.6,85.4 416.4,82.6 415.0,81.3 412.7,82.3 412.5,84.8ZM368.5,76.0 369.5,77.1 372.1,76.9 373.0,75.7 372.6,73.3 370.2,73.5ZM449.8,174.3 447.1,175.5 446.9,176.1 447.8,178.4 450.5,178.9 451.7,176.7ZM427.1,74.2 426.1,74.8 425.6,76.7 426.8,78.2 429.8,78.2 429.7,76.9ZM415.9,124.4 418.7,120.4 418.0,118.6 415.3,119.2ZM430.6,144.5 429.4,145.6 430.7,149.3 433.6,146.2 432.5,144.5ZM364.3,163.1 364.0,166.9 365.4,168.0 367.0,167.2 367.4,165.2 364.8,162.9ZM418.9,159.2 418.5,160.6 421.2,161.9 421.9,158.3ZM322.4,108.8 323.4,107.9 322.5,105.3 318.6,106.5 318.6,108.7ZM325.7,152.8 325.4,154.8 327.6,155.7 329.2,153.9 328.9,153.3ZM519.1,77.0 519.7,83.7 523.1,84.8 526.1,82.4 525.3,77.8ZM369.8,130.8 372.5,131.1 372.3,127.7 371.6,127.3 369.7,128.4ZM338.0,165.5 335.7,167.2 335.8,168.2 337.7,169.1 339.3,167.8ZM358.6,85.0 361.0,88.1 362.5,87.0 361.9,83.6ZM378.7,164.8 375.8,162.8 374.9,164.2 376.9,167.4ZM336.7,113.5 336.2,112.6 333.6,111.9 332.9,113.4 333.9,115.5 336.2,115.1ZM359.2,106.2 358.9,109.2 360.4,109.8 361.7,107.8 360.7,105.2ZM437.5,157.0 437.6,156.0 435.9,153.8 434.1,156.3 434.9,157.5ZM433.4,138.6 434.0,141.7 437.0,140.8 435.2,138.2ZM402.6,173.0 400.3,175.1 400.4,175.5 403.5,175.9 404.6,174.5 404.2,173.5ZM340.0,74.2 339.3,73.7 338.6,73.8 336.9,75.9 337.0,77.2 337.9,78.0 340.0,76.7ZM400.8,188.2 399.0,187.5 397.9,189.4 400.9,189.4ZM445.4,149.7 446.8,150.2 449.9,146.4 449.6,144.8 446.1,144.2 444.1,147.5ZM381.2,155.6 382.8,156.9 385.2,156.4 383.7,152.2 383.2,152.3ZM462.1,72.4 463.1,69.9 457.4,67.4 456.5,72.2 456.9,72.7ZM335.2,71.0 335.3,67.4 334.8,67.3 333.7,67.7 331.9,71.5 332.7,72.5ZM351.8,172.6 353.6,174.6 356.3,172.2 356.1,171.9 352.0,172.0ZM350.9,171.3 348.1,169.6 346.8,171.2 346.8,171.9 349.1,173.2 350.6,172.3ZM321.3,100.9 322.5,98.4 320.6,97.8 318.6,99.4 318.6,100.5ZM394.5,139.2 395.1,140.8 398.6,138.0 396.2,136.3ZM485.2,96.8 481.4,101.4 482.7,103.8 488.0,104.2 488.6,99.1ZM322.3,78.6 324.7,78.3 325.5,77.3 323.0,74.8 321.7,77.1ZM426.8,185.9 424.9,184.8 424.3,185.5 424.8,187.7 426.9,187.6ZM381.9,138.4 384.5,140.3 385.7,137.7 383.1,136.5ZM348.5,112.2 348.3,111.8 345.3,111.5 344.1,112.8 346.7,114.9ZM335.3,153.9 336.6,150.7 335.0,149.4 334.0,150.2 333.6,153.8ZM328.1,138.1 326.3,138.8 326.0,142.2 326.6,142.6 328.1,142.5 328.7,141.5ZM341.1,150.8 340.9,154.2 343.8,155.0 344.8,154.1 343.9,151.7ZM419.4,168.6 421.0,167.2 420.2,165.6 417.4,166.0 418.4,168.3ZM336.4,188.0 334.1,186.7 331.4,189.4 336.3,189.4ZM329.2,143.0 330.7,144.9 332.8,142.9 331.9,141.8 329.7,142.2ZM374.2,93.7 374.4,96.9 377.5,97.5 378.5,96.1ZM400.9,165.8 403.1,164.8 403.2,163.2 402.5,162.6 399.4,164.1ZM353.1,104.4 350.9,104.2 348.7,105.9 350.1,108.0 353.2,107.6 353.7,104.8ZM371.2,186.3 372.5,187.1 374.5,186.6 374.0,184.2 371.2,183.4Z" fill="#a8a800"/></g><g clip-path="url(#clipTop)"><use href="#bkTop" fill="none" stroke="#f4f410" stroke-width="5"/></g><ellipse cx="577" cy="152" rx="21" ry="18" fill="#e0e000" stroke="#f4f410" stroke-width="8"/><ellipse cx="577" cy="159.5" rx="20" ry="13" fill="#fff"/><ellipse cx="339" cy="172" rx="6.5" ry="5.5" fill="#9a9a00" stroke="#f4f410" stroke-width="4"/></g>
<path d="M1625.6,147 L1856.7,147 L1825.6,202 L1593.5,202 Z" fill="#808080"/><path d="M1633,183 L1720,157.5 C1722,156 1724,155.5 1727,155.5 L1769,154.5 C1772,154.5 1775,155.5 1778,157 L1808,175 C1818,178 1823,184 1821,189 C1818,196 1806,198.5 1795,197 C1790,196 1787,194 1785,191 L1757,177.5 L1700,176.5 L1648,192.5 C1643,195 1636,196 1632,193.5 C1628,190.5 1628,185 1633,183 Z" transform="translate(0,1.5)" fill="#c8c800"/><path id="flatTop" d="M1633,183 L1720,157.5 C1722,156 1724,155.5 1727,155.5 L1769,154.5 C1772,154.5 1775,155.5 1778,157 L1808,175 C1818,178 1823,184 1821,189 C1818,196 1806,198.5 1795,197 C1790,196 1787,194 1785,191 L1757,177.5 L1700,176.5 L1648,192.5 C1643,195 1636,196 1632,193.5 C1628,190.5 1628,185 1633,183 Z" fill="#eeee20"/><clipPath id="clipFlat"><path d="M1633,183 L1720,157.5 C1722,156 1724,155.5 1727,155.5 L1769,154.5 C1772,154.5 1775,155.5 1778,157 L1808,175 C1818,178 1823,184 1821,189 C1818,196 1806,198.5 1795,197 C1790,196 1787,194 1785,191 L1757,177.5 L1700,176.5 L1648,192.5 C1643,195 1636,196 1632,193.5 C1628,190.5 1628,185 1633,183 Z"/></clipPath><g clip-path="url(#clipFlat)"><path d="M1747.2,188.6 1751.4,189.8 1751.9,188.9 1751.2,185.8 1748.4,185.1ZM1785.1,195.9 1782.8,195.6 1781.7,196.7 1784.2,199.5 1785.9,199.5ZM1770.9,196.4 1773.3,198.2 1775.2,196.7 1775.3,195.7 1773.1,194.5 1770.8,195.9ZM1634.9,174.9 1635.5,173.7 1635.2,173.3 1633.5,172.5 1631.8,174.0 1632.1,175.8ZM1815.2,184.0 1815.3,183.4 1812.1,180.5 1810.6,183.1 1812.3,185.2ZM1802.4,155.7 1803.1,159.0 1806.4,159.1 1805.4,155.1ZM1722.1,165.4 1721.9,162.4 1719.6,160.8 1718.6,160.9 1717.0,162.7 1718.8,166.7ZM1732.7,178.2 1732.3,179.2 1733.1,181.3 1735.3,181.7 1736.9,177.7 1736.4,176.8ZM1632.6,162.4 1630.7,160.7 1629.3,162.5 1631.0,164.1 1632.0,164.2ZM1680.9,194.4 1682.0,197.2 1682.7,197.3 1684.6,195.6ZM1780.8,160.2 1780.6,158.8 1777.1,157.2 1775.3,161.1 1776.7,162.4 1777.7,162.6ZM1783.6,155.9 1781.6,158.6 1781.8,160.1 1783.5,161.1 1785.7,160.0 1786.0,157.9ZM1746.9,159.5 1750.9,160.4 1750.4,156.7 1749.8,156.3 1747.5,157.1ZM1629.5,195.0 1629.8,193.0 1628.5,192.8 1628.5,195.4ZM1670.4,161.7 1668.0,161.2 1667.0,162.1 1666.8,162.7 1669.7,164.4 1670.6,163.6ZM1818.3,194.9 1821.2,195.8 1822.7,192.9 1819.2,191.7 1818.0,193.3ZM1683.5,198.0 1684.4,199.5 1686.7,199.5 1686.9,197.9 1685.3,196.3ZM1732.8,186.6 1736.7,184.5 1735.4,182.8 1732.9,182.3 1730.8,184.8 1730.7,185.4ZM1667.8,195.8 1666.7,197.4 1668.5,198.6 1669.4,197.2ZM1762.5,196.5 1761.5,199.5 1765.6,199.5 1764.5,195.9ZM1802.3,169.3 1803.4,169.3 1806.3,166.6 1806.0,165.1 1802.6,164.2 1801.4,165.4ZM1700.9,160.4 1699.8,157.7 1697.7,158.5 1697.2,160.4 1697.7,161.3 1700.1,162.4ZM1658.1,156.6 1657.5,154.4 1656.4,154.0 1655.3,154.8 1655.8,156.5 1657.3,156.9ZM1688.6,180.6 1687.4,179.5 1685.5,180.0 1685.6,181.8 1686.5,182.4 1688.3,181.6ZM1631.1,184.0 1630.7,182.8 1628.5,182.9 1628.5,187.2 1629.7,186.8ZM1695.6,168.7 1696.3,167.7 1696.3,166.7 1694.5,165.1 1692.7,166.4 1692.6,167.3ZM1788.8,171.6 1787.8,171.5 1785.3,175.5 1787.8,177.0 1790.7,175.8ZM1690.3,173.1 1688.7,173.4 1688.1,175.4 1688.4,176.0 1690.5,176.3 1691.8,175.4ZM1764.2,154.9 1765.6,156.6 1767.6,155.7 1768.2,154.0 1767.3,152.5 1764.6,152.5ZM1817.8,154.8 1820.7,155.0 1821.1,152.5 1817.5,152.5ZM1773.5,193.6 1775.8,194.8 1777.0,193.8 1777.3,192.6 1774.0,189.7 1773.3,190.1ZM1632.3,191.6 1633.3,189.3 1629.9,187.9 1631.3,191.7ZM1697.3,179.7 1701.2,181.3 1702.5,179.0 1697.8,178.9ZM1629.7,155.8 1631.0,155.4 1631.1,153.9 1629.8,152.5 1628.5,152.5 1628.5,155.2ZM1662.2,197.2 1662.0,197.9 1662.8,199.5 1663.9,199.5 1665.0,197.7 1663.9,196.7ZM1666.1,189.7 1667.1,189.8 1667.6,187.7 1666.4,187.1 1665.2,188.7ZM1807.3,196.5 1810.8,199.5 1812.0,199.5 1812.5,197.2 1811.2,194.5 1807.6,195.8ZM1727.5,189.1 1727.8,190.2 1732.7,191.0 1733.1,190.1 1732.3,187.5 1730.2,186.2 1727.9,187.9ZM1648.1,190.0 1649.8,189.4 1650.5,186.8 1649.6,185.7 1647.6,188.1ZM1782.6,192.0 1783.0,194.6 1785.3,194.9 1786.0,194.1 1785.0,191.3ZM1633.6,196.6 1635.0,199.5 1635.5,199.5 1636.7,197.1 1636.4,196.4 1634.7,195.5ZM1647.5,167.0 1644.1,167.4 1643.9,168.7 1646.6,170.0 1647.8,167.8ZM1748.7,194.7 1746.6,194.1 1744.8,195.4 1745.2,196.8 1747.7,197.8 1749.5,196.7ZM1695.6,197.8 1696.5,196.9 1696.6,195.5 1695.3,194.8 1693.7,195.5 1693.4,197.0ZM1737.3,164.7 1734.3,164.1 1732.6,167.3 1733.2,169.0 1735.4,169.0 1737.7,165.3ZM1688.8,162.0 1689.8,162.5 1692.2,160.9 1690.4,159.1 1689.3,159.1ZM1644.6,159.8 1643.5,157.3 1641.6,157.8 1641.4,159.3 1643.0,160.8ZM1658.5,154.2 1659.3,156.5 1662.3,153.9 1662.1,152.5 1660.0,152.5ZM1819.4,180.0 1820.1,180.3 1823.5,178.6 1823.5,176.5 1821.4,175.7 1818.8,177.1 1818.5,177.9ZM1709.7,164.2 1708.8,161.6 1706.5,161.8 1705.5,164.2 1706.4,165.8ZM1741.3,191.5 1743.1,194.3 1744.1,194.7 1746.1,193.3 1746.3,189.2 1743.8,189.2ZM1719.9,171.9 1717.9,169.0 1715.1,170.1 1716.2,175.0ZM1639.4,194.3 1637.4,196.2 1637.6,196.7 1639.3,197.1 1640.5,194.9ZM1790.3,156.8 1791.2,160.0 1792.1,160.5 1795.8,157.4 1795.2,156.5ZM1650.9,172.2 1647.3,171.8 1647.1,172.4 1648.9,174.2 1650.0,174.1 1650.8,173.2ZM1656.0,193.1 1658.6,193.8 1658.3,191.4 1656.4,191.6ZM1684.3,173.4 1685.3,175.2 1687.1,175.0 1687.8,173.1 1686.2,171.5 1685.6,171.5ZM1820.8,174.8 1820.6,172.2 1817.2,172.8 1818.6,176.1ZM1724.4,185.2 1722.0,185.6 1722.5,188.7 1726.6,188.6 1726.9,187.7ZM1708.9,160.6 1710.4,158.2 1710.2,157.7 1705.9,156.6 1705.4,159.6 1706.4,160.8ZM1700.4,199.5 1703.8,199.5 1703.4,196.9 1702.8,196.7ZM1726.9,170.3 1727.6,166.5 1727.3,166.1 1724.0,166.6 1724.5,169.3ZM1644.4,164.2 1644.4,166.4 1647.0,166.1 1646.2,163.9ZM1697.4,190.2 1698.5,191.1 1701.4,189.9 1701.3,188.5 1699.0,188.3ZM1777.8,186.4 1780.1,187.6 1781.7,186.3 1780.3,183.1 1778.8,182.8ZM1756.4,188.1 1757.8,190.6 1759.1,191.0 1761.0,189.6 1759.8,186.2 1757.0,186.7ZM1697.3,185.5 1699.0,187.3 1701.5,187.5 1702.5,186.0 1701.3,184.3 1698.1,184.7ZM1681.0,175.8 1681.3,176.2 1684.1,176.3 1684.5,175.7 1683.5,173.9 1681.3,174.2ZM1753.5,180.6 1754.5,182.1 1758.4,179.8 1758.1,179.3 1754.4,178.0ZM1631.3,180.4 1632.1,178.3 1631.6,176.6 1631.3,176.3 1628.5,177.2 1628.5,177.9ZM1676.4,185.8 1678.8,185.4 1678.3,183.8 1675.8,182.9 1675.2,183.7ZM1717.9,189.5 1717.2,190.0 1717.2,192.8 1719.7,193.6 1720.7,192.7 1720.8,190.5ZM1752.2,190.5 1752.5,191.4 1753.8,192.4 1756.8,190.9 1755.6,188.7 1752.8,189.4ZM1694.3,183.0 1695.4,185.1 1696.4,185.0 1697.3,184.1 1696.6,181.0ZM1695.7,193.9 1697.2,194.6 1697.7,194.3 1697.9,191.9 1696.5,190.7 1695.2,191.7ZM1798.2,182.2 1795.7,185.1 1799.2,187.3 1801.1,186.0 1799.9,182.2ZM1821.6,197.7 1821.1,196.8 1818.1,195.8 1817.7,196.4 1818.2,199.5 1820.8,199.5ZM1731.8,177.8 1730.1,175.5 1727.7,176.4 1727.4,177.3 1728.5,178.9 1731.4,178.7ZM1659.5,190.7 1659.3,191.1 1659.6,193.9 1660.2,194.0 1662.2,192.5 1661.3,190.8ZM1809.6,176.9 1811.9,178.2 1812.9,177.5 1813.4,173.0 1810.3,172.9ZM1765.5,185.4 1764.0,184.2 1760.9,185.1 1760.7,185.6 1762.0,189.3 1763.5,189.7ZM1769.2,160.8 1770.5,162.7 1773.8,161.1 1771.3,158.6 1770.3,158.8ZM1778.8,181.8 1780.6,182.1 1783.1,180.7 1782.7,176.9 1779.9,177.7 1778.0,180.3ZM1759.2,174.4 1760.7,173.6 1760.9,171.6 1757.4,169.7 1756.8,170.4 1757.2,173.5ZM1633.2,158.2 1631.9,160.2 1633.3,161.7 1634.7,159.6ZM1711.8,183.1 1714.2,185.1 1715.9,184.5 1715.8,181.8 1714.1,181.4ZM1669.7,184.2 1670.1,186.4 1671.2,186.8 1672.4,184.0ZM1750.9,155.8 1753.8,154.7 1753.7,152.5 1750.0,152.5 1750.3,155.5ZM1640.4,159.1 1640.7,157.6 1639.9,156.9 1637.6,157.5 1637.3,159.0 1638.7,160.1ZM1665.2,156.0 1668.6,152.9 1668.5,152.5 1663.1,152.5 1663.3,153.9ZM1746.0,182.3 1747.7,183.4 1749.7,180.5 1748.4,177.9 1746.9,178.1ZM1674.8,196.8 1675.9,196.0 1675.2,194.1 1674.1,193.8 1672.8,194.3 1672.8,196.3ZM1628.5,170.7 1628.5,172.5 1629.1,172.3 1629.0,170.7ZM1683.5,172.9 1684.7,171.0 1684.3,170.6 1681.7,170.1 1680.9,170.7 1681.1,173.2ZM1650.1,190.3 1648.7,190.9 1649.4,192.4 1651.1,192.9 1651.9,192.0 1651.9,191.1ZM1699.0,153.3 1700.4,156.1 1703.5,155.0 1702.5,152.5 1699.1,152.5ZM1739.4,199.5 1743.2,199.5 1744.3,197.1 1743.8,195.6 1742.9,195.3 1739.1,198.4ZM1788.3,184.8 1789.3,181.8 1788.1,181.0 1785.5,182.1 1786.2,185.0ZM1816.8,196.9 1813.5,197.6 1813.0,199.5 1817.2,199.5ZM1749.5,167.9 1748.3,166.3 1747.7,166.3 1745.0,167.8 1744.3,169.6 1746.3,171.3 1747.8,171.3ZM1802.2,154.7 1804.8,154.0 1805.1,152.5 1801.3,152.5ZM1647.0,179.7 1649.8,180.6 1650.4,179.9 1650.4,178.4 1647.6,178.4ZM1753.3,193.3 1752.1,192.3 1749.7,194.4 1750.5,196.5 1751.7,196.9 1753.6,194.8ZM1699.9,172.4 1701.3,174.6 1703.4,175.3 1703.8,172.9 1701.4,170.5ZM1672.7,167.6 1673.3,167.3 1674.0,164.6 1671.3,164.3 1670.3,165.2 1670.3,165.7ZM1816.6,171.9 1820.7,171.1 1820.5,169.0 1818.9,167.8 1817.2,168.1 1815.8,170.1 1815.7,171.4ZM1743.2,164.4 1744.7,166.8 1747.0,165.6 1744.5,161.4ZM1708.2,169.9 1709.8,170.6 1712.2,169.1 1711.4,165.6 1710.3,165.1 1706.6,166.8ZM1653.7,182.6 1653.0,181.2 1651.1,180.6 1650.4,181.3 1650.7,183.2ZM1714.5,169.2 1717.7,168.0 1717.9,167.3 1716.1,163.1 1715.4,163.2 1712.4,165.4 1713.2,168.9ZM1783.5,164.4 1783.0,162.0 1781.4,161.0 1778.5,163.2 1780.7,166.6ZM1680.7,160.5 1682.0,159.4 1682.3,157.9 1681.3,157.2 1678.4,159.6ZM1823.5,166.9 1823.5,165.1 1820.6,164.3 1819.7,167.1 1821.0,168.2ZM1748.5,176.9 1750.4,174.7 1747.9,172.3 1746.4,172.3 1745.1,176.2 1746.6,177.2ZM1774.6,160.4 1776.3,156.5 1776.1,155.8 1773.9,154.6 1772.1,157.9ZM1777.6,163.6 1776.7,163.4 1774.6,167.7 1775.4,168.3 1780.0,167.6ZM1685.3,179.0 1687.1,178.6 1687.6,176.5 1687.3,176.0 1685.4,176.2 1684.9,176.9ZM1777.0,180.8 1777.0,180.4 1773.9,178.2 1771.2,179.8 1770.8,180.9 1771.2,182.2 1772.5,182.7ZM1636.1,163.3 1634.1,162.5 1633.6,162.7 1632.8,164.7 1635.6,166.1ZM1719.3,194.5 1716.8,193.7 1713.8,195.4 1714.0,195.9 1718.8,198.7 1719.5,197.7ZM1803.5,180.1 1803.2,176.3 1802.5,176.2 1800.7,177.4 1800.8,180.9ZM1712.7,177.0 1710.7,176.6 1709.8,178.7 1711.4,182.1 1713.4,180.6ZM1769.9,181.3 1765.2,180.0 1764.6,183.4 1766.3,184.7 1768.2,184.7 1770.2,182.5ZM1720.3,194.4 1720.4,197.3 1724.3,197.1 1724.3,194.4 1721.3,193.5ZM1797.3,160.5 1796.1,158.4 1792.8,161.2 1793.1,162.7 1796.1,164.5ZM1687.7,192.4 1687.9,191.8 1686.2,190.4 1684.9,191.5 1685.9,193.4ZM1642.2,193.5 1641.9,190.8 1639.0,191.8 1639.7,193.4 1641.3,194.2ZM1761.7,173.6 1764.7,175.7 1766.4,174.5 1765.4,170.7 1763.0,170.6 1761.9,171.5ZM1685.7,189.2 1684.4,187.8 1683.0,188.4 1682.5,189.5 1683.1,190.8 1684.0,190.9ZM1720.5,180.5 1723.0,179.9 1723.6,178.2 1722.1,176.5 1719.1,178.4 1719.2,179.5ZM1658.1,182.1 1659.3,180.6 1658.4,179.0 1657.1,179.1 1657.2,181.8ZM1788.5,152.5 1788.1,152.5 1784.6,155.4 1786.7,157.2 1789.5,156.2ZM1672.4,189.2 1671.4,190.7 1672.4,193.4 1673.7,192.9 1674.1,190.9ZM1782.7,185.9 1784.7,186.0 1785.3,185.4 1784.4,182.1 1783.6,181.6 1781.3,182.9ZM1631.9,184.7 1630.7,187.0 1633.9,188.5 1634.5,188.2 1635.1,185.7ZM1756.6,196.7 1754.3,195.5 1752.4,197.6 1753.0,199.5 1756.9,199.5ZM1765.4,159.7 1765.7,160.1 1768.3,160.4 1769.3,158.4 1767.9,156.7 1765.8,157.6ZM1648.5,168.5 1647.3,170.8 1651.2,171.3 1650.8,169.5ZM1640.4,154.9 1640.6,156.1 1641.3,156.8 1643.5,156.2 1644.3,155.2 1641.6,153.2ZM1741.7,185.9 1738.5,185.2 1738.7,189.2 1740.1,190.8 1740.5,190.9 1743.0,188.6ZM1802.2,159.3 1801.4,156.1 1796.8,157.5 1798.2,160.0 1801.4,160.3ZM1814.7,171.4 1814.8,170.2 1811.3,168.0 1809.8,168.6 1810.1,171.9 1813.8,172.0ZM1638.1,182.6 1636.7,185.0 1639.6,186.9 1640.7,186.6 1640.9,185.6ZM1725.3,194.3 1725.3,197.4 1726.4,198.6 1729.7,196.4 1726.9,193.1ZM1678.0,179.1 1680.3,180.3 1680.9,179.5 1680.3,176.6 1679.3,176.9ZM1677.9,190.0 1678.8,189.1 1678.6,186.4 1676.3,187.0ZM1726.9,160.0 1728.6,161.4 1729.9,161.2 1731.3,158.1 1730.6,157.0 1726.5,157.0ZM1674.9,172.0 1675.9,169.6 1673.6,168.2 1673.0,168.5 1672.3,171.1 1673.8,172.0ZM1643.3,184.5 1644.9,185.1 1646.1,183.7 1645.6,182.6 1643.9,183.0ZM1645.9,156.2 1645.0,155.9 1644.3,156.8 1645.9,159.6 1647.1,158.9ZM1800.1,176.6 1801.8,175.5 1800.5,173.0 1797.6,174.9 1797.8,175.6ZM1692.6,191.0 1691.9,188.6 1690.6,189.0 1690.1,190.7 1692.0,191.4ZM1672.0,159.2 1673.6,156.6 1673.2,156.1 1670.9,155.8 1670.3,157.5ZM1818.6,187.2 1819.9,186.5 1821.0,184.0 1819.7,181.2 1819.2,180.9 1816.3,183.5 1816.2,184.2ZM1793.4,178.7 1795.6,178.8 1796.8,175.9 1796.5,175.0 1795.5,174.4 1792.5,176.5ZM1744.3,176.9 1743.8,177.0 1741.5,179.3 1745.1,182.0 1746.0,177.9ZM1773.8,168.3 1771.7,168.2 1770.9,169.2 1771.5,172.9 1774.2,173.7 1775.1,173.1 1774.7,169.1ZM1648.1,152.5 1646.1,152.5 1645.3,155.0 1646.3,155.2 1648.0,154.6ZM1774.4,153.7 1776.4,154.9 1779.2,152.5 1774.4,152.5ZM1717.8,155.0 1717.3,155.4 1717.0,156.9 1718.7,159.9 1719.4,159.8 1721.7,156.1ZM1657.1,160.6 1660.0,160.4 1660.6,159.9 1659.1,157.5 1657.7,157.8ZM1677.6,163.7 1676.1,164.3 1677.9,166.8 1679.9,165.0ZM1660.5,166.9 1660.5,164.8 1659.8,164.4 1658.7,164.7 1658.3,166.1 1659.9,167.5ZM1672.3,176.7 1672.5,177.3 1674.4,176.8 1675.6,174.8 1675.5,173.4 1675.0,172.9 1673.9,173.0ZM1683.4,183.7 1684.8,185.8 1686.3,184.8 1686.0,183.2 1685.1,182.7ZM1708.1,197.1 1706.3,196.2 1704.4,196.9 1704.8,199.5 1708.2,199.5ZM1701.2,168.6 1700.1,164.6 1697.3,166.8 1697.3,167.5ZM1770.9,183.2 1769.0,185.3 1770.3,189.1 1772.6,189.3 1773.6,188.7 1774.3,187.5 1772.1,183.7ZM1761.5,196.3 1759.4,195.0 1757.6,196.6 1757.9,199.5 1760.4,199.5ZM1756.2,173.6 1755.8,170.9 1753.6,171.2 1751.9,174.4 1753.3,175.2ZM1642.1,189.5 1640.9,187.6 1639.8,187.9 1638.0,190.5 1638.4,191.0ZM1705.8,155.6 1710.2,156.7 1711.3,152.5 1707.7,152.5ZM1733.1,198.7 1733.2,199.5 1738.3,199.5 1738.1,198.5 1736.7,197.3ZM1731.1,171.4 1732.3,169.5 1731.7,167.7 1728.5,167.0 1728.0,170.3ZM1809.8,154.6 1810.9,156.4 1811.5,156.4 1813.0,155.0 1812.3,152.5 1810.9,152.5ZM1674.0,155.5 1674.4,156.1 1675.6,156.4 1677.3,154.6 1675.0,152.5ZM1679.8,172.5 1679.9,170.7 1677.5,169.5 1677.0,169.7 1675.8,172.3 1676.1,172.7ZM1686.4,154.4 1686.5,155.2 1687.8,155.9 1690.0,154.0 1689.4,152.5ZM1661.4,176.5 1662.3,177.4 1663.7,177.4 1664.3,176.0 1663.4,174.8ZM1703.8,178.3 1705.9,179.5 1708.9,178.3 1709.9,176.1 1704.1,176.0ZM1809.2,177.9 1806.1,181.0 1807.2,183.1 1809.7,182.7 1811.5,179.6 1811.4,179.1ZM1788.7,164.2 1789.9,164.6 1792.1,162.8 1791.8,161.4 1790.8,160.9 1788.6,161.9ZM1648.6,166.8 1648.7,167.5 1651.1,168.5 1652.2,167.0 1650.6,165.3ZM1646.6,188.3 1645.5,187.8 1643.1,189.3 1646.5,190.6 1647.2,190.2ZM1787.3,170.1 1787.7,170.5 1788.7,170.5 1790.4,167.7 1789.6,165.5 1788.2,165.1 1786.7,165.9ZM1651.5,156.2 1653.5,157.5 1654.8,156.7 1654.3,155.0 1652.7,154.3ZM1669.3,165.8 1669.3,165.3 1666.3,163.6 1665.3,164.3 1665.3,165.1 1667.6,167.8ZM1800.9,181.9 1802.1,185.8 1803.1,186.1 1805.9,184.9 1806.4,183.7 1805.1,181.3 1804.1,180.9ZM1711.9,191.6 1713.3,194.5 1716.2,192.9 1716.2,190.1 1713.5,189.2 1712.6,189.8ZM1680.5,193.4 1682.1,191.2 1681.6,190.0 1679.5,189.9 1678.5,190.7 1678.7,191.8ZM1700.6,157.1 1701.7,159.8 1704.4,159.3 1705.0,156.1 1704.2,155.8ZM1685.5,155.3 1685.4,154.4 1684.1,153.3 1681.6,155.6 1681.8,156.2 1682.9,157.2ZM1634.1,153.2 1632.1,154.1 1632.0,155.5 1633.1,156.2 1634.9,155.1ZM1651.8,169.3 1652.1,170.8 1654.8,170.6 1655.3,170.0 1654.6,167.3 1653.2,167.5ZM1794.7,199.5 1796.8,199.5 1798.7,196.9 1796.5,195.3 1794.4,195.9ZM1691.0,153.8 1692.4,154.8 1693.5,154.8 1693.8,152.5 1690.5,152.5ZM1809.7,189.2 1811.8,193.0 1813.2,192.1 1813.5,189.5 1811.8,188.0ZM1809.4,172.6 1806.1,172.9 1805.6,175.0 1808.7,176.4ZM1710.7,175.4 1713.0,176.0 1715.2,175.1 1714.1,170.2 1712.9,169.9 1710.4,171.4ZM1776.2,196.8 1778.5,199.0 1780.7,196.8 1777.5,194.7 1776.3,195.7ZM1745.1,155.2 1743.1,155.2 1743.7,159.8 1744.4,160.2 1745.9,159.5 1746.6,156.9ZM1639.2,198.1 1637.5,197.7 1636.6,199.5 1640.0,199.5ZM1632.9,178.8 1632.3,180.6 1636.2,180.8 1635.5,178.9ZM1683.6,162.0 1682.4,160.4 1681.3,161.2 1681.7,163.4 1683.5,162.4ZM1739.5,172.0 1741.1,170.1 1738.2,166.3 1736.3,169.4 1738.7,172.3ZM1695.3,164.4 1696.8,165.9 1699.9,163.4 1697.5,162.3ZM1792.3,181.2 1794.8,184.6 1797.3,181.7 1795.6,179.8 1793.3,179.7ZM1806.2,164.1 1807.7,161.8 1807.1,160.2 1803.0,159.9 1802.2,161.0 1802.9,163.2ZM1781.0,167.9 1781.4,168.8 1786.2,169.7 1785.7,165.9 1784.1,165.2ZM1763.5,190.7 1761.7,190.3 1759.7,191.8 1759.8,194.1 1762.2,195.5 1764.4,194.8ZM1666.2,171.5 1666.3,170.1 1664.0,169.6 1662.5,171.3 1663.7,172.6ZM1688.5,172.4 1690.3,172.1 1690.7,171.4 1690.3,169.2 1688.5,168.8 1687.0,170.9ZM1786.1,195.5 1787.0,199.5 1788.2,199.5 1789.5,196.4 1788.2,194.7 1786.8,194.7ZM1759.7,175.3 1759.2,179.2 1764.0,178.4 1764.2,176.6 1761.1,174.5ZM1767.0,168.8 1770.2,168.5 1770.9,167.6 1769.8,164.9 1766.3,165.7ZM1811.0,167.1 1812.0,164.9 1810.9,162.7 1808.5,162.4 1807.0,164.8 1807.3,166.5 1809.3,167.7ZM1775.0,186.9 1776.8,186.2 1777.9,182.3 1777.4,181.7 1773.2,183.5ZM1667.8,175.9 1668.0,177.9 1671.5,177.5 1669.8,175.7ZM1704.5,154.8 1705.0,155.0 1706.6,152.5 1703.6,152.5ZM1686.4,165.6 1687.8,166.4 1689.5,164.4 1689.3,163.4 1688.4,162.9 1686.4,164.9ZM1661.2,183.7 1662.3,181.7 1661.4,181.0 1660.2,181.2 1658.8,182.8ZM1638.9,181.2 1641.3,180.4 1642.2,178.3 1641.9,177.6 1639.8,177.7ZM1789.1,194.2 1790.3,195.7 1793.2,195.1 1791.8,191.5 1791.1,191.4ZM1684.5,180.0 1681.7,180.1 1681.2,180.8 1683.0,182.8 1684.6,181.8ZM1816.6,162.4 1819.5,162.2 1819.9,160.5 1816.4,159.2 1815.3,160.3ZM1740.5,179.6 1737.7,178.3 1736.2,182.2 1737.8,184.2 1738.2,184.2ZM1662.2,160.2 1664.7,163.4 1665.8,162.7 1666.0,161.9 1663.9,159.4ZM1642.3,175.7 1639.8,173.8 1638.7,174.5 1639.2,176.4 1639.6,176.8 1641.9,176.6ZM1793.4,196.1 1790.4,196.7 1789.3,199.5 1793.7,199.5ZM1689.9,194.1 1691.3,193.6 1691.5,192.3 1689.5,191.6 1688.9,192.0 1688.7,192.6ZM1649.2,160.5 1648.7,159.7 1647.9,159.6 1646.6,160.4 1647.1,162.3 1649.0,161.9ZM1650.2,156.5 1648.4,155.5 1647.0,156.0 1648.1,158.6 1648.8,158.7ZM1642.4,162.4 1642.4,161.6 1640.8,160.1 1639.1,161.1 1638.9,162.1 1640.2,163.6ZM1644.4,173.3 1646.1,172.2 1646.4,171.0 1643.5,169.6 1642.8,170.5ZM1687.4,156.9 1686.1,156.1 1684.2,157.6 1685.8,158.6 1687.6,157.8ZM1721.0,171.6 1723.5,169.5 1723.0,166.5 1722.6,166.3 1718.9,167.7 1718.6,168.4ZM1700.9,163.9 1702.1,168.0 1705.6,166.7 1704.6,164.6ZM1685.2,166.9 1685.0,170.0 1686.1,170.5 1687.8,168.1 1687.5,167.4 1685.9,166.5ZM1638.9,170.5 1637.9,170.4 1636.2,172.9 1636.4,173.3 1638.1,173.7 1639.3,172.9 1639.6,171.1ZM1640.5,165.6 1643.3,166.8 1643.4,163.9 1642.8,163.3 1640.6,164.5ZM1647.0,176.2 1648.0,174.8 1646.5,173.2 1644.6,174.5ZM1730.5,156.0 1731.2,154.2 1730.2,152.5 1728.1,152.5 1726.2,156.0ZM1672.1,197.1 1670.3,197.6 1669.2,199.5 1671.8,199.5ZM1706.5,188.7 1703.1,186.9 1702.3,188.2 1702.4,190.1 1702.7,190.5 1706.7,191.0ZM1707.5,192.0 1706.9,195.3 1708.7,196.2 1712.4,194.8 1711.0,192.1ZM1657.6,187.5 1657.0,187.6 1655.9,190.1 1656.3,190.6 1658.5,190.4 1658.7,190.1ZM1712.8,195.7 1709.1,197.1 1709.2,199.5 1712.4,199.5 1713.1,196.3ZM1821.0,160.5 1820.4,162.7 1820.7,163.2 1823.5,164.1 1823.5,160.9ZM1760.1,156.6 1759.0,155.8 1756.4,157.0 1756.4,157.5 1758.8,160.5 1759.6,160.7 1760.5,159.8ZM1663.1,173.3 1661.9,172.3 1659.5,173.6 1659.2,174.4 1660.5,175.9 1663.0,173.9ZM1804.9,192.0 1802.3,192.8 1801.8,196.1 1806.4,196.0 1806.7,195.4ZM1657.6,175.1 1656.3,177.8 1656.7,178.1 1658.5,177.9 1659.6,176.4 1658.5,175.0ZM1672.7,178.3 1675.6,181.0 1677.0,179.3 1674.7,177.7ZM1633.7,170.5 1633.9,171.5 1635.4,172.3 1637.0,170.0 1635.7,168.7ZM1694.5,154.8 1698.1,153.1 1698.1,152.5 1694.8,152.5ZM1765.4,195.5 1766.7,199.5 1767.6,199.5 1769.9,196.5 1769.8,195.9 1768.8,195.1ZM1688.4,158.8 1688.1,158.6 1686.3,159.5 1686.3,160.8 1687.9,161.5ZM1714.6,186.0 1714.1,188.3 1716.6,189.2 1717.3,188.7 1717.5,186.1 1716.3,185.4ZM1733.7,192.3 1736.5,194.0 1739.2,191.3 1738.0,190.0 1734.0,190.6 1733.5,191.6ZM1667.4,172.5 1667.9,174.9 1669.4,174.7 1669.5,173.1ZM1696.3,159.9 1696.7,158.4 1694.8,157.1 1693.8,160.0ZM1819.8,163.7 1819.6,163.2 1816.7,163.4 1815.9,165.1 1817.2,167.1 1818.7,166.8ZM1774.6,161.8 1770.8,163.7 1770.6,164.3 1771.8,167.2 1773.7,167.3 1775.8,163.0ZM1702.0,182.0 1702.0,183.6 1703.1,185.1 1706.0,183.2 1705.4,180.3 1703.5,179.3ZM1801.3,155.1 1800.2,152.5 1795.9,152.5 1796.0,155.8 1796.5,156.6ZM1747.9,165.3 1748.3,165.3 1751.2,161.5 1746.4,160.4 1745.4,160.9ZM1814.4,159.7 1815.8,158.4 1816.0,156.4 1813.7,155.7 1812.3,157.0 1813.9,159.7ZM1718.1,185.2 1720.2,184.5 1719.9,181.3 1718.7,180.4 1716.8,181.6 1716.9,184.5ZM1639.1,182.2 1641.6,184.8 1642.3,184.4 1642.9,182.7 1641.6,181.3ZM1684.8,152.5 1685.9,153.5 1687.6,152.5ZM1778.9,177.2 1776.1,174.0 1774.7,174.5 1774.4,177.3 1777.4,179.4ZM1658.4,163.8 1659.4,163.4 1659.7,161.4 1657.0,161.6 1656.8,162.5ZM1679.1,199.5 1681.1,197.6 1680.1,195.4 1678.3,196.7ZM1669.3,157.2 1670.1,155.3 1669.0,153.9 1666.2,156.5 1668.2,157.7ZM1697.3,157.6 1699.6,156.7 1698.3,154.1 1694.8,155.8ZM1752.3,161.4 1754.1,162.6 1757.7,160.8 1755.8,158.4ZM1654.2,176.9 1655.3,177.4 1656.6,174.9 1655.7,174.3 1654.1,175.2ZM1655.2,166.5 1657.4,165.9 1657.8,164.5 1656.3,163.3 1655.2,164.0ZM1748.5,184.1 1751.6,184.9 1753.8,183.4 1753.9,182.9 1752.6,181.2 1750.6,181.1ZM1649.4,184.4 1649.7,183.7 1649.5,181.5 1646.8,180.7 1646.4,181.9 1647.1,183.4ZM1766.4,170.4 1767.3,174.2 1768.6,174.3 1770.5,173.0 1770.0,169.6 1766.9,169.9ZM1669.6,152.5 1670.9,154.8 1673.1,155.1 1674.0,152.5ZM1649.8,175.2 1649.0,175.2 1647.7,177.4 1650.3,177.4ZM1735.7,157.2 1734.4,154.7 1732.1,154.7 1731.4,156.4 1732.1,157.6 1735.1,157.6ZM1711.1,159.0 1709.7,161.1 1710.7,164.1 1711.8,164.7 1714.5,162.6ZM1737.8,177.2 1740.8,178.6 1742.9,176.5 1739.7,173.0 1738.9,173.3 1737.2,175.5 1737.1,176.1ZM1676.6,174.6 1679.0,176.0 1680.0,175.6 1680.3,173.9 1680.0,173.5 1676.5,173.7ZM1653.4,160.5 1653.4,162.6 1654.7,163.2 1655.8,162.4 1656.0,161.4ZM1648.8,198.2 1647.3,198.8 1647.2,199.5 1649.0,199.5ZM1661.7,185.9 1661.1,184.7 1659.0,184.1 1658.3,186.8ZM1652.9,189.7 1652.7,187.4 1651.4,187.2 1650.8,189.5 1652.3,190.2ZM1696.3,179.6 1694.5,178.7 1692.4,180.4 1693.3,182.2ZM1684.2,167.0 1682.2,166.6 1682.1,169.2 1684.1,169.6ZM1773.2,153.8 1773.4,152.5 1768.5,152.5 1769.0,153.4ZM1757.7,167.4 1757.7,168.8 1761.4,170.7 1762.2,169.9 1761.4,165.8 1760.6,165.4ZM1771.2,173.8 1769.3,175.0 1771.1,178.8 1773.4,177.3 1773.7,174.6ZM1723.7,155.0 1725.3,155.4 1727.0,152.5 1723.1,152.5ZM1782.5,186.9 1780.7,188.4 1780.9,190.4 1782.1,191.1 1785.0,190.2 1785.2,189.8 1784.6,187.0ZM1794.9,152.5 1789.6,152.5 1790.4,155.8 1795.0,155.5ZM1731.5,172.5 1730.8,174.8 1732.6,177.2 1736.1,175.8ZM1650.2,160.8 1650.0,162.2 1650.9,163.4 1652.4,162.6 1652.4,160.8ZM1680.2,154.2 1681.0,154.8 1683.5,152.5 1680.3,152.5ZM1638.3,153.4 1639.7,154.1 1640.9,152.5 1638.2,152.5ZM1634.0,194.1 1632.4,192.6 1631.2,192.7 1630.5,195.1 1632.1,196.1 1632.8,196.0 1634.1,194.7ZM1641.9,170.0 1642.9,168.8 1642.9,167.7 1640.4,166.7 1639.7,169.8 1640.3,170.3ZM1687.9,186.2 1686.9,185.7 1685.1,187.1 1686.3,188.4 1688.1,187.2ZM1812.1,194.0 1813.3,196.6 1816.9,195.8 1817.3,195.2 1817.1,193.6 1813.8,192.9ZM1761.2,160.5 1760.3,161.4 1760.9,164.4 1761.9,164.9 1764.4,164.3 1765.0,160.8 1764.6,160.4ZM1704.5,175.0 1709.6,175.1 1709.4,171.5 1707.9,170.9 1704.8,173.0ZM1781.4,169.8 1781.1,171.4 1783.4,175.6 1784.2,175.3 1786.9,171.1 1786.5,170.8ZM1756.9,185.7 1759.8,185.2 1760.0,184.7 1758.5,181.2 1754.9,183.1 1754.8,183.5ZM1692.2,165.6 1693.9,164.3 1692.4,162.1 1690.3,163.3 1690.5,164.2ZM1665.2,176.5 1664.6,177.8 1665.4,179.0 1666.6,179.2 1667.1,178.4 1666.6,176.6ZM1789.7,170.8 1794.6,171.0 1795.6,168.8 1795.2,167.9 1791.3,168.3ZM1657.4,170.8 1656.1,170.7 1655.6,171.2 1656.1,173.4 1657.4,174.2 1658.3,174.0 1658.6,173.3ZM1658.7,152.5 1656.6,152.5 1656.7,153.1 1657.8,153.5ZM1732.2,158.6 1730.9,161.4 1734.4,163.0 1734.7,158.6ZM1717.8,160.4 1716.2,157.5 1712.0,158.5 1715.4,162.2 1716.2,162.1ZM1696.7,161.6 1696.4,160.9 1693.2,161.0 1693.1,161.3 1694.7,163.6ZM1647.7,191.1 1646.8,191.5 1645.7,193.8 1646.0,194.3 1647.8,194.5 1648.5,192.9ZM1690.8,184.4 1692.8,186.8 1694.1,186.3 1694.6,185.6 1693.0,183.2ZM1683.8,163.4 1681.5,164.9 1682.0,165.5 1684.6,166.1 1685.4,165.6 1685.4,164.9ZM1694.8,177.7 1696.7,178.6 1697.1,178.2 1697.4,176.7 1696.1,174.6 1695.5,174.5 1693.9,175.8ZM1794.2,194.9 1796.3,194.4 1797.3,191.4 1793.9,190.5 1792.8,191.3ZM1690.5,183.4 1692.3,182.4 1691.5,180.6 1690.8,180.4 1689.6,180.8 1689.3,181.9ZM1649.3,193.5 1648.6,195.0 1649.7,196.6 1651.1,196.2 1650.8,193.9ZM1702.9,191.5 1702.6,195.0 1703.0,195.7 1703.9,196.0 1705.9,195.3 1706.5,192.0ZM1821.8,156.4 1821.4,159.6 1823.5,159.9 1823.5,156.5ZM1676.1,181.9 1678.5,182.8 1679.6,181.0 1677.6,180.1ZM1634.3,189.4 1633.2,191.9 1634.5,193.2 1637.2,191.1 1634.9,189.2ZM1758.6,161.5 1754.6,163.5 1755.2,165.3 1757.2,166.6 1759.9,164.6 1759.3,161.7ZM1727.7,179.5 1726.6,177.9 1724.6,178.5 1724.0,180.1 1725.4,181.6 1727.2,181.1ZM1659.3,194.9 1658.2,197.1 1658.8,197.8 1661.1,197.5 1661.2,196.9 1660.0,195.0ZM1638.1,176.4 1637.7,174.7 1636.3,174.3 1635.8,175.3 1636.5,177.0ZM1823.4,192.0 1823.5,188.8 1820.3,187.4 1819.1,188.1 1819.4,190.8ZM1671.9,172.0 1670.5,173.0 1670.4,175.0 1671.5,175.9 1673.0,172.7ZM1805.9,191.7 1807.5,194.8 1810.9,193.6 1808.8,189.7ZM1628.6,166.6 1630.7,168.3 1632.0,165.2 1630.9,165.1ZM1817.6,177.4 1817.8,176.8 1816.1,172.8 1815.2,172.3 1814.4,172.8 1813.9,177.3ZM1790.5,189.8 1791.1,190.4 1792.0,190.6 1793.4,189.6 1794.1,185.9 1790.4,186.7ZM1673.9,161.3 1672.2,160.2 1671.3,161.4 1671.6,163.3 1674.1,163.6ZM1718.2,179.5 1718.1,178.3 1716.1,176.0 1713.7,176.8 1714.4,180.4 1716.2,180.8ZM1661.5,171.3 1659.7,169.5 1658.3,170.5 1659.4,172.6ZM1803.6,175.4 1804.6,175.0 1805.1,172.6 1803.4,170.3 1802.0,170.3 1801.6,170.6 1801.2,172.2 1802.8,175.2ZM1720.4,160.2 1722.5,161.5 1725.8,160.0 1725.5,156.7 1723.4,156.0 1722.9,156.2ZM1729.7,185.3 1729.8,184.7 1727.4,182.1 1725.7,182.6 1725.2,184.5 1727.5,186.9ZM1809.1,188.5 1811.4,187.0 1811.6,186.0 1809.8,183.7 1807.3,184.1 1806.8,185.2ZM1674.3,183.2 1675.1,181.9 1672.3,179.3 1672.0,180.2 1672.7,183.0ZM1814.2,192.0 1817.3,192.7 1818.4,191.0 1818.1,188.3 1814.5,189.7ZM1726.8,176.1 1725.5,174.2 1722.9,174.5 1722.7,175.7 1724.4,177.5 1726.5,177.0ZM1638.1,160.9 1636.6,159.7 1635.6,160.0 1634.8,161.7 1636.6,162.4 1637.9,161.9ZM1737.1,194.8 1737.3,196.5 1738.6,197.6 1742.2,194.6 1740.0,191.8ZM1628.9,158.6 1629.1,156.7 1628.5,156.3 1628.5,158.6ZM1733.3,163.8 1730.2,162.1 1728.8,162.4 1728.1,165.4 1728.4,165.9 1731.8,166.7ZM1796.7,165.3 1796.1,167.3 1796.5,168.5 1801.3,169.6 1800.4,165.7ZM1628.5,163.1 1628.5,165.5 1630.0,164.5ZM1689.0,190.7 1689.6,188.8 1688.6,188.1 1686.7,189.3 1688.5,191.0ZM1821.8,183.4 1823.5,183.4 1823.5,179.7 1820.8,181.1ZM1652.3,196.8 1653.8,199.5 1654.2,199.5 1655.7,197.3 1654.4,196.0ZM1759.6,155.0 1760.7,155.7 1763.2,154.7 1763.6,152.5 1759.7,152.5ZM1661.1,164.0 1663.2,163.4 1661.3,160.6 1660.7,161.1 1660.4,163.6ZM1649.0,154.7 1650.7,155.6 1652.0,153.6 1651.8,152.5 1649.1,152.5ZM1695.7,173.5 1696.3,173.6 1697.9,172.3 1695.7,169.7 1694.9,171.2ZM1741.3,180.7 1739.3,184.3 1741.8,184.9 1744.2,182.7ZM1680.8,165.6 1678.2,167.8 1678.0,168.6 1680.3,169.8 1681.1,169.3 1681.2,166.1ZM1740.1,159.7 1742.7,159.6 1742.1,155.2 1740.0,155.4 1738.3,157.3ZM1785.5,186.6 1786.2,189.4 1789.5,189.5 1789.4,186.6 1788.5,185.8 1786.1,186.0ZM1775.8,169.3 1776.3,173.0 1780.1,171.1 1780.5,169.3 1780.2,168.6ZM1630.7,181.8 1630.9,181.3 1628.5,179.2 1628.5,181.9ZM1738.9,165.6 1741.9,169.6 1743.3,169.3 1744.0,167.5 1742.3,165.0ZM1695.4,186.1 1695.0,186.8 1696.5,189.7 1698.1,187.8 1696.5,186.0ZM1665.8,197.1 1667.3,194.6 1664.8,194.1 1664.5,196.0ZM1812.4,179.0 1812.5,179.5 1815.8,182.6 1818.5,180.2 1817.6,178.4 1813.5,178.3ZM1697.6,195.5 1697.5,196.8 1699.8,198.3 1702.1,196.0 1701.8,195.6 1698.2,195.1ZM1687.7,199.5 1691.2,199.5 1691.3,198.1 1689.4,197.3 1687.9,198.1ZM1711.3,157.6 1716.0,156.5 1716.3,155.4 1712.2,152.9 1711.1,157.3ZM1630.9,175.4 1630.8,174.0 1629.5,173.2 1628.5,173.5 1628.5,176.2ZM1747.3,198.7 1745.1,197.8 1744.3,199.5 1747.4,199.5ZM1687.0,183.2 1687.3,184.7 1688.3,185.3 1689.8,184.2 1688.5,182.6ZM1822.4,198.2 1821.9,199.5 1823.5,199.5 1823.5,198.2ZM1791.3,180.8 1792.4,179.1 1791.3,176.6 1788.3,177.9 1788.7,180.2 1790.0,181.1ZM1680.8,156.4 1680.5,155.7 1679.5,154.9 1678.2,155.0 1676.4,157.1 1677.7,158.9ZM1667.4,179.7 1669.1,180.8 1671.1,179.8 1671.6,178.5 1667.9,178.9ZM1758.8,194.2 1758.7,191.9 1757.5,191.6 1754.3,193.3 1754.6,194.6 1757.0,195.8ZM1735.4,163.1 1737.3,163.7 1739.2,160.3 1737.4,157.8 1736.5,157.8 1735.7,158.4ZM1751.3,175.2 1749.3,177.5 1750.6,180.1 1752.6,180.2 1753.5,177.4 1753.0,176.1ZM1654.9,183.3 1655.1,185.8 1656.7,186.6 1657.4,186.5 1658.1,183.6 1657.9,183.1 1656.7,182.7ZM1652.0,171.8 1651.8,173.2 1653.6,174.4 1655.1,173.4 1654.7,171.6ZM1646.3,198.7 1645.0,198.0 1643.9,198.4 1643.3,199.5 1646.2,199.5ZM1774.6,189.0 1777.9,191.8 1779.9,190.5 1779.7,188.5 1777.2,187.2 1775.2,187.9ZM1662.2,190.3 1663.2,192.3 1663.8,192.4 1665.2,190.3 1664.3,189.2 1663.1,189.0ZM1738.4,164.6 1742.2,164.0 1743.7,160.9 1743.1,160.6 1740.1,160.7 1738.2,164.2ZM1691.1,177.1 1691.3,179.5 1691.7,179.7 1693.8,178.0 1692.9,176.1ZM1763.7,183.2 1764.2,179.4 1759.3,180.2 1760.9,184.1ZM1691.2,158.5 1692.7,160.0 1694.0,156.3 1693.8,155.9 1692.6,155.8ZM1800.7,197.3 1799.7,197.3 1798.0,199.5 1801.3,199.5ZM1667.2,171.5 1669.9,172.2 1671.3,171.2 1667.7,169.4 1667.3,169.9ZM1652.9,158.4 1651.0,157.1 1649.6,159.2 1650.0,159.8 1652.7,159.8ZM1814.1,188.7 1817.5,187.5 1815.5,185.0 1812.6,186.2 1812.4,187.2ZM1718.1,199.5 1713.9,197.0 1713.4,199.5ZM1677.6,160.3 1677.1,159.7 1674.9,161.2 1675.1,163.6 1677.2,162.8ZM1779.4,199.5 1782.8,199.5 1781.1,197.8ZM1631.9,181.6 1631.6,182.3 1632.0,183.7 1635.6,184.9 1637.2,182.2 1636.8,181.9ZM1799.3,190.4 1801.9,191.9 1803.9,191.1 1802.7,187.0 1801.8,186.7 1799.7,188.2ZM1815.0,164.6 1815.8,162.9 1814.4,160.7 1813.9,160.7 1811.8,162.4 1812.9,164.4ZM1786.0,190.4 1785.8,190.7 1786.9,193.7 1788.2,193.7 1790.2,190.9 1789.8,190.5ZM1742.1,152.5 1738.9,152.5 1740.0,154.4 1741.9,154.2ZM1752.1,168.2 1753.5,170.2 1756.0,169.8 1756.7,168.9 1756.7,167.4 1754.8,166.2ZM1640.3,172.9 1642.9,174.9 1643.7,174.1 1641.9,171.0 1640.6,171.3ZM1632.7,197.1 1632.3,197.1 1631.0,199.5 1633.9,199.5ZM1765.3,194.5 1768.5,194.2 1768.8,190.6 1764.8,191.1ZM1632.6,157.1 1631.4,156.3 1630.1,156.8 1629.9,158.9 1631.0,159.8ZM1665.4,157.1 1664.6,158.7 1666.6,161.1 1667.4,160.4 1667.6,158.5ZM1742.6,185.5 1743.9,188.2 1746.3,188.2 1747.5,184.5 1745.2,183.1ZM1718.3,154.1 1722.5,155.3 1722.7,155.2 1722.0,152.5 1718.7,152.5ZM1676.5,189.8 1675.5,187.7 1673.4,188.8 1674.8,190.2ZM1656.2,181.8 1656.1,178.9 1655.1,178.4 1653.9,180.7 1654.7,182.3ZM1687.6,197.1 1689.0,196.4 1689.2,194.8 1688.0,193.4 1686.2,194.4 1685.8,195.4ZM1642.9,194.2 1642.2,194.8 1643.8,197.4 1644.7,197.1 1645.2,194.9 1644.8,194.3ZM1780.7,152.5 1777.1,155.7 1777.3,156.2 1780.9,157.8 1782.8,155.4ZM1723.5,165.7 1727.1,165.1 1727.9,162.2 1726.3,160.9 1722.9,162.4 1723.1,165.5ZM1668.4,193.6 1671.3,193.3 1670.5,191.2 1668.6,191.3ZM1669.1,186.5 1668.7,184.3 1666.2,184.5 1666.6,186.1 1668.2,186.9ZM1694.7,169.5 1692.2,168.2 1691.3,169.0 1691.7,170.9 1694.0,170.7ZM1801.9,163.5 1801.3,161.3 1798.2,161.0 1797.2,164.3 1800.7,164.7ZM1720.9,185.5 1718.5,186.1 1718.3,188.6 1721.2,189.5 1721.6,189.1ZM1816.3,167.6 1815.1,165.6 1812.8,165.4 1812.0,167.3 1815.2,169.2ZM1637.8,191.9 1635.0,194.1 1635.1,194.5 1636.7,195.5 1638.7,193.6ZM1665.2,175.5 1667.0,175.3 1666.4,172.5 1664.0,173.5 1664.0,174.0ZM1676.4,158.9 1675.4,157.4 1674.4,157.1 1673.0,159.5 1674.3,160.4ZM1660.3,168.7 1661.9,170.4 1663.3,168.9 1662.8,167.8 1661.2,167.7ZM1801.7,197.1 1802.3,199.5 1805.3,199.5 1806.2,197.0ZM1642.9,190.3 1643.2,193.2 1644.8,193.3 1645.8,191.4ZM1651.8,193.7 1652.1,195.8 1654.1,195.0 1654.4,194.0 1652.5,192.8ZM1658.1,198.5 1657.4,197.7 1656.6,197.7 1655.4,199.5 1658.0,199.5ZM1702.9,176.4 1701.0,175.6 1698.3,176.9 1698.2,177.9 1702.8,178.0ZM1661.5,159.4 1663.7,158.4 1664.5,156.7 1662.8,154.8 1660.1,157.2ZM1631.7,153.2 1633.2,152.5 1631.2,152.5ZM1656.1,160.4 1656.7,157.8 1655.4,157.4 1653.9,158.4 1653.9,159.4ZM1683.2,158.2 1683.0,159.5 1684.3,161.3 1685.3,160.8 1685.3,159.5ZM1821.7,155.4 1823.5,155.5 1823.5,152.5 1822.1,152.5ZM1661.0,194.6 1662.0,196.2 1663.5,195.8 1663.8,193.6 1662.9,193.2ZM1680.5,181.5 1679.3,183.5 1679.7,185.1 1682.3,183.5ZM1663.5,181.5 1665.4,182.7 1666.3,180.1 1665.2,180.0ZM1709.2,187.2 1707.5,188.6 1707.7,191.0 1711.0,191.1 1711.6,189.6ZM1795.1,185.9 1794.4,189.6 1797.9,190.5 1798.3,190.3 1798.7,188.2ZM1811.4,157.4 1810.8,157.4 1808.1,160.0 1808.6,161.4 1811.1,161.8 1813.0,160.1ZM1676.2,193.9 1676.9,195.8 1677.6,195.9 1679.9,194.2 1678.2,192.7ZM1788.2,161.0 1790.2,160.1 1789.4,157.3 1787.0,158.1 1786.7,160.1ZM1711.0,183.8 1709.9,184.5 1709.7,186.4 1712.2,188.8 1713.0,188.3 1713.6,185.9ZM1630.3,192.1 1628.9,188.1 1628.5,188.2 1628.5,191.7ZM1668.1,190.1 1670.6,190.2 1671.6,188.6 1671.1,187.9 1669.7,187.3 1668.7,187.8ZM1668.3,168.5 1671.4,169.9 1672.0,168.3 1669.8,166.7ZM1732.7,197.8 1736.3,196.4 1736.1,194.9 1733.4,193.3 1731.3,196.4ZM1662.9,166.8 1664.3,165.1 1664.3,164.3 1661.5,164.9 1661.5,166.7ZM1722.7,173.5 1725.4,173.2 1726.3,171.1 1724.2,170.3 1721.8,172.3ZM1661.8,187.1 1659.0,187.8 1659.6,189.7 1661.4,189.8 1662.3,188.4ZM1628.5,196.5 1628.5,199.5 1629.9,199.5 1631.3,196.8 1629.9,195.9ZM1642.3,152.5 1644.5,154.0 1645.1,152.5ZM1661.2,198.5 1659.1,198.8 1659.0,199.5 1661.7,199.5ZM1635.5,177.9 1634.9,175.9 1632.6,176.7 1633.0,177.8ZM1753.6,163.5 1751.9,162.3 1749.2,165.8 1750.3,167.4 1751.2,167.6 1754.2,165.4ZM1672.8,199.5 1675.0,199.5 1674.5,197.8 1673.0,197.5ZM1634.9,152.5 1635.7,154.4 1637.3,153.4 1637.2,152.5ZM1745.5,172.0 1743.5,170.2 1742.0,170.6 1740.5,172.4 1743.7,176.0 1744.1,175.9ZM1701.9,169.5 1704.4,172.0 1707.1,170.2 1705.8,167.7 1702.1,169.1ZM1752.2,185.6 1752.8,188.4 1755.5,187.7 1756.1,186.3 1754.2,184.3ZM1688.4,156.7 1689.1,158.1 1690.3,158.1 1691.6,155.5 1690.6,154.8ZM1632.8,165.9 1631.7,168.7 1633.1,169.7 1635.3,167.8 1635.2,167.0ZM1813.9,154.8 1816.3,155.5 1816.8,155.0 1816.5,152.5 1813.3,152.5ZM1668.6,183.3 1668.6,181.7 1667.2,180.8 1666.2,183.5ZM1641.4,195.3 1640.1,197.7 1641.1,199.5 1642.1,199.5 1643.0,198.0ZM1649.7,197.7 1650.1,199.5 1652.7,199.5 1651.4,197.2ZM1799.6,196.3 1800.8,196.3 1801.3,192.7 1798.8,191.2 1797.3,194.6ZM1655.6,152.5 1652.8,152.5 1653.0,153.3 1654.7,154.1 1655.8,153.3ZM1756.0,156.0 1758.6,154.9 1758.7,152.5 1754.7,152.5 1754.8,154.8ZM1636.1,185.8 1635.5,188.4 1637.3,189.7 1638.8,187.6ZM1806.5,155.2 1807.5,159.2 1809.9,156.8 1809.0,155.1ZM1653.0,186.4 1654.1,185.8 1653.9,183.6 1650.6,184.3 1650.2,184.9 1651.3,186.2ZM1651.4,178.2 1651.4,179.7 1653.1,180.2 1654.1,178.1 1653.6,177.7ZM1699.0,172.9 1697.1,174.2 1698.1,175.9 1700.2,174.8ZM1639.5,165.4 1639.6,164.4 1638.2,162.8 1637.1,163.3 1636.7,165.8ZM1751.9,160.4 1755.4,157.4 1755.4,156.8 1754.2,155.6 1751.4,156.7ZM1642.7,185.3 1641.9,185.7 1641.6,186.9 1642.7,188.3 1644.9,187.0 1644.6,186.0ZM1666.7,169.2 1667.0,168.6 1664.8,166.0 1663.7,167.4 1664.2,168.6ZM1786.2,165.0 1787.7,164.2 1787.6,161.8 1786.1,160.9 1784.0,161.9 1784.5,164.3ZM1749.3,155.4 1748.9,152.5 1747.5,152.5 1746.0,154.7 1747.3,156.2ZM1692.2,199.5 1695.2,199.5 1695.2,198.8 1692.8,197.8 1692.3,198.1ZM1707.0,183.0 1709.3,183.7 1710.6,182.8 1709.0,179.4 1706.4,180.3ZM1646.2,179.1 1646.8,177.8 1646.7,177.2 1644.0,175.3 1643.3,175.9 1642.8,177.1 1643.1,177.9ZM1688.7,167.8 1690.6,168.3 1691.6,167.3 1691.7,166.4 1690.1,165.2 1688.5,167.2ZM1800.6,170.7 1796.4,169.5 1795.5,171.5 1796.0,173.5 1796.9,174.1 1800.3,172.0ZM1766.5,185.7 1764.4,190.1 1764.4,190.1 1769.4,189.4 1768.1,185.7ZM1791.8,175.7 1795.0,173.6 1794.5,172.0 1790.0,171.8ZM1696.2,198.6 1696.2,199.5 1699.4,199.5 1697.0,197.7ZM1662.5,178.4 1662.1,180.3 1662.8,180.8 1664.4,179.3 1663.7,178.4ZM1767.1,175.2 1765.2,176.6 1764.9,178.7 1770.0,180.3 1770.3,179.5 1768.4,175.3ZM1693.4,194.5 1694.7,194.0 1694.2,192.0 1693.2,191.8 1692.5,192.2 1692.3,193.7ZM1754.4,177.0 1758.1,178.3 1758.6,175.3 1756.7,174.4 1754.0,176.0ZM1791.3,167.3 1795.2,166.9 1795.5,165.3 1792.7,163.6 1790.6,165.3ZM1636.1,155.3 1637.3,156.6 1639.5,155.9 1639.4,155.1 1637.9,154.2ZM1690.3,188.0 1692.0,187.4 1690.2,185.2 1688.9,186.1 1689.1,187.2ZM1687.5,162.4 1685.8,161.6 1684.4,162.6 1685.9,164.0ZM1694.5,191.0 1695.6,190.1 1694.2,187.3 1692.7,188.1 1693.5,190.8ZM1729.9,174.5 1730.5,172.3 1727.3,171.2 1726.3,173.7 1727.5,175.4ZM1732.0,153.7 1734.4,153.7 1734.9,152.5 1731.3,152.5ZM1790.0,185.8 1793.8,184.9 1791.4,181.8 1790.3,182.1 1789.2,185.1ZM1682.7,184.4 1681.1,185.6 1682.8,187.4 1684.1,186.6ZM1675.0,164.6 1674.3,167.4 1676.6,168.8 1677.0,168.6 1677.2,167.7ZM1703.6,186.0 1706.9,187.8 1708.7,186.3 1708.8,184.6 1706.7,183.9ZM1701.0,162.9 1704.7,163.6 1705.6,161.4 1704.6,160.3 1701.8,160.8ZM1722.3,189.7 1721.8,190.3 1721.7,192.6 1724.7,193.5 1726.5,192.1 1726.9,190.7 1726.6,189.6ZM1783.6,176.6 1784.1,180.7 1784.9,181.2 1787.6,180.2 1787.3,177.9 1784.5,176.2ZM1732.1,181.7 1731.4,179.7 1728.6,179.9 1728.1,181.4 1730.3,183.8ZM1737.9,172.9 1735.4,170.0 1733.1,170.0 1732.1,171.7 1736.6,174.7ZM1697.0,168.5 1696.5,169.1 1698.8,171.9 1700.8,169.6ZM1685.2,194.1 1683.9,191.9 1682.9,191.8 1681.6,193.6 1685.0,194.7ZM1636.2,166.9 1636.3,167.9 1637.9,169.4 1638.7,169.5 1639.4,166.4ZM1713.5,152.5 1716.8,154.5 1717.3,154.2 1717.6,152.5ZM1751.3,190.8 1747.3,189.7 1747.1,193.1 1749.0,193.7 1751.5,191.5ZM1646.1,195.3 1645.7,197.2 1646.9,197.9 1648.9,197.1 1647.8,195.5ZM1803.7,186.9 1804.9,190.9 1808.2,188.9 1806.1,185.9ZM1655.5,194.0 1655.1,195.3 1656.5,196.7 1657.3,196.7 1658.3,194.7ZM1631.0,169.4 1630.0,170.4 1630.1,172.4 1631.3,173.1 1632.9,171.7 1632.7,170.6ZM1799.9,181.2 1799.7,177.5 1797.6,176.6 1796.5,179.2 1798.2,181.2ZM1763.2,169.7 1765.6,169.7 1766.1,169.2 1765.3,165.6 1764.7,165.3 1762.4,165.8ZM1664.3,188.2 1665.7,186.4 1665.3,185.3 1662.7,186.2 1663.3,188.0ZM1671.1,180.9 1669.6,181.7 1669.6,183.2 1671.7,182.9ZM1726.8,199.5 1732.2,199.5 1732.1,198.6 1730.5,197.1ZM1806.4,199.5 1809.3,199.5 1807.0,197.6ZM1768.6,156.0 1770.1,157.8 1771.2,157.6 1772.6,154.7 1769.1,154.4ZM1691.8,197.3 1692.3,197.0 1692.7,195.3 1691.6,194.5 1690.2,195.1 1690.0,196.4ZM1672.5,188.1 1675.4,186.7 1674.3,184.2 1673.4,184.3 1672.0,187.4ZM1657.7,166.8 1655.8,167.5 1656.3,169.7 1657.6,169.8 1659.3,168.6ZM1674.7,192.9 1675.6,193.2 1677.7,191.8 1677.5,190.9 1675.0,191.1ZM1820.4,159.6 1820.9,156.0 1817.5,155.7 1817.0,156.2 1816.8,158.3ZM1642.3,180.6 1643.6,182.0 1645.5,181.5 1646.0,180.1 1643.0,178.9ZM1806.9,167.4 1804.3,169.8 1805.9,171.9 1809.1,171.6 1808.8,168.6ZM1809.8,152.5 1806.1,152.5 1805.8,154.1 1808.9,154.1ZM1680.7,164.3 1680.4,161.4 1678.5,160.8 1678.2,162.8ZM1660.5,176.9 1659.3,178.5 1660.2,180.2 1661.2,180.1 1661.5,178.0ZM1727.5,192.2 1730.5,195.8 1732.7,192.5 1732.6,192.0 1727.8,191.2ZM1735.2,154.2 1736.6,156.8 1737.4,156.8 1739.1,154.8 1737.7,152.5 1736.1,152.5ZM1782.5,175.9 1780.3,172.1 1777.1,173.7 1779.7,176.7ZM1655.0,189.6 1656.0,187.3 1654.6,186.7 1653.7,187.2 1653.9,189.5ZM1636.3,158.7 1636.6,157.3 1635.4,156.0 1633.6,157.1 1635.4,159.0ZM1645.6,160.5 1643.4,161.7 1643.3,162.5 1644.1,163.2 1646.2,162.8ZM1653.2,176.8 1653.1,175.2 1651.4,174.1 1650.7,174.8 1651.3,177.1ZM1688.0,178.8 1689.3,179.8 1690.3,179.5 1690.2,177.3 1688.5,177.0ZM1665.9,198.1 1665.1,199.5 1668.0,199.5ZM1691.5,172.0 1691.2,172.6 1692.8,175.0 1694.7,173.8 1694.0,171.7ZM1675.4,177.0 1677.3,178.3 1678.2,176.7 1676.3,175.6ZM1821.8,174.8 1823.5,175.5 1823.5,172.0 1821.5,171.7ZM1783.7,154.9 1786.5,152.5 1782.0,152.5ZM1823.5,171.0 1823.5,168.0 1821.5,169.0 1821.7,170.7ZM1719.4,199.5 1725.8,199.5 1725.8,199.4 1724.6,198.1 1720.2,198.3ZM1778.3,192.7 1778.0,193.9 1781.1,195.9 1782.0,194.9 1781.6,191.9 1780.5,191.3ZM1628.5,161.9 1629.8,160.2 1629.2,159.6 1628.5,159.6ZM1668.4,160.2 1670.6,160.7 1671.2,159.8 1669.6,158.2 1668.6,158.6ZM1822.0,196.4 1822.4,197.2 1823.5,197.2 1823.5,193.5ZM1682.5,198.3 1681.8,198.2 1680.7,199.5 1683.2,199.5ZM1763.5,155.7 1761.1,156.6 1761.5,159.5 1764.4,159.4 1764.9,157.3ZM1718.7,177.5 1721.8,175.6 1721.9,174.2 1720.8,172.6 1717.1,175.6ZM1683.9,177.3 1681.7,177.2 1681.9,179.1 1684.3,179.1ZM1665.2,184.2 1665.2,183.8 1663.0,182.4 1662.0,184.2 1662.5,185.2ZM1679.2,153.9 1679.3,152.5 1676.7,152.5 1678.2,154.0ZM1737.5,185.2 1733.3,187.4 1734.0,189.6 1737.7,189.0ZM1821.8,184.4 1820.9,186.6 1823.5,187.7 1823.5,184.4ZM1652.9,191.9 1655.0,193.1 1655.5,191.2 1655.0,190.7 1653.6,190.5 1652.9,191.0ZM1773.8,199.5 1777.6,199.5 1775.7,197.6 1773.8,199.1ZM1628.5,167.8 1628.5,169.7 1629.3,169.7 1630.0,169.0ZM1769.9,190.3 1769.5,194.4 1770.3,195.0 1772.5,193.6 1772.3,190.2ZM1701.7,190.9 1698.9,192.0 1698.7,194.2 1701.6,194.6ZM1750.1,197.4 1748.3,198.6 1748.4,199.5 1752.0,199.5 1751.4,197.9ZM1637.8,181.4 1638.9,177.5 1638.6,177.3 1636.5,178.0 1636.4,178.4ZM1742.9,154.2 1745.1,154.2 1746.3,152.5 1743.1,152.5ZM1664.6,193.0 1667.4,193.6 1667.6,191.1 1666.1,190.7ZM1772.8,199.1 1770.5,197.4 1768.9,199.5 1772.8,199.5ZM1668.3,194.6 1670.1,196.6 1671.8,196.1 1671.8,194.2ZM1651.2,164.4 1653.1,166.5 1654.2,166.4 1654.2,164.1 1652.9,163.5ZM1679.6,186.1 1679.8,188.9 1681.7,189.0 1682.1,188.1 1680.1,186.1ZM1645.6,185.8 1645.9,186.9 1646.9,187.4 1648.7,185.2 1646.9,184.4ZM1751.0,173.9 1752.7,170.8 1751.1,168.6 1750.3,168.4 1748.7,171.7ZM1724.7,182.3 1723.2,180.8 1720.9,181.4 1721.2,184.5 1724.2,184.2ZM1648.0,166.0 1650.2,164.3 1649.3,162.9 1647.0,163.5ZM1698.2,183.7 1701.0,183.3 1701.0,182.2 1697.6,180.9ZM1765.4,164.5 1765.8,164.8 1769.7,163.9 1769.8,163.4 1768.3,161.4 1765.9,161.1ZM1677.3,196.9 1676.6,196.8 1675.4,197.5 1676.0,199.5 1678.1,199.5ZM1808.3,177.4 1805.0,175.8 1804.2,176.3 1804.5,180.1 1805.4,180.3Z" fill="#bcbc5c"/></g><path d="M1633,183 L1720,157.5 C1722,156 1724,155.5 1727,155.5 L1769,154.5 C1772,154.5 1775,155.5 1778,157 L1808,175 C1818,178 1823,184 1821,189 C1818,196 1806,198.5 1795,197 C1790,196 1787,194 1785,191 L1757,177.5 L1700,176.5 L1648,192.5 C1643,195 1636,196 1632,193.5 C1628,190.5 1628,185 1633,183 Z" fill="none" stroke="#f0f020" stroke-width="1.6"/><ellipse cx="1802" cy="187.5" rx="12.5" ry="6.8" fill="#808080" stroke="#f0f020" stroke-width="1.6"/><ellipse cx="1639" cy="188" rx="4.8" ry="3" fill="#808080" stroke="#f0f020" stroke-width="1.4"/><path d="M1695.7,69.5 H1753.4 V115.3 H1736.3 V83.3 H1712.7 V115.3 H1695.7 Z" fill="#b0acac" stroke="#505050" stroke-width="1.2"/><rect x="1713.2" y="83.8" width="22.6" height="37.5" fill="#fff"/><path d="M1712.7,83.3 H1736.3" stroke="#404040" stroke-width="1.5"/><rect x="1701.3" y="121" width="47.7" height="17.8" fill="#f00000" stroke="#b00000" stroke-width="1"/><path d="M1705.4,138.8 H1743.8 L1741,145 H1708.2 Z" fill="#d00000" stroke="#900000" stroke-width="0.8"/><path d="M1708.2,145 H1741 L1724.5,156.5 Z" fill="#d00000"/><path d="M1713,139 V145 M1722,139 V145 M1731,139 V145 M1739,139 V145" stroke="#900000" stroke-width="0.8"/><path d="M1724.5,58 V121" stroke="#f2f060" stroke-width="3" stroke-opacity="0.9"/><path d="M1724.5,121 V156" stroke="#f6a040" stroke-width="2"/>
<path d="M293.90,125.18 H305.49 V115.00 L317.30,135.25 L305.49,155.50 V145.50 H293.90 Z" fill="#9dc3e6" stroke="#000" stroke-width="2.0" stroke-linejoin="miter" stroke-miterlimit="10"/>
<path d="M623.40,125.46 H634.85 V115.80 L646.50,135.05 L634.85,154.30 V144.82 H623.40 Z" fill="#9dc3e6" stroke="#000" stroke-width="2.0" stroke-linejoin="miter" stroke-miterlimit="10"/>
<path d="M928.00,128.92 H939.41 V119.00 L951.00,138.75 L939.41,158.50 V148.76 H928.00 Z" fill="#9dc3e6" stroke="#000" stroke-width="2.0" stroke-linejoin="miter" stroke-miterlimit="10"/>
<path d="M1563.80,135.60 H1575.35 V126.20 L1587.10,144.95 L1575.35,163.70 V154.48 H1563.80 Z" fill="#9dc3e6" stroke="#000" stroke-width="2.0" stroke-linejoin="miter" stroke-miterlimit="10"/>
<path d="M1240.00,124.90 H1259.00 V103.20 L1278.20,144.45 L1259.00,185.70 V165.00 H1240.00 Z" fill="#ff0000" stroke="#000" stroke-width="1.5" stroke-linejoin="miter" stroke-miterlimit="10"/>
<path d="M863.30,407.57 H874.89 V398.20 L886.70,416.90 L874.89,435.60 V426.40 H863.30 Z" fill="#f4b183" stroke="#000" stroke-width="2.0" stroke-linejoin="miter" stroke-miterlimit="10"/>
<path d="M863.30,537.48 H874.89 V527.30 L886.70,547.55 L874.89,567.80 V557.80 H863.30 Z" fill="#f4b183" stroke="#000" stroke-width="2.0" stroke-linejoin="miter" stroke-miterlimit="10"/>
<path d="M863.30,667.13 H874.89 V657.50 L886.70,676.70 L874.89,695.90 V686.44 H863.30 Z" fill="#f4b183" stroke="#000" stroke-width="2.0" stroke-linejoin="miter" stroke-miterlimit="10"/>
<text x="69.70" y="256.80" font-size="30.7" textLength="132.63" lengthAdjust="spacingAndGlyphs">FEA result</text>
<text x="349.00" y="238.20" font-size="30.7" textLength="227.02" lengthAdjust="spacingAndGlyphs">Elasticity (relative</text>
<text x="295.70" y="274.60" font-size="30.7" textLength="294.05" lengthAdjust="spacingAndGlyphs">Young’s modulus) field</text>
<text x="600.31" y="274.60" font-size="30.7" font-style="italic" textLength="17.15" lengthAdjust="spacingAndGlyphs">E</text>
<text x="617.20" y="280.60" font-size="22" font-style="italic" textLength="9.99" lengthAdjust="spacingAndGlyphs">r</text>
<text x="694.20" y="238.00" font-size="30.7" textLength="100.51" lengthAdjust="spacingAndGlyphs">Relative</text>
<text x="806.73" y="238.00" font-size="30.7" textLength="85.83" lengthAdjust="spacingAndGlyphs">density</text>
<text x="744.40" y="274.50" font-size="30.7" textLength="55.84" lengthAdjust="spacingAndGlyphs">field</text>
<text x="811.24" y="274.50" font-size="30.7" font-style="italic" textLength="15.32" lengthAdjust="spacingAndGlyphs">ρ</text>
<text x="826.70" y="280.50" font-size="22" font-style="italic" textLength="9.80" lengthAdjust="spacingAndGlyphs">r</text>
<text x="975.90" y="238.00" font-size="30.7" textLength="245.44" lengthAdjust="spacingAndGlyphs">Voronoi site density</text>
<text x="1050.90" y="268.90" font-size="30.7" textLength="56.45" lengthAdjust="spacingAndGlyphs">field</text>
<text x="1117.44" y="268.90" font-size="30.7" font-style="italic" textLength="15.32" lengthAdjust="spacingAndGlyphs">ρ</text>
<text x="1132.90" y="274.90" font-size="22" font-style="italic" textLength="9.74" lengthAdjust="spacingAndGlyphs">s</text>
<text x="1281.50" y="238.00" font-size="30.7" textLength="100.94" lengthAdjust="spacingAndGlyphs">Tailored</text>
<text x="1391.96" y="238.00" font-size="30.7" textLength="39.16" lengthAdjust="spacingAndGlyphs">3D</text>
<text x="1438.60" y="238.00" font-size="30.7" textLength="98.93" lengthAdjust="spacingAndGlyphs">Voronoi</text>
<text x="1361.60" y="274.90" font-size="30.7" textLength="95.85" lengthAdjust="spacingAndGlyphs">FGPMs</text>
<text x="1642.20" y="238.20" font-size="30.7" textLength="138.44" lengthAdjust="spacingAndGlyphs">Fabricating</text>
<text x="1793.80" y="238.20" font-size="30.7" textLength="28.69" lengthAdjust="spacingAndGlyphs">by</text>
<text x="1708.80" y="274.90" font-size="30.7" textLength="47.37" lengthAdjust="spacingAndGlyphs">AM</text>
<path d="M420.3,279 C420.3,300 426,310 445,310 H585 C599,310 606.8,317 606.8,331 V357 M606.8,331 C606.8,317 614,310 628,310 H772 C787,310 793.7,300 793.7,279 M793.7,279 C793.7,302 800,312.8 815,312.8 H928 C942,312.8 949.3,320 949.3,334 V360 M949.3,334 C949.3,320 957,312.8 971,312.8 H1085 C1099,312.8 1104.8,303 1104.8,283.9" fill="none" stroke="#000" stroke-width="4.2" stroke-linecap="butt"/>
<rect x="1.45" y="366.7" width="855.15" height="356" fill="none" stroke="#000" stroke-width="3.3"/>
<rect x="890.5" y="368.4" width="782.9" height="354.1" fill="none" stroke="#000" stroke-width="3.3"/>
<text x="458.20" y="401.70" font-size="30.7" textLength="107.13" lengthAdjust="spacingAndGlyphs">Mapping</text>
<text x="578.70" y="401.70" font-size="30.7" textLength="75.12" lengthAdjust="spacingAndGlyphs">model</text>
<text x="666.33" y="401.70" font-size="30.7" font-style="italic" textLength="15.22" lengthAdjust="spacingAndGlyphs">ρ</text>
<text x="681.60" y="407.70" font-size="22" font-style="italic" textLength="10.65" lengthAdjust="spacingAndGlyphs">r</text>
<text x="696.03" y="401.70" font-size="30.7" textLength="9.88" lengthAdjust="spacingAndGlyphs">(</text>
<text x="709.87" y="401.70" font-size="30.7" font-style="italic" textLength="16.21" lengthAdjust="spacingAndGlyphs">E</text>
<text x="726.30" y="407.70" font-size="22" font-style="italic" textLength="10.56" lengthAdjust="spacingAndGlyphs">r</text>
<text x="743.40" y="401.70" font-size="30.7" textLength="8.74" lengthAdjust="spacingAndGlyphs">)</text>
<text x="915.80" y="402.80" font-size="30.7" textLength="107.53" lengthAdjust="spacingAndGlyphs">Mapping</text>
<text x="1036.30" y="402.80" font-size="30.7" textLength="75.32" lengthAdjust="spacingAndGlyphs">model</text>
<text x="1123.70" y="402.80" font-size="30.7" font-style="italic">ρ</text>
<text x="1139.40" y="408.80" font-size="22" font-style="italic" textLength="9.74" lengthAdjust="spacingAndGlyphs">s</text>
<text x="1152.67" y="402.80" font-size="30.7" textLength="8.52" lengthAdjust="spacingAndGlyphs">(</text>
<text x="1166.05" y="402.80" font-size="30.7" font-style="italic" textLength="13.94" lengthAdjust="spacingAndGlyphs">ρ</text>
<text x="1181.80" y="408.80" font-size="22" font-style="italic" textLength="10.27" lengthAdjust="spacingAndGlyphs">r</text>
<text x="1198.40" y="402.80" font-size="30.7" textLength="8.52" lengthAdjust="spacingAndGlyphs">)</text>
<path d="M77.30,425.50 H415.50 V652.50" fill="none" stroke="#333" stroke-width="1"/>
<path d="M72.30,652.50 H77.30 M74.50,629.80 H77.30 M72.30,607.10 H77.30 M74.50,584.40 H77.30 M72.30,561.70 H77.30 M74.50,539.00 H77.30 M72.30,516.30 H77.30 M74.50,493.60 H77.30 M72.30,470.90 H77.30 M74.50,448.20 H77.30 M72.30,425.50 H77.30 M77.30,652.50 V657.50 M111.10,652.50 V655.30 M144.90,652.50 V657.50 M178.70,652.50 V655.30 M212.50,652.50 V657.50 M246.30,652.50 V655.30 M280.10,652.50 V657.50 M313.90,652.50 V655.30 M347.70,652.50 V657.50 M381.50,652.50 V655.30 M415.30,652.50 V657.50" stroke="#000" stroke-width="1.6"/>
<path d="M77.30,424.70 V652.50 H415.30" fill="none" stroke="#000" stroke-width="2.4"/>
<text x="62.30" y="658.42" font-size="17.4" text-anchor="end">0</text>
<text x="62.30" y="613.02" font-size="17.4" text-anchor="end">0.2</text>
<text x="62.30" y="567.62" font-size="17.4" text-anchor="end">0.4</text>
<text x="62.30" y="522.22" font-size="17.4" text-anchor="end">0.6</text>
<text x="62.30" y="476.82" font-size="17.4" text-anchor="end">0.8</text>
<text x="62.30" y="431.42" font-size="17.4" text-anchor="end">1</text>
<text x="77.30" y="679.00" font-size="17.4" text-anchor="middle">0</text>
<text x="144.90" y="679.00" font-size="17.4" text-anchor="middle">0.2</text>
<text x="212.50" y="679.00" font-size="17.4" text-anchor="middle">0.4</text>
<text x="280.10" y="679.00" font-size="17.4" text-anchor="middle">0.6</text>
<text x="347.70" y="679.00" font-size="17.4" text-anchor="middle">0.8</text>
<text x="415.30" y="679.00" font-size="17.4" text-anchor="middle">1</text>
<g fill="#6f9acb"><circle cx="97.50" cy="651.30" r="2.6"/><circle cx="100.50" cy="651.20" r="2.6"/><circle cx="103.50" cy="650.90" r="2.6"/><circle cx="106.50" cy="650.60" r="2.6"/><circle cx="109.50" cy="650.20" r="2.6"/><circle cx="113.00" cy="649.80" r="2.6"/><circle cx="116.50" cy="649.20" r="2.6"/><circle cx="120.00" cy="648.70" r="2.6"/><circle cx="124.00" cy="648.10" r="2.6"/><circle cx="128.00" cy="647.40" r="2.6"/><circle cx="142.00" cy="645.90" r="2.6"/><circle cx="149.70" cy="643.30" r="2.6"/><circle cx="156.50" cy="640.60" r="2.6"/><circle cx="163.30" cy="639.00" r="2.6"/><circle cx="169.40" cy="637.20" r="2.6"/><circle cx="174.00" cy="636.00" r="2.6"/><circle cx="180.00" cy="633.30" r="2.6"/><circle cx="186.00" cy="630.90" r="2.6"/><circle cx="192.20" cy="628.70" r="2.6"/><circle cx="196.80" cy="626.90" r="2.6"/><circle cx="202.10" cy="623.80" r="2.6"/><circle cx="205.90" cy="621.00" r="2.6"/><circle cx="210.50" cy="618.50" r="2.6"/><circle cx="215.00" cy="615.50" r="2.6"/><circle cx="219.60" cy="612.60" r="2.6"/><circle cx="224.10" cy="610.20" r="2.6"/><circle cx="231.00" cy="606.60" r="2.6"/><circle cx="237.80" cy="601.30" r="2.6"/><circle cx="244.60" cy="597.40" r="2.6"/><circle cx="251.20" cy="591.80" r="2.6"/></g>
<polyline points="99.27,650.77 101.79,650.43 104.32,650.06 106.84,649.67 109.36,649.26 111.89,648.82 114.41,648.37 116.94,647.89 119.46,647.40 121.98,646.88 124.51,646.35 127.03,645.79 129.55,645.22 132.08,644.63 134.60,644.02 137.13,643.39 139.65,642.74 142.17,642.08 144.70,641.40 147.22,640.70 149.74,639.99 152.27,639.25 154.79,638.51 157.32,637.74 159.84,636.97 162.36,636.17 164.89,635.36 167.41,634.53 169.93,633.69 172.46,632.83 174.98,631.96 177.51,631.08 180.03,630.17 182.55,629.26 185.08,628.33 187.60,627.38 190.12,626.42 192.65,625.45 195.17,624.46 197.70,623.46 200.22,622.44 202.74,621.41 205.27,620.37 207.79,619.31 210.31,618.24 212.84,617.16 215.36,616.06 217.89,614.95 220.41,613.82 222.93,612.69 225.46,611.54 227.98,610.37 230.50,609.20 233.03,608.01 235.55,606.81 238.08,605.59 240.60,604.37 243.12,603.13 245.65,601.88 248.17,600.61 250.69,599.34" fill="none" stroke="#c0182c" stroke-width="2.5" stroke-linejoin="round"/>
<text y="705" font-size="22.5"><tspan x="112.9" textLength="239.5" lengthAdjust="spacingAndGlyphs">Relative Young's modulus</tspan><tspan x="357" font-style="italic">E</tspan><tspan font-style="italic" font-size="15" dy="4">r</tspan></text>
<text transform="translate(33.0,622.5) scale(1.14,1) rotate(-90)" font-size="22"><tspan x="0" y="0" textLength="143" lengthAdjust="spacingAndGlyphs">Relative density</tspan><tspan x="149" font-style="italic">ρ</tspan><tspan font-style="italic" font-size="15" dy="4">r</tspan></text>
<text x="86.84" y="454.10" font-size="23" fill="#1c22a8" font-style="italic" textLength="10.40" lengthAdjust="spacingAndGlyphs">ρ</text><text x="98.00" y="457.60" font-size="16" fill="#1c22a8" font-style="italic" textLength="6.05" lengthAdjust="spacingAndGlyphs">r</text><text x="110.53" y="454.10" font-size="23" fill="#1c22a8" textLength="15.21" lengthAdjust="spacingAndGlyphs">=</text><text x="132.20" y="454.10" font-size="23" fill="#1c22a8" textLength="52.91" lengthAdjust="spacingAndGlyphs">0.708</text><text x="186.26" y="454.10" font-size="23" fill="#1c22a8" font-style="italic" textLength="12.08" lengthAdjust="spacingAndGlyphs">E</text><text x="199.00" y="457.60" font-size="16" fill="#1c22a8" font-style="italic" textLength="6.14" lengthAdjust="spacingAndGlyphs">r</text><text x="205.69" y="446.50" font-size="14.5" fill="#1c22a8" textLength="40.45" lengthAdjust="spacingAndGlyphs">1.6574</text><text x="88.26" y="491.30" font-size="23" fill="#1c22a8" font-style="italic" textLength="12.08" lengthAdjust="spacingAndGlyphs">R</text><text x="104.80" y="491.30" font-size="23" fill="#1c22a8">²</text><text x="115.02" y="491.30" font-size="23" fill="#1c22a8" textLength="15.33" lengthAdjust="spacingAndGlyphs">=</text><text x="136.00" y="491.30" font-size="23" fill="#1c22a8" textLength="64.31" lengthAdjust="spacingAndGlyphs">0.9883</text>
<path d="M510.00,426.50 H842.50 V651.20" fill="none" stroke="#333" stroke-width="1"/>
<path d="M505.00,651.20 H510.00 M507.20,628.68 H510.00 M505.00,606.16 H510.00 M507.20,583.64 H510.00 M505.00,561.12 H510.00 M507.20,538.60 H510.00 M505.00,516.08 H510.00 M507.20,493.56 H510.00 M505.00,471.04 H510.00 M507.20,448.52 H510.00 M505.00,426.00 H510.00 M510.00,651.20 V656.20 M543.20,651.20 V654.00 M576.40,651.20 V656.20 M609.60,651.20 V654.00 M642.80,651.20 V656.20 M676.00,651.20 V654.00 M709.20,651.20 V656.20 M742.40,651.20 V654.00 M775.60,651.20 V656.20 M808.80,651.20 V654.00 M842.00,651.20 V656.20" stroke="#000" stroke-width="1.6"/>
<path d="M510.00,425.20 V651.20 H842.00" fill="none" stroke="#000" stroke-width="2.4"/>
<text x="495.00" y="657.12" font-size="17.4" text-anchor="end">0</text>
<text x="495.00" y="612.08" font-size="17.4" text-anchor="end">0.2</text>
<text x="495.00" y="567.04" font-size="17.4" text-anchor="end">0.4</text>
<text x="495.00" y="522.00" font-size="17.4" text-anchor="end">0.6</text>
<text x="495.00" y="476.96" font-size="17.4" text-anchor="end">0.8</text>
<text x="495.00" y="431.92" font-size="17.4" text-anchor="end">1</text>
<text x="510.00" y="677.00" font-size="17.4" text-anchor="middle">0</text>
<text x="576.40" y="677.00" font-size="17.4" text-anchor="middle">0.2</text>
<text x="642.80" y="677.00" font-size="17.4" text-anchor="middle">0.4</text>
<text x="709.20" y="677.00" font-size="17.4" text-anchor="middle">0.6</text>
<text x="775.60" y="677.00" font-size="17.4" text-anchor="middle">0.8</text>
<text x="842.00" y="677.00" font-size="17.4" text-anchor="middle">1</text>
<g fill="#6f9acb"><circle cx="673.34" cy="593.81" r="2.6"/><circle cx="676.83" cy="591.05" r="2.6"/><circle cx="680.32" cy="588.21" r="2.6"/><circle cx="683.80" cy="585.29" r="2.6"/><circle cx="687.29" cy="582.30" r="2.6"/><circle cx="690.77" cy="579.23" r="2.6"/><circle cx="694.26" cy="576.09" r="2.6"/><circle cx="697.75" cy="572.86" r="2.6"/><circle cx="701.23" cy="569.56" r="2.6"/><circle cx="704.72" cy="566.18" r="2.6"/><circle cx="708.20" cy="562.72" r="2.6"/><circle cx="711.69" cy="559.18" r="2.6"/><circle cx="715.18" cy="555.56" r="2.6"/><circle cx="718.66" cy="551.87" r="2.6"/><circle cx="722.15" cy="548.09" r="2.6"/><circle cx="725.63" cy="544.23" r="2.6"/><circle cx="729.12" cy="540.29" r="2.6"/><circle cx="732.61" cy="536.26" r="2.6"/><circle cx="736.09" cy="532.16" r="2.6"/><circle cx="739.58" cy="527.97" r="2.6"/><circle cx="743.06" cy="523.70" r="2.6"/><circle cx="746.55" cy="519.35" r="2.6"/><circle cx="750.04" cy="514.91" r="2.6"/><circle cx="753.52" cy="510.39" r="2.6"/><circle cx="757.01" cy="505.79" r="2.6"/><circle cx="760.49" cy="501.10" r="2.6"/><circle cx="763.98" cy="496.32" r="2.6"/><circle cx="767.47" cy="491.46" r="2.6"/><circle cx="770.95" cy="486.52" r="2.6"/><circle cx="774.44" cy="481.49" r="2.6"/><circle cx="777.92" cy="476.37" r="2.6"/><circle cx="781.41" cy="471.17" r="2.6"/><circle cx="784.90" cy="465.87" r="2.6"/><circle cx="788.38" cy="460.50" r="2.6"/><circle cx="791.87" cy="455.03" r="2.6"/><circle cx="795.35" cy="449.48" r="2.6"/></g>
<polyline points="676.00,593.29 678.00,591.68 680.01,590.04 682.01,588.38 684.01,586.69 686.02,584.98 688.02,583.24 690.02,581.48 692.02,579.69 694.03,577.88 696.03,576.04 698.03,574.17 700.04,572.28 702.04,570.36 704.04,568.42 706.05,566.45 708.05,564.45 710.05,562.43 712.06,560.38 714.06,558.31 716.06,556.21 718.06,554.08 720.07,551.93 722.07,549.75 724.07,547.54 726.08,545.31 728.08,543.05 730.08,540.76 732.09,538.45 734.09,536.10 736.09,533.73 738.10,531.34 740.10,528.92 742.10,526.46 744.10,523.99 746.11,521.48 748.11,518.95 750.11,516.39 752.12,513.80 754.12,511.18 756.12,508.54 758.13,505.87 760.13,503.17 762.13,500.44 764.13,497.68 766.14,494.90 768.14,492.09 770.14,489.25 772.15,486.38 774.15,483.48 776.15,480.56 778.16,477.60 780.16,474.62 782.16,471.61 784.17,468.57 786.17,465.50 788.17,462.40 790.17,459.27 792.18,456.12 794.18,452.93 796.18,449.72" fill="none" stroke="#c0182c" stroke-width="2.5" stroke-linejoin="round"/>
<text y="707.4" font-size="22.5"><tspan x="548.6" textLength="239.5" lengthAdjust="spacingAndGlyphs">Relative Young's modulus</tspan><tspan x="792.7" font-style="italic">E</tspan><tspan font-style="italic" font-size="15" dy="4">r</tspan></text>
<text transform="translate(466.3,621.8) scale(1.14,1) rotate(-90)" font-size="22"><tspan x="0" y="0" textLength="143" lengthAdjust="spacingAndGlyphs">Relative density</tspan><tspan x="149" font-style="italic">ρ</tspan><tspan font-style="italic" font-size="15" dy="4">r</tspan></text>
<text x="525.87" y="457.30" font-size="22.5" fill="#1c22a8" font-style="italic" textLength="10.44" lengthAdjust="spacingAndGlyphs">ρ</text><text x="537.50" y="460.80" font-size="15.5" fill="#1c22a8" font-style="italic" textLength="5.43" lengthAdjust="spacingAndGlyphs">r</text><text x="549.11" y="457.30" font-size="22.5" fill="#1c22a8" textLength="15.11" lengthAdjust="spacingAndGlyphs">=</text><text x="571.06" y="457.30" font-size="22.5" fill="#1c22a8" textLength="64.09" lengthAdjust="spacingAndGlyphs">1.2569</text><text x="636.37" y="457.30" font-size="22.5" fill="#1c22a8" font-style="italic" textLength="11.91" lengthAdjust="spacingAndGlyphs">E</text><text x="649.80" y="460.80" font-size="15.5" fill="#1c22a8" font-style="italic" textLength="5.34" lengthAdjust="spacingAndGlyphs">r</text><text x="656.60" y="450.50" font-size="14.5" fill="#1c22a8" textLength="41.26" lengthAdjust="spacingAndGlyphs">2.2892</text><text x="526.45" y="495.20" font-size="23" fill="#1c22a8" font-style="italic" textLength="13.39" lengthAdjust="spacingAndGlyphs">R</text><text x="543.50" y="495.20" font-size="23" fill="#1c22a8">²</text><text x="553.52" y="495.20" font-size="23" fill="#1c22a8" textLength="15.33" lengthAdjust="spacingAndGlyphs">=</text><text x="575.20" y="495.20" font-size="23" fill="#1c22a8" textLength="64.51" lengthAdjust="spacingAndGlyphs">0.9996</text>
<path d="M965.20,428.50 H1265.50 V657.40" fill="none" stroke="#333" stroke-width="1"/>
<path d="M960.20,657.40 H965.20 M962.40,628.78 H965.20 M960.20,600.16 H965.20 M962.40,571.54 H965.20 M960.20,542.92 H965.20 M962.40,514.30 H965.20 M960.20,485.68 H965.20 M962.40,457.06 H965.20 M960.20,428.44 H965.20 M965.20,657.40 V662.40 M1032.00,657.40 V662.40 M1098.80,657.40 V662.40 M1165.60,657.40 V662.40 M1232.40,657.40 V662.40" stroke="#000" stroke-width="1.6"/>
<path d="M965.20,427.64 V657.40 H1265.80" fill="none" stroke="#000" stroke-width="2.4"/>
<text x="952.00" y="662.94" font-size="16.3" text-anchor="end">0</text>
<text x="952.00" y="605.70" font-size="16.3" text-anchor="end">0.2</text>
<text x="952.00" y="548.46" font-size="16.3" text-anchor="end">0.4</text>
<text x="952.00" y="491.22" font-size="16.3" text-anchor="end">0.6</text>
<text x="952.00" y="433.98" font-size="16.3" text-anchor="end">0.8</text>
<text x="965.20" y="682.00" font-size="16.3" text-anchor="middle">0</text>
<text x="1032.00" y="682.00" font-size="16.3" text-anchor="middle">0.2</text>
<text x="1098.80" y="682.00" font-size="16.3" text-anchor="middle">0.4</text>
<text x="1165.60" y="682.00" font-size="16.3" text-anchor="middle">0.6</text>
<text x="1232.40" y="682.00" font-size="16.3" text-anchor="middle">0.8</text>
<g fill="#6f9acb"><circle cx="1001.94" cy="655.22" r="1.7"/><circle cx="1005.78" cy="654.90" r="1.7"/><circle cx="1009.62" cy="654.54" r="1.7"/><circle cx="1013.46" cy="654.14" r="1.7"/><circle cx="1017.30" cy="653.70" r="1.7"/><circle cx="1021.15" cy="653.22" r="1.7"/><circle cx="1024.99" cy="652.69" r="1.7"/><circle cx="1028.83" cy="652.13" r="1.7"/><circle cx="1032.67" cy="651.52" r="1.7"/><circle cx="1036.51" cy="650.87" r="1.7"/><circle cx="1040.35" cy="650.18" r="1.7"/><circle cx="1044.19" cy="649.44" r="1.7"/><circle cx="1048.03" cy="648.65" r="1.7"/><circle cx="1051.87" cy="647.83" r="1.7"/><circle cx="1055.71" cy="646.95" r="1.7"/><circle cx="1059.56" cy="646.03" r="1.7"/><circle cx="1063.40" cy="645.07" r="1.7"/><circle cx="1067.24" cy="644.06" r="1.7"/><circle cx="1071.08" cy="643.00" r="1.7"/><circle cx="1074.92" cy="641.90" r="1.7"/><circle cx="1078.76" cy="640.74" r="1.7"/><circle cx="1082.60" cy="639.54" r="1.7"/><circle cx="1086.44" cy="638.29" r="1.7"/><circle cx="1090.28" cy="637.00" r="1.7"/><circle cx="1094.12" cy="635.65" r="1.7"/><circle cx="1097.97" cy="634.26" r="1.7"/><circle cx="1101.81" cy="632.81" r="1.7"/><circle cx="1105.65" cy="631.32" r="1.7"/><circle cx="1109.49" cy="629.77" r="1.7"/><circle cx="1113.33" cy="628.18" r="1.7"/><circle cx="1117.17" cy="626.54" r="1.7"/><circle cx="1121.01" cy="624.84" r="1.7"/><circle cx="1124.85" cy="623.09" r="1.7"/><circle cx="1128.69" cy="621.30" r="1.7"/><circle cx="1132.53" cy="619.45" r="1.7"/></g>
<polyline points="1003.61,655.95 1005.82,655.76 1008.03,655.55 1010.24,655.34 1012.45,655.11 1014.66,654.87 1016.87,654.61 1019.08,654.34 1021.29,654.06 1023.50,653.76 1025.71,653.45 1027.92,653.12 1030.13,652.79 1032.34,652.43 1034.55,652.07 1036.76,651.68 1038.97,651.29 1041.18,650.88 1043.39,650.45 1045.60,650.01 1047.81,649.56 1050.02,649.09 1052.23,648.61 1054.44,648.11 1056.65,647.59 1058.86,647.06 1061.07,646.52 1063.28,645.96 1065.49,645.38 1067.70,644.79 1069.91,644.19 1072.12,643.56 1074.33,642.93 1076.54,642.27 1078.75,641.60 1080.96,640.92 1083.17,640.22 1085.38,639.50 1087.59,638.77 1089.80,638.02 1092.01,637.26 1094.22,636.48 1096.43,635.68 1098.64,634.86 1100.85,634.03 1103.06,633.19 1105.27,632.33 1107.48,631.45 1109.69,630.55 1111.90,629.64 1114.11,628.71 1116.32,627.76 1118.53,626.80 1120.74,625.82 1122.95,624.82 1125.16,623.81 1127.37,622.78 1129.58,621.73 1131.79,620.67 1134.00,619.59 1136.21,618.49" fill="none" stroke="#c0182c" stroke-width="2.4" stroke-linejoin="round"/>
<text y="705" font-size="20"><tspan x="1040" textLength="128" lengthAdjust="spacingAndGlyphs">Relative density</tspan><tspan x="1172.5" font-style="italic">ρ</tspan><tspan font-style="italic" font-size="14" dy="4">r</tspan></text>
<text transform="translate(924.5,636.5) rotate(-90)" font-size="21.5"><tspan x="0" y="0" textLength="170" lengthAdjust="spacingAndGlyphs">Voronoi site density</tspan><tspan x="175" font-style="italic">ρ</tspan><tspan font-style="italic" font-size="14.5" dy="4">s</tspan></text>
<text x="975.00" y="461.70" font-size="21" fill="#1c22a8" font-style="italic">ρ</text><text x="985.60" y="465.20" font-size="14" fill="#1c22a8" font-style="italic" textLength="3.90" lengthAdjust="spacingAndGlyphs">s</text><text x="991.71" y="461.70" font-size="21" fill="#1c22a8" textLength="12.91" lengthAdjust="spacingAndGlyphs">=</text><text x="1009.50" y="461.70" font-size="21" fill="#1c22a8" textLength="54.88" lengthAdjust="spacingAndGlyphs">0.5936</text><text x="1065.64" y="461.70" font-size="21" fill="#1c22a8" font-style="italic" textLength="10.45" lengthAdjust="spacingAndGlyphs">ρ</text><text x="1076.00" y="465.20" font-size="14" fill="#1c22a8" font-style="italic" textLength="4.81" lengthAdjust="spacingAndGlyphs">r</text><text x="1082.00" y="454.40" font-size="13.5" fill="#1c22a8" textLength="34.57" lengthAdjust="spacingAndGlyphs">2.2017</text><text x="975.58" y="496.90" font-size="20.5" fill="#1c22a8" font-style="italic" textLength="11.00" lengthAdjust="spacingAndGlyphs">R</text><text x="987.70" y="496.90" font-size="20.5" fill="#1c22a8">²</text><text x="996.81" y="496.90" font-size="20.5" fill="#1c22a8" textLength="12.60" lengthAdjust="spacingAndGlyphs">=</text><text x="1014.60" y="496.90" font-size="20.5" fill="#1c22a8" textLength="56.05" lengthAdjust="spacingAndGlyphs">0.9967</text>
<path d="M1362.70,426.50 H1662.50 V654.80" fill="none" stroke="#333" stroke-width="1"/>
<path d="M1357.70,654.80 H1362.70 M1359.90,626.30 H1362.70 M1357.70,597.80 H1362.70 M1359.90,569.30 H1362.70 M1357.70,540.80 H1362.70 M1359.90,512.30 H1362.70 M1357.70,483.80 H1362.70 M1359.90,455.30 H1362.70 M1357.70,426.80 H1362.70 M1362.70,654.80 V659.80 M1429.30,654.80 V659.80 M1495.90,654.80 V659.80 M1562.50,654.80 V659.80 M1629.10,654.80 V659.80" stroke="#000" stroke-width="1.6"/>
<path d="M1362.70,426.00 V654.80 H1662.40" fill="none" stroke="#000" stroke-width="2.4"/>
<text x="1349.50" y="660.34" font-size="16.3" text-anchor="end">0</text>
<text x="1349.50" y="603.34" font-size="16.3" text-anchor="end">0.2</text>
<text x="1349.50" y="546.34" font-size="16.3" text-anchor="end">0.4</text>
<text x="1349.50" y="489.34" font-size="16.3" text-anchor="end">0.6</text>
<text x="1349.50" y="432.34" font-size="16.3" text-anchor="end">0.8</text>
<text x="1362.70" y="681.00" font-size="16.3" text-anchor="middle">0</text>
<text x="1429.30" y="681.00" font-size="16.3" text-anchor="middle">0.2</text>
<text x="1495.90" y="681.00" font-size="16.3" text-anchor="middle">0.4</text>
<text x="1562.50" y="681.00" font-size="16.3" text-anchor="middle">0.6</text>
<text x="1629.10" y="681.00" font-size="16.3" text-anchor="middle">0.8</text>
<g fill="#6f9acb"><circle cx="1532.53" cy="615.97" r="2.0"/><circle cx="1536.03" cy="614.69" r="2.0"/><circle cx="1539.52" cy="613.29" r="2.0"/><circle cx="1543.02" cy="611.79" r="2.0"/><circle cx="1546.52" cy="610.18" r="2.0"/><circle cx="1550.01" cy="608.44" r="2.0"/><circle cx="1553.51" cy="606.57" r="2.0"/><circle cx="1557.01" cy="604.37" r="2.0"/><circle cx="1560.50" cy="601.62" r="2.0"/><circle cx="1564.00" cy="598.72" r="2.0"/><circle cx="1567.49" cy="595.67" r="2.0"/><circle cx="1570.99" cy="592.44" r="2.0"/><circle cx="1574.49" cy="589.04" r="2.0"/><circle cx="1577.98" cy="585.45" r="2.0"/><circle cx="1581.48" cy="581.66" r="2.0"/><circle cx="1584.98" cy="577.67" r="2.0"/><circle cx="1588.47" cy="573.45" r="2.0"/><circle cx="1591.97" cy="569.00" r="2.0"/><circle cx="1595.47" cy="564.31" r="2.0"/><circle cx="1598.96" cy="559.36" r="2.0"/><circle cx="1602.46" cy="554.14" r="2.0"/><circle cx="1605.96" cy="548.63" r="2.0"/><circle cx="1609.45" cy="542.81" r="2.0"/><circle cx="1612.95" cy="536.68" r="2.0"/><circle cx="1616.45" cy="530.20" r="2.0"/><circle cx="1619.94" cy="523.38" r="2.0"/><circle cx="1623.44" cy="516.17" r="2.0"/><circle cx="1626.94" cy="508.57" r="2.0"/><circle cx="1630.43" cy="500.55" r="2.0"/><circle cx="1633.93" cy="491.19" r="2.0"/><circle cx="1637.42" cy="480.17" r="2.0"/><circle cx="1640.92" cy="468.65" r="2.0"/><circle cx="1644.42" cy="456.62" r="2.0"/><circle cx="1647.91" cy="444.04" r="2.0"/></g>
<polyline points="1533.20,620.18 1535.13,619.14 1537.06,618.07 1538.99,616.97 1540.92,615.83 1542.85,614.66 1544.78,613.45 1546.72,612.21 1548.65,610.93 1550.58,609.61 1552.51,608.26 1554.44,606.86 1556.37,605.42 1558.30,603.93 1560.24,602.40 1562.17,600.83 1564.10,599.21 1566.03,597.54 1567.96,595.82 1569.89,594.04 1571.82,592.22 1573.76,590.34 1575.69,588.40 1577.62,586.41 1579.55,584.35 1581.48,582.23 1583.41,580.05 1585.34,577.81 1587.28,575.49 1589.21,573.11 1591.14,570.66 1593.07,568.13 1595.00,565.52 1596.93,562.84 1598.86,560.08 1600.80,557.23 1602.73,554.30 1604.66,551.28 1606.59,548.17 1608.52,544.96 1610.45,541.66 1612.38,538.26 1614.31,534.76 1616.25,531.15 1618.18,527.44 1620.11,523.61 1622.04,519.67 1623.97,515.61 1625.90,511.43 1627.83,507.12 1629.77,502.68 1631.70,498.11 1633.63,493.40 1635.56,488.55 1637.49,483.55 1639.42,478.41 1641.35,473.11 1643.29,467.65 1645.22,462.02 1647.15,456.23 1649.08,450.26" fill="none" stroke="#c0182c" stroke-width="2.4" stroke-linejoin="round"/>
<text y="702.5" font-size="20"><tspan x="1450.4" textLength="128" lengthAdjust="spacingAndGlyphs">Relative density</tspan><tspan x="1583" font-style="italic">ρ</tspan><tspan font-style="italic" font-size="14" dy="4">r</tspan></text>
<text transform="translate(1324.5,636) rotate(-90)" font-size="21.5"><tspan x="0" y="0" textLength="172" lengthAdjust="spacingAndGlyphs">Voronoi site density</tspan><tspan x="177" font-style="italic">ρ</tspan><tspan font-style="italic" font-size="14.5" dy="4">s</tspan></text>
<text x="1377.18" y="459.00" font-size="19" fill="#1c22a8" font-style="italic" textLength="7.11" lengthAdjust="spacingAndGlyphs">ρ</text><text x="1385.60" y="462.50" font-size="13" fill="#1c22a8" font-style="italic" textLength="5.46" lengthAdjust="spacingAndGlyphs">s</text><text x="1395.30" y="459.00" font-size="19" fill="#1c22a8" textLength="10.39" lengthAdjust="spacingAndGlyphs">=</text><text x="1409.80" y="459.00" font-size="19" fill="#1c22a8" textLength="47.35" lengthAdjust="spacingAndGlyphs">0.0089</text><text x="1457.50" y="459.00" font-size="19" fill="#1c22a8" font-style="italic" textLength="8.33" lengthAdjust="spacingAndGlyphs">e</text><text x="1466.40" y="453.20" font-size="12" fill="#1c22a8" textLength="30.90" lengthAdjust="spacingAndGlyphs">5.1046</text><text x="1499.33" y="453.20" font-size="12" fill="#1c22a8" font-style="italic" textLength="10.73" lengthAdjust="spacingAndGlyphs">ρr</text><text x="1377.75" y="491.40" font-size="18.5" fill="#1c22a8" font-style="italic" textLength="9.61" lengthAdjust="spacingAndGlyphs">R</text><text x="1387.80" y="491.40" font-size="18.5" fill="#1c22a8">²</text><text x="1398.20" y="491.40" font-size="18.5" fill="#1c22a8" textLength="10.12" lengthAdjust="spacingAndGlyphs">=</text><text x="1412.70" y="491.40" font-size="18.5" fill="#1c22a8" textLength="47.13" lengthAdjust="spacingAndGlyphs">0.9971</text>
</svg>
</body></html>
